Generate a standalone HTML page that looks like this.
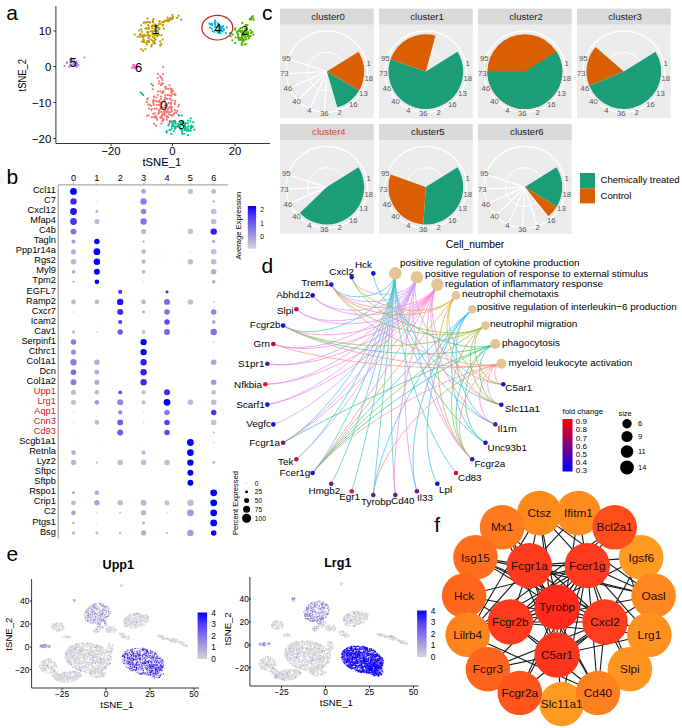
<!DOCTYPE html>
<html><head><meta charset="utf-8"><title>Figure</title>
<style>html,body{margin:0;padding:0;background:#fff}body{width:682px;height:728px;overflow:hidden;font-family:"Liberation Sans",sans-serif}svg{display:block}text{font-family:"Liberation Sans",sans-serif}</style>
</head><body>
<svg width="682" height="728" viewBox="0 0 682 728" font-family="Liberation Sans, sans-serif">
<rect width="682" height="728" fill="#fff"/>
<text x="6.2" y="19.8" font-size="21" text-anchor="start" fill="#000" >a</text>
<text x="6.5" y="183.9" font-size="21" text-anchor="start" fill="#000" >b</text>
<text x="262.1" y="20.0" font-size="21" text-anchor="start" fill="#000" >c</text>
<text x="261.6" y="273.0" font-size="21" text-anchor="start" fill="#000" >d</text>
<text x="6.4" y="561.3" font-size="21" text-anchor="start" fill="#000" >e</text>
<text x="434.3" y="532.0" font-size="21" text-anchor="start" fill="#000" >f</text>
<path d="M55.9 6V143.5H270" fill="none" stroke="#000" stroke-width="0.8"/>
<path d="M53.4 31H55.9" stroke="#000" stroke-width="0.8"/>
<text x="51.3" y="35.0" font-size="11.4" text-anchor="end" fill="#000" >10</text>
<path d="M53.4 66.5H55.9" stroke="#000" stroke-width="0.8"/>
<text x="51.3" y="70.5" font-size="11.4" text-anchor="end" fill="#000" >0</text>
<path d="M53.4 102.5H55.9" stroke="#000" stroke-width="0.8"/>
<text x="51.3" y="106.5" font-size="11.4" text-anchor="end" fill="#000" >−10</text>
<path d="M53.4 138.5H55.9" stroke="#000" stroke-width="0.8"/>
<text x="51.3" y="142.5" font-size="11.4" text-anchor="end" fill="#000" >−20</text>
<path d="M111 143.5v2.5" stroke="#000" stroke-width="0.8"/>
<text x="111.0" y="155.1" font-size="11.3" text-anchor="middle" fill="#000" >−20</text>
<path d="M172.5 143.5v2.5" stroke="#000" stroke-width="0.8"/>
<text x="172.5" y="155.1" font-size="11.3" text-anchor="middle" fill="#000" >0</text>
<path d="M235 143.5v2.5" stroke="#000" stroke-width="0.8"/>
<text x="235.0" y="155.1" font-size="11.3" text-anchor="middle" fill="#000" >20</text>
<text x="161.9" y="166.2" font-size="11.3" text-anchor="middle" fill="#000" >tSNE_1</text>
<text x="26.3" y="75.2" font-size="10.6" text-anchor="middle" fill="#000" transform="rotate(-90 26.3 75.2)" textLength="32.6" lengthAdjust="spacingAndGlyphs">tSNE_2</text>
<g fill="#F8766D"><circle cx="159.7" cy="111.9" r="1.1"/><circle cx="160.0" cy="102.4" r="1.1"/><circle cx="153.6" cy="103.5" r="1.1"/><circle cx="172.0" cy="110.9" r="1.1"/><circle cx="171.3" cy="108.9" r="1.1"/><circle cx="165.6" cy="108.1" r="1.1"/><circle cx="147.0" cy="115.8" r="1.1"/><circle cx="166.6" cy="111.7" r="1.1"/><circle cx="154.0" cy="100.6" r="1.1"/><circle cx="164.7" cy="105.5" r="1.1"/><circle cx="166.7" cy="98.6" r="1.1"/><circle cx="164.8" cy="110.5" r="1.1"/><circle cx="156.0" cy="125.8" r="1.1"/><circle cx="167.0" cy="119.8" r="1.1"/><circle cx="156.4" cy="97.5" r="1.1"/><circle cx="158.9" cy="104.8" r="1.1"/><circle cx="167.7" cy="108.9" r="1.1"/><circle cx="158.0" cy="95.0" r="1.1"/><circle cx="157.3" cy="120.0" r="1.1"/><circle cx="154.7" cy="108.8" r="1.1"/><circle cx="165.8" cy="88.9" r="1.1"/><circle cx="162.4" cy="121.0" r="1.1"/><circle cx="161.0" cy="96.6" r="1.1"/><circle cx="166.5" cy="105.3" r="1.1"/><circle cx="148.8" cy="115.5" r="1.1"/><circle cx="168.0" cy="116.9" r="1.1"/><circle cx="175.0" cy="110.2" r="1.1"/><circle cx="163.1" cy="91.1" r="1.1"/><circle cx="167.5" cy="99.0" r="1.1"/><circle cx="157.9" cy="91.5" r="1.1"/><circle cx="153.3" cy="99.9" r="1.1"/><circle cx="148.9" cy="108.8" r="1.1"/><circle cx="175.0" cy="112.7" r="1.1"/><circle cx="165.2" cy="97.5" r="1.1"/><circle cx="151.9" cy="117.2" r="1.1"/><circle cx="171.9" cy="107.8" r="1.1"/><circle cx="164.2" cy="111.0" r="1.1"/><circle cx="176.3" cy="113.1" r="1.1"/><circle cx="166.7" cy="112.3" r="1.1"/><circle cx="170.6" cy="112.1" r="1.1"/><circle cx="169.6" cy="85.2" r="1.1"/><circle cx="160.3" cy="117.7" r="1.1"/><circle cx="167.0" cy="104.3" r="1.1"/><circle cx="164.9" cy="113.5" r="1.1"/><circle cx="163.1" cy="119.2" r="1.1"/><circle cx="156.0" cy="101.2" r="1.1"/><circle cx="171.4" cy="106.3" r="1.1"/><circle cx="154.1" cy="116.9" r="1.1"/><circle cx="175.2" cy="100.9" r="1.1"/><circle cx="149.6" cy="104.5" r="1.1"/><circle cx="160.7" cy="102.6" r="1.1"/><circle cx="174.6" cy="94.2" r="1.1"/><circle cx="173.3" cy="91.4" r="1.1"/><circle cx="154.9" cy="113.3" r="1.1"/><circle cx="172.2" cy="115.9" r="1.1"/><circle cx="165.1" cy="107.6" r="1.1"/><circle cx="163.4" cy="112.6" r="1.1"/><circle cx="160.4" cy="109.2" r="1.1"/><circle cx="167.2" cy="106.0" r="1.1"/><circle cx="168.9" cy="112.5" r="1.1"/><circle cx="158.2" cy="101.7" r="1.1"/><circle cx="161.9" cy="116.6" r="1.1"/><circle cx="159.0" cy="110.4" r="1.1"/><circle cx="151.9" cy="108.8" r="1.1"/><circle cx="165.6" cy="108.7" r="1.1"/><circle cx="158.1" cy="113.5" r="1.1"/><circle cx="164.5" cy="100.0" r="1.1"/><circle cx="157.0" cy="104.9" r="1.1"/><circle cx="160.0" cy="105.3" r="1.1"/><circle cx="171.1" cy="92.6" r="1.1"/><circle cx="161.4" cy="117.0" r="1.1"/><circle cx="169.7" cy="123.1" r="1.1"/><circle cx="146.7" cy="101.9" r="1.1"/><circle cx="158.9" cy="113.2" r="1.1"/><circle cx="171.8" cy="89.4" r="1.1"/><circle cx="168.1" cy="88.8" r="1.1"/><circle cx="163.6" cy="119.7" r="1.1"/><circle cx="160.7" cy="108.2" r="1.1"/><circle cx="169.2" cy="107.6" r="1.1"/><circle cx="161.2" cy="123.6" r="1.1"/><circle cx="171.4" cy="102.6" r="1.1"/><circle cx="170.2" cy="102.9" r="1.1"/><circle cx="163.2" cy="114.1" r="1.1"/><circle cx="164.0" cy="113.3" r="1.1"/><circle cx="167.5" cy="94.9" r="1.1"/><circle cx="152.8" cy="89.1" r="1.1"/><circle cx="173.4" cy="114.6" r="1.1"/><circle cx="175.3" cy="95.2" r="1.1"/><circle cx="162.0" cy="92.9" r="1.1"/><circle cx="168.9" cy="124.3" r="1.1"/><circle cx="154.0" cy="123.9" r="1.1"/><circle cx="170.9" cy="104.0" r="1.1"/><circle cx="161.1" cy="99.1" r="1.1"/><circle cx="165.6" cy="110.7" r="1.1"/><circle cx="175.5" cy="94.3" r="1.1"/><circle cx="172.2" cy="123.1" r="1.1"/><circle cx="175.1" cy="103.9" r="1.1"/><circle cx="155.3" cy="117.7" r="1.1"/><circle cx="163.0" cy="107.4" r="1.1"/><circle cx="174.8" cy="103.0" r="1.1"/><circle cx="164.9" cy="99.0" r="1.1"/><circle cx="161.9" cy="115.6" r="1.1"/><circle cx="162.7" cy="121.3" r="1.1"/><circle cx="161.4" cy="118.0" r="1.1"/><circle cx="156.0" cy="116.1" r="1.1"/><circle cx="150.9" cy="105.9" r="1.1"/><circle cx="160.3" cy="105.7" r="1.1"/><circle cx="156.7" cy="108.7" r="1.1"/><circle cx="178.1" cy="106.5" r="1.1"/><circle cx="166.8" cy="117.5" r="1.1"/><circle cx="160.2" cy="91.5" r="1.1"/><circle cx="157.0" cy="118.3" r="1.1"/><circle cx="147.2" cy="99.1" r="1.1"/><circle cx="171.1" cy="115.1" r="1.1"/><circle cx="162.1" cy="115.3" r="1.1"/><circle cx="163.5" cy="92.4" r="1.1"/><circle cx="147.9" cy="98.7" r="1.1"/><circle cx="170.3" cy="99.5" r="1.1"/><circle cx="153.9" cy="97.1" r="1.1"/><circle cx="148.2" cy="104.7" r="1.1"/><circle cx="151.4" cy="110.2" r="1.1"/><circle cx="168.5" cy="102.8" r="1.1"/><circle cx="164.6" cy="100.7" r="1.1"/><circle cx="169.0" cy="114.6" r="1.1"/><circle cx="168.0" cy="109.8" r="1.1"/><circle cx="174.0" cy="113.6" r="1.1"/><circle cx="170.1" cy="121.1" r="1.1"/><circle cx="159.3" cy="100.6" r="1.1"/><circle cx="153.7" cy="113.9" r="1.1"/><circle cx="179.0" cy="104.6" r="1.1"/><circle cx="167.1" cy="116.4" r="1.1"/><circle cx="153.8" cy="105.0" r="1.1"/><circle cx="164.6" cy="115.5" r="1.1"/><circle cx="161.7" cy="103.8" r="1.1"/><circle cx="152.9" cy="101.9" r="1.1"/><circle cx="170.0" cy="107.2" r="1.1"/><circle cx="154.3" cy="96.3" r="1.1"/><circle cx="167.6" cy="111.5" r="1.1"/><circle cx="177.2" cy="110.9" r="1.1"/><circle cx="161.4" cy="112.0" r="1.1"/><circle cx="161.8" cy="77.8" r="1.1"/><circle cx="157.5" cy="78.0" r="1.1"/><circle cx="161.7" cy="83.1" r="1.1"/><circle cx="160.0" cy="76.2" r="1.1"/><circle cx="158.0" cy="73.9" r="1.1"/><circle cx="165.3" cy="87.9" r="1.1"/><circle cx="165.6" cy="86.9" r="1.1"/><circle cx="158.8" cy="83.6" r="1.1"/><circle cx="160.9" cy="85.1" r="1.1"/><circle cx="159.2" cy="81.3" r="1.1"/><circle cx="162.1" cy="84.3" r="1.1"/><circle cx="162.6" cy="83.3" r="1.1"/><circle cx="170.0" cy="98.9" r="1.1"/><circle cx="171.1" cy="90.9" r="1.1"/><circle cx="169.1" cy="95.0" r="1.1"/><circle cx="170.7" cy="95.8" r="1.1"/><circle cx="171.0" cy="95.9" r="1.1"/><circle cx="170.6" cy="88.7" r="1.1"/><circle cx="172.3" cy="100.3" r="1.1"/><circle cx="172.3" cy="94.1" r="1.1"/><circle cx="172.3" cy="90.2" r="1.1"/><circle cx="165.3" cy="95.3" r="1.1"/><circle cx="163.0" cy="67.0" r="1.1"/><circle cx="163.0" cy="74.0" r="1.1"/><circle cx="161.0" cy="77.6" r="1.1"/><circle cx="162.5" cy="80.0" r="1.1"/></g>
<g fill="#C49A00"><circle cx="142.0" cy="41.7" r="1.1"/><circle cx="141.2" cy="49.2" r="1.1"/><circle cx="146.1" cy="22.7" r="1.1"/><circle cx="143.3" cy="39.7" r="1.1"/><circle cx="152.7" cy="36.6" r="1.1"/><circle cx="160.1" cy="41.4" r="1.1"/><circle cx="148.8" cy="40.4" r="1.1"/><circle cx="161.4" cy="43.7" r="1.1"/><circle cx="156.7" cy="25.3" r="1.1"/><circle cx="147.9" cy="41.6" r="1.1"/><circle cx="146.8" cy="44.6" r="1.1"/><circle cx="153.5" cy="43.2" r="1.1"/><circle cx="158.3" cy="33.1" r="1.1"/><circle cx="146.4" cy="42.9" r="1.1"/><circle cx="156.4" cy="35.1" r="1.1"/><circle cx="140.2" cy="36.7" r="1.1"/><circle cx="151.7" cy="45.2" r="1.1"/><circle cx="154.9" cy="35.2" r="1.1"/><circle cx="155.4" cy="39.9" r="1.1"/><circle cx="150.5" cy="35.5" r="1.1"/><circle cx="147.2" cy="41.2" r="1.1"/><circle cx="141.1" cy="29.3" r="1.1"/><circle cx="149.0" cy="21.8" r="1.1"/><circle cx="143.9" cy="40.1" r="1.1"/><circle cx="153.2" cy="34.5" r="1.1"/><circle cx="147.3" cy="22.2" r="1.1"/><circle cx="162.7" cy="39.6" r="1.1"/><circle cx="157.2" cy="27.1" r="1.1"/><circle cx="147.6" cy="18.6" r="1.1"/><circle cx="154.9" cy="43.4" r="1.1"/><circle cx="134.8" cy="34.5" r="1.1"/><circle cx="153.7" cy="19.1" r="1.1"/><circle cx="144.3" cy="22.4" r="1.1"/><circle cx="149.2" cy="37.2" r="1.1"/><circle cx="153.8" cy="41.3" r="1.1"/><circle cx="160.3" cy="45.5" r="1.1"/><circle cx="139.2" cy="30.5" r="1.1"/><circle cx="141.0" cy="25.3" r="1.1"/><circle cx="148.4" cy="35.0" r="1.1"/><circle cx="152.7" cy="20.7" r="1.1"/><circle cx="139.7" cy="34.8" r="1.1"/><circle cx="147.5" cy="32.2" r="1.1"/><circle cx="148.5" cy="28.2" r="1.1"/><circle cx="154.3" cy="38.2" r="1.1"/><circle cx="148.3" cy="29.0" r="1.1"/><circle cx="141.6" cy="35.3" r="1.1"/><circle cx="137.7" cy="36.8" r="1.1"/><circle cx="150.1" cy="22.6" r="1.1"/><circle cx="147.1" cy="32.2" r="1.1"/><circle cx="152.4" cy="40.5" r="1.1"/><circle cx="148.7" cy="27.3" r="1.1"/><circle cx="147.9" cy="34.4" r="1.1"/><circle cx="154.5" cy="37.6" r="1.1"/><circle cx="143.6" cy="22.8" r="1.1"/><circle cx="146.2" cy="28.3" r="1.1"/><circle cx="140.7" cy="34.0" r="1.1"/><circle cx="145.3" cy="35.9" r="1.1"/><circle cx="152.9" cy="31.3" r="1.1"/><circle cx="157.3" cy="36.1" r="1.1"/><circle cx="143.4" cy="37.2" r="1.1"/><circle cx="151.4" cy="46.5" r="1.1"/><circle cx="154.7" cy="43.5" r="1.1"/><circle cx="152.8" cy="33.6" r="1.1"/><circle cx="152.8" cy="25.3" r="1.1"/><circle cx="157.9" cy="25.8" r="1.1"/><circle cx="147.3" cy="35.2" r="1.1"/><circle cx="157.7" cy="35.2" r="1.1"/><circle cx="142.9" cy="37.3" r="1.1"/><circle cx="153.4" cy="41.4" r="1.1"/><circle cx="143.2" cy="50.8" r="1.1"/><circle cx="161.5" cy="35.2" r="1.1"/><circle cx="151.0" cy="31.1" r="1.1"/><circle cx="159.6" cy="28.7" r="1.1"/><circle cx="154.1" cy="30.7" r="1.1"/><circle cx="143.8" cy="41.5" r="1.1"/><circle cx="159.0" cy="34.9" r="1.1"/><circle cx="143.9" cy="42.3" r="1.1"/><circle cx="148.6" cy="37.8" r="1.1"/><circle cx="160.4" cy="45.2" r="1.1"/><circle cx="149.0" cy="42.1" r="1.1"/><circle cx="144.1" cy="34.6" r="1.1"/><circle cx="159.2" cy="24.1" r="1.1"/><circle cx="157.8" cy="30.9" r="1.1"/><circle cx="148.5" cy="32.2" r="1.1"/><circle cx="148.1" cy="25.2" r="1.1"/><circle cx="149.2" cy="22.1" r="1.1"/><circle cx="148.5" cy="37.8" r="1.1"/><circle cx="152.5" cy="32.9" r="1.1"/><circle cx="142.2" cy="36.4" r="1.1"/><circle cx="145.4" cy="49.1" r="1.1"/><circle cx="154.8" cy="34.0" r="1.1"/><circle cx="145.5" cy="28.7" r="1.1"/><circle cx="142.0" cy="31.8" r="1.1"/><circle cx="151.2" cy="39.6" r="1.1"/><circle cx="143.7" cy="35.1" r="1.1"/><circle cx="165.0" cy="20.6" r="1.1"/><circle cx="169.1" cy="20.1" r="1.1"/><circle cx="166.8" cy="20.6" r="1.1"/><circle cx="168.7" cy="20.9" r="1.1"/><circle cx="167.5" cy="17.5" r="1.1"/><circle cx="162.2" cy="22.2" r="1.1"/><circle cx="164.5" cy="21.7" r="1.1"/><circle cx="172.5" cy="19.0" r="1.1"/><circle cx="170.9" cy="18.6" r="1.1"/><circle cx="159.8" cy="21.5" r="1.1"/><circle cx="170.4" cy="17.8" r="1.1"/><circle cx="167.8" cy="21.1" r="1.1"/><circle cx="163.2" cy="22.0" r="1.1"/><circle cx="178.6" cy="15.7" r="1.1"/><circle cx="168.8" cy="19.0" r="1.1"/><circle cx="177.1" cy="17.9" r="1.1"/><circle cx="172.9" cy="16.9" r="1.1"/><circle cx="167.9" cy="19.5" r="1.1"/><circle cx="172.4" cy="14.8" r="1.1"/><circle cx="172.3" cy="18.2" r="1.1"/><circle cx="170.8" cy="19.6" r="1.1"/><circle cx="159.2" cy="21.3" r="1.1"/><circle cx="163.0" cy="24.7" r="1.1"/><circle cx="152.9" cy="21.6" r="1.1"/><circle cx="152.1" cy="28.3" r="1.1"/><circle cx="163.8" cy="28.7" r="1.1"/><circle cx="154.9" cy="24.3" r="1.1"/><circle cx="159.1" cy="29.2" r="1.1"/><circle cx="152.9" cy="22.3" r="1.1"/><circle cx="158.2" cy="28.0" r="1.1"/><circle cx="151.8" cy="26.2" r="1.1"/><circle cx="154.8" cy="28.8" r="1.1"/><circle cx="156.5" cy="26.7" r="1.1"/><circle cx="155.6" cy="31.2" r="1.1"/><circle cx="162.6" cy="25.5" r="1.1"/><circle cx="160.4" cy="24.0" r="1.1"/></g>
<g fill="#53B400"><circle cx="243.0" cy="39.0" r="1.1"/><circle cx="252.3" cy="32.2" r="1.1"/><circle cx="242.0" cy="35.7" r="1.1"/><circle cx="232.8" cy="34.6" r="1.1"/><circle cx="238.1" cy="36.7" r="1.1"/><circle cx="242.7" cy="36.1" r="1.1"/><circle cx="238.9" cy="39.8" r="1.1"/><circle cx="240.7" cy="30.9" r="1.1"/><circle cx="245.6" cy="25.1" r="1.1"/><circle cx="238.1" cy="34.4" r="1.1"/><circle cx="248.0" cy="33.5" r="1.1"/><circle cx="244.5" cy="30.6" r="1.1"/><circle cx="244.5" cy="44.5" r="1.1"/><circle cx="238.3" cy="34.6" r="1.1"/><circle cx="243.6" cy="40.6" r="1.1"/><circle cx="246.4" cy="39.3" r="1.1"/><circle cx="243.8" cy="36.0" r="1.1"/><circle cx="248.5" cy="36.7" r="1.1"/><circle cx="247.8" cy="32.3" r="1.1"/><circle cx="242.5" cy="33.0" r="1.1"/><circle cx="239.3" cy="29.5" r="1.1"/><circle cx="238.4" cy="38.3" r="1.1"/><circle cx="242.7" cy="34.9" r="1.1"/><circle cx="241.4" cy="40.0" r="1.1"/><circle cx="245.7" cy="33.6" r="1.1"/><circle cx="246.8" cy="33.6" r="1.1"/><circle cx="235.0" cy="43.2" r="1.1"/><circle cx="245.5" cy="28.8" r="1.1"/><circle cx="249.5" cy="36.6" r="1.1"/><circle cx="244.7" cy="39.8" r="1.1"/><circle cx="243.8" cy="33.6" r="1.1"/><circle cx="232.4" cy="40.3" r="1.1"/><circle cx="242.7" cy="32.8" r="1.1"/><circle cx="244.8" cy="35.0" r="1.1"/><circle cx="246.9" cy="32.3" r="1.1"/><circle cx="239.7" cy="38.6" r="1.1"/><circle cx="251.2" cy="32.3" r="1.1"/><circle cx="241.7" cy="44.0" r="1.1"/><circle cx="240.4" cy="38.9" r="1.1"/><circle cx="253.4" cy="34.7" r="1.1"/><circle cx="250.5" cy="30.2" r="1.1"/><circle cx="243.8" cy="34.0" r="1.1"/><circle cx="243.2" cy="41.3" r="1.1"/><circle cx="238.8" cy="37.5" r="1.1"/><circle cx="235.6" cy="37.5" r="1.1"/><circle cx="246.2" cy="32.8" r="1.1"/><circle cx="246.0" cy="25.2" r="1.1"/><circle cx="247.4" cy="25.2" r="1.1"/><circle cx="238.0" cy="31.2" r="1.1"/><circle cx="239.9" cy="39.7" r="1.1"/><circle cx="243.0" cy="32.1" r="1.1"/><circle cx="246.0" cy="44.0" r="1.1"/><circle cx="242.5" cy="36.7" r="1.1"/><circle cx="250.6" cy="36.1" r="1.1"/><circle cx="242.2" cy="37.0" r="1.1"/><circle cx="248.8" cy="38.5" r="1.1"/><circle cx="240.7" cy="28.2" r="1.1"/><circle cx="243.2" cy="40.7" r="1.1"/><circle cx="235.4" cy="28.3" r="1.1"/><circle cx="242.3" cy="22.9" r="1.1"/><circle cx="240.8" cy="31.9" r="1.1"/><circle cx="245.4" cy="30.3" r="1.1"/><circle cx="236.8" cy="32.1" r="1.1"/><circle cx="242.2" cy="30.5" r="1.1"/><circle cx="242.6" cy="39.0" r="1.1"/><circle cx="237.4" cy="32.0" r="1.1"/><circle cx="237.8" cy="34.3" r="1.1"/><circle cx="245.9" cy="26.3" r="1.1"/><circle cx="245.5" cy="34.3" r="1.1"/><circle cx="230.6" cy="36.3" r="1.1"/><circle cx="247.7" cy="35.8" r="1.1"/><circle cx="245.6" cy="37.1" r="1.1"/><circle cx="251.0" cy="33.2" r="1.1"/><circle cx="248.2" cy="32.0" r="1.1"/><circle cx="247.2" cy="29.6" r="1.1"/><circle cx="241.8" cy="44.9" r="1.1"/><circle cx="245.4" cy="33.6" r="1.1"/><circle cx="235.1" cy="29.8" r="1.1"/><circle cx="243.8" cy="40.1" r="1.1"/><circle cx="245.3" cy="37.6" r="1.1"/><circle cx="242.2" cy="42.6" r="1.1"/><circle cx="240.0" cy="31.2" r="1.1"/><circle cx="248.3" cy="34.9" r="1.1"/><circle cx="240.7" cy="31.0" r="1.1"/><circle cx="240.8" cy="38.2" r="1.1"/><circle cx="252.8" cy="16.2" r="1.1"/><circle cx="253.0" cy="18.3" r="1.1"/><circle cx="249.7" cy="19.2" r="1.1"/><circle cx="251.4" cy="17.5" r="1.1"/><circle cx="253.8" cy="20.0" r="1.1"/><circle cx="250.5" cy="18.7" r="1.1"/><circle cx="250.9" cy="19.8" r="1.1"/><circle cx="250.5" cy="19.2" r="1.1"/><circle cx="251.0" cy="18.8" r="1.1"/><circle cx="251.8" cy="17.0" r="1.1"/></g>
<g fill="#00C094"><circle cx="166.5" cy="131.1" r="1.1"/><circle cx="175.6" cy="126.9" r="1.1"/><circle cx="191.2" cy="126.7" r="1.1"/><circle cx="190.6" cy="130.4" r="1.1"/><circle cx="173.6" cy="131.2" r="1.1"/><circle cx="184.7" cy="129.9" r="1.1"/><circle cx="188.2" cy="130.4" r="1.1"/><circle cx="181.9" cy="129.0" r="1.1"/><circle cx="177.7" cy="126.2" r="1.1"/><circle cx="188.0" cy="123.3" r="1.1"/><circle cx="190.3" cy="121.3" r="1.1"/><circle cx="182.8" cy="122.8" r="1.1"/><circle cx="181.8" cy="121.9" r="1.1"/><circle cx="166.9" cy="132.6" r="1.1"/><circle cx="183.1" cy="122.6" r="1.1"/><circle cx="182.2" cy="131.9" r="1.1"/><circle cx="172.2" cy="125.3" r="1.1"/><circle cx="185.1" cy="129.2" r="1.1"/><circle cx="191.1" cy="128.0" r="1.1"/><circle cx="180.6" cy="124.3" r="1.1"/><circle cx="182.7" cy="123.4" r="1.1"/><circle cx="171.8" cy="121.6" r="1.1"/><circle cx="175.4" cy="122.3" r="1.1"/><circle cx="170.7" cy="129.8" r="1.1"/><circle cx="169.4" cy="130.0" r="1.1"/><circle cx="171.9" cy="128.1" r="1.1"/><circle cx="192.2" cy="127.2" r="1.1"/><circle cx="174.3" cy="126.3" r="1.1"/><circle cx="181.8" cy="115.6" r="1.1"/><circle cx="175.3" cy="127.0" r="1.1"/><circle cx="176.5" cy="126.5" r="1.1"/><circle cx="186.7" cy="130.6" r="1.1"/><circle cx="188.2" cy="129.5" r="1.1"/><circle cx="178.1" cy="125.9" r="1.1"/><circle cx="178.2" cy="124.1" r="1.1"/><circle cx="179.0" cy="115.7" r="1.1"/><circle cx="177.7" cy="125.9" r="1.1"/><circle cx="172.2" cy="125.9" r="1.1"/><circle cx="184.9" cy="125.0" r="1.1"/><circle cx="178.7" cy="115.0" r="1.1"/><circle cx="184.9" cy="124.2" r="1.1"/><circle cx="187.7" cy="128.2" r="1.1"/><circle cx="180.7" cy="122.5" r="1.1"/><circle cx="185.9" cy="123.1" r="1.1"/><circle cx="182.4" cy="122.9" r="1.1"/><circle cx="182.2" cy="130.5" r="1.1"/><circle cx="173.1" cy="125.8" r="1.1"/><circle cx="185.7" cy="126.9" r="1.1"/><circle cx="187.8" cy="135.2" r="1.1"/><circle cx="188.3" cy="130.9" r="1.1"/><circle cx="175.2" cy="121.7" r="1.1"/><circle cx="188.1" cy="120.5" r="1.1"/><circle cx="174.7" cy="121.6" r="1.1"/><circle cx="182.5" cy="121.5" r="1.1"/><circle cx="191.6" cy="125.5" r="1.1"/><circle cx="171.3" cy="133.9" r="1.1"/><circle cx="175.5" cy="127.3" r="1.1"/><circle cx="180.4" cy="124.1" r="1.1"/><circle cx="183.3" cy="121.8" r="1.1"/><circle cx="169.7" cy="121.4" r="1.1"/><circle cx="180.3" cy="126.3" r="1.1"/><circle cx="185.2" cy="126.7" r="1.1"/><circle cx="173.8" cy="121.7" r="1.1"/><circle cx="184.6" cy="129.2" r="1.1"/><circle cx="179.5" cy="125.0" r="1.1"/><circle cx="188.5" cy="126.1" r="1.1"/><circle cx="186.8" cy="129.5" r="1.1"/><circle cx="182.3" cy="133.8" r="1.1"/><circle cx="175.6" cy="123.8" r="1.1"/><circle cx="173.6" cy="121.2" r="1.1"/><circle cx="180.7" cy="129.4" r="1.1"/><circle cx="190.5" cy="130.8" r="1.1"/><circle cx="190.7" cy="118.4" r="1.1"/><circle cx="175.1" cy="128.7" r="1.1"/><circle cx="192.7" cy="126.6" r="1.1"/><circle cx="173.2" cy="123.9" r="1.1"/><circle cx="174.9" cy="120.9" r="1.1"/><circle cx="193.3" cy="122.2" r="1.1"/><circle cx="190.6" cy="128.0" r="1.1"/><circle cx="175.3" cy="128.5" r="1.1"/><circle cx="194.3" cy="129.7" r="1.1"/><circle cx="191.2" cy="126.6" r="1.1"/><circle cx="184.9" cy="124.8" r="1.1"/><circle cx="184.1" cy="133.8" r="1.1"/><circle cx="168.3" cy="125.6" r="1.1"/></g>
<g fill="#00B6EB"><circle cx="221.7" cy="28.4" r="1.1"/><circle cx="217.7" cy="31.0" r="1.1"/><circle cx="223.0" cy="26.0" r="1.1"/><circle cx="230.0" cy="33.0" r="1.1"/><circle cx="220.8" cy="26.5" r="1.1"/><circle cx="220.6" cy="26.5" r="1.1"/><circle cx="220.0" cy="30.8" r="1.1"/><circle cx="219.9" cy="30.3" r="1.1"/><circle cx="214.3" cy="31.8" r="1.1"/><circle cx="218.1" cy="23.6" r="1.1"/><circle cx="219.7" cy="27.2" r="1.1"/><circle cx="215.0" cy="26.9" r="1.1"/><circle cx="222.5" cy="26.9" r="1.1"/><circle cx="218.1" cy="33.0" r="1.1"/><circle cx="223.7" cy="30.3" r="1.1"/><circle cx="220.8" cy="29.4" r="1.1"/><circle cx="219.1" cy="31.3" r="1.1"/><circle cx="220.6" cy="27.1" r="1.1"/><circle cx="223.9" cy="29.0" r="1.1"/><circle cx="215.5" cy="24.8" r="1.1"/><circle cx="209.9" cy="27.3" r="1.1"/><circle cx="218.2" cy="23.5" r="1.1"/><circle cx="211.7" cy="28.6" r="1.1"/><circle cx="216.3" cy="27.2" r="1.1"/><circle cx="220.6" cy="33.6" r="1.1"/><circle cx="220.6" cy="30.2" r="1.1"/><circle cx="218.0" cy="30.2" r="1.1"/><circle cx="221.5" cy="30.1" r="1.1"/><circle cx="218.5" cy="25.2" r="1.1"/><circle cx="218.5" cy="24.6" r="1.1"/><circle cx="225.9" cy="33.0" r="1.1"/><circle cx="212.5" cy="31.1" r="1.1"/><circle cx="222.4" cy="31.5" r="1.1"/><circle cx="220.9" cy="30.3" r="1.1"/><circle cx="226.8" cy="27.4" r="1.1"/><circle cx="214.7" cy="23.7" r="1.1"/><circle cx="217.6" cy="27.0" r="1.1"/><circle cx="221.7" cy="30.8" r="1.1"/><circle cx="220.7" cy="27.8" r="1.1"/><circle cx="216.9" cy="31.2" r="1.1"/><circle cx="214.7" cy="22.7" r="1.1"/><circle cx="212.3" cy="25.2" r="1.1"/><circle cx="211.7" cy="23.6" r="1.1"/><circle cx="215.6" cy="22.0" r="1.1"/><circle cx="214.9" cy="20.5" r="1.1"/><circle cx="215.3" cy="22.8" r="1.1"/><circle cx="209.4" cy="23.7" r="1.1"/><circle cx="211.0" cy="24.7" r="1.1"/></g>
<g fill="#A58AFF"><circle cx="70.6" cy="62.6" r="1.1"/><circle cx="74.0" cy="62.2" r="1.1"/><circle cx="73.9" cy="61.6" r="1.1"/><circle cx="75.4" cy="63.0" r="1.1"/><circle cx="77.1" cy="63.1" r="1.1"/><circle cx="66.8" cy="63.2" r="1.1"/><circle cx="74.6" cy="65.7" r="1.1"/><circle cx="69.2" cy="66.9" r="1.1"/><circle cx="72.5" cy="64.7" r="1.1"/><circle cx="71.7" cy="60.2" r="1.1"/><circle cx="76.8" cy="65.3" r="1.1"/><circle cx="78.4" cy="65.1" r="1.1"/><circle cx="71.0" cy="58.8" r="1.1"/><circle cx="70.7" cy="61.3" r="1.1"/><circle cx="70.1" cy="64.5" r="1.1"/><circle cx="74.1" cy="62.3" r="1.1"/><circle cx="73.6" cy="62.6" r="1.1"/><circle cx="73.7" cy="64.9" r="1.1"/><circle cx="76.4" cy="61.3" r="1.1"/><circle cx="73.4" cy="65.8" r="1.1"/><circle cx="67.2" cy="62.2" r="1.1"/><circle cx="73.1" cy="59.4" r="1.1"/><circle cx="71.2" cy="64.8" r="1.1"/><circle cx="76.8" cy="67.0" r="1.1"/><circle cx="70.0" cy="59.5" r="1.1"/><circle cx="74.8" cy="65.4" r="1.1"/><circle cx="73.7" cy="59.7" r="1.1"/><circle cx="75.7" cy="65.0" r="1.1"/><circle cx="74.9" cy="61.8" r="1.1"/><circle cx="74.1" cy="65.0" r="1.1"/><circle cx="71.0" cy="58.4" r="1.1"/><circle cx="74.2" cy="64.2" r="1.1"/><circle cx="84.5" cy="57.5" r="1.1"/><circle cx="64.5" cy="66.0" r="1.1"/></g>
<g fill="#FB61D7"><circle cx="134.5" cy="67.7" r="1.1"/><circle cx="133.5" cy="66.4" r="1.1"/><circle cx="134.0" cy="67.3" r="1.1"/><circle cx="137.3" cy="66.1" r="1.1"/><circle cx="135.9" cy="67.3" r="1.1"/><circle cx="137.6" cy="66.2" r="1.1"/><circle cx="134.3" cy="65.0" r="1.1"/><circle cx="135.3" cy="68.4" r="1.1"/><circle cx="135.4" cy="67.1" r="1.1"/><circle cx="134.1" cy="66.7" r="1.1"/><circle cx="132.0" cy="68.0" r="1.1"/><circle cx="133.8" cy="65.0" r="1.1"/><circle cx="133.2" cy="65.3" r="1.1"/><circle cx="136.0" cy="68.0" r="1.1"/></g>
<circle cx="181.3" cy="19.8" r="1.1" fill="#00B6EB"/>
<circle cx="140.7" cy="92.6" r="1.1" fill="#53B400"/><circle cx="142" cy="93.8" r="1.1" fill="#00C094"/><circle cx="143.3" cy="95" r="1.1" fill="#00C094"/><circle cx="151.5" cy="84.2" r="1.1" fill="#C49A00"/><circle cx="153" cy="85.7" r="1.1" fill="#C49A00"/>
<text x="163.5" y="109.6" font-size="13" text-anchor="middle" fill="#000" >0</text>
<text x="155.6" y="34.3" font-size="13" text-anchor="middle" fill="#000" >1</text>
<text x="244.7" y="35.4" font-size="13" text-anchor="middle" fill="#000" >2</text>
<text x="181.3" y="129.3" font-size="13" text-anchor="middle" fill="#000" >3</text>
<text x="217.9" y="32.7" font-size="13" text-anchor="middle" fill="#000" >4</text>
<text x="73.2" y="67.1" font-size="13" text-anchor="middle" fill="#000" >5</text>
<text x="138.6" y="71.6" font-size="13" text-anchor="middle" fill="#000" >6</text>
<ellipse cx="217.3" cy="27.7" rx="15.5" ry="12.3" fill="none" stroke="#b8281e" stroke-width="1.2"/>
<text x="73.5" y="181.3" font-size="9.2" text-anchor="middle" fill="#000" >0</text>
<path d="M73.5 183.2v1.6" stroke="#8a8a8a" stroke-width="0.7"/>
<text x="96.9" y="181.3" font-size="9.2" text-anchor="middle" fill="#000" >1</text>
<path d="M96.9 183.2v1.6" stroke="#8a8a8a" stroke-width="0.7"/>
<text x="120.2" y="181.3" font-size="9.2" text-anchor="middle" fill="#000" >2</text>
<path d="M120.2 183.2v1.6" stroke="#8a8a8a" stroke-width="0.7"/>
<text x="143.6" y="181.3" font-size="9.2" text-anchor="middle" fill="#000" >3</text>
<path d="M143.6 183.2v1.6" stroke="#8a8a8a" stroke-width="0.7"/>
<text x="167.0" y="181.3" font-size="9.2" text-anchor="middle" fill="#000" >4</text>
<path d="M167.0 183.2v1.6" stroke="#8a8a8a" stroke-width="0.7"/>
<text x="190.4" y="181.3" font-size="9.2" text-anchor="middle" fill="#000" >5</text>
<path d="M190.4 183.2v1.6" stroke="#8a8a8a" stroke-width="0.7"/>
<text x="213.7" y="181.3" font-size="9.2" text-anchor="middle" fill="#000" >6</text>
<path d="M213.7 183.2v1.6" stroke="#8a8a8a" stroke-width="0.7"/>
<path d="M58.2 538.8V184.9H228.3" fill="none" stroke="#8a8a8a" stroke-width="0.9"/>
<text x="55.9" y="193.0" font-size="9.25" text-anchor="end" fill="#000" >Ccl11</text>
<path d="M57 191.4h1.2" stroke="#b0b0b0" stroke-width="0.6"/>
<circle cx="73.5" cy="191.4" r="3.39" fill="#0000ff" opacity="1"/>
<circle cx="96.9" cy="191.4" r="0.53" fill="#d3d3d3" opacity="0.7"/>
<circle cx="120.2" cy="191.4" r="0.32" fill="#d3d3d3" opacity="0.7"/>
<circle cx="143.6" cy="191.4" r="2.33" fill="#ada2df" opacity="1"/>
<circle cx="190.4" cy="191.4" r="2.54" fill="#c1bbd9" opacity="1"/>
<circle cx="213.7" cy="191.4" r="2.33" fill="#bdb5da" opacity="1"/>
<text x="55.9" y="203.0" font-size="9.25" text-anchor="end" fill="#000" >C7</text>
<path d="M57 201.4h1.2" stroke="#b0b0b0" stroke-width="0.6"/>
<circle cx="73.5" cy="201.4" r="3.18" fill="#3c29f9" opacity="1"/>
<circle cx="96.9" cy="201.4" r="0.74" fill="#d3d3d3" opacity="0.7"/>
<circle cx="143.6" cy="201.4" r="3.18" fill="#8c7ae8" opacity="1"/>
<circle cx="213.7" cy="201.4" r="1.27" fill="#bdb5da" opacity="1"/>
<text x="55.9" y="213.1" font-size="9.25" text-anchor="end" fill="#000" >Cxcl12</text>
<path d="M57 211.5h1.2" stroke="#b0b0b0" stroke-width="0.6"/>
<circle cx="73.5" cy="211.5" r="3.39" fill="#1f11fd" opacity="1"/>
<circle cx="96.9" cy="211.5" r="1.48" fill="#b5abdd" opacity="1"/>
<circle cx="143.6" cy="211.5" r="2.76" fill="#9484e6" opacity="1"/>
<circle cx="213.7" cy="211.5" r="2.76" fill="#c1bbd9" opacity="1"/>
<text x="55.9" y="223.1" font-size="9.25" text-anchor="end" fill="#000" >Mfap4</text>
<path d="M57 221.5h1.2" stroke="#b0b0b0" stroke-width="0.6"/>
<circle cx="73.5" cy="221.5" r="3.39" fill="#4934f7" opacity="1"/>
<circle cx="96.9" cy="221.5" r="2.54" fill="#c1bbd9" opacity="1"/>
<circle cx="143.6" cy="221.5" r="3.18" fill="#8370ea" opacity="1"/>
<circle cx="213.7" cy="221.5" r="2.76" fill="#c1bbd9" opacity="1"/>
<text x="55.9" y="233.2" font-size="9.25" text-anchor="end" fill="#000" >C4b</text>
<path d="M57 231.6h1.2" stroke="#b0b0b0" stroke-width="0.6"/>
<circle cx="73.5" cy="231.6" r="2.97" fill="#8370ea" opacity="1"/>
<circle cx="96.9" cy="231.6" r="0.42" fill="#d3d3d3" opacity="0.7"/>
<circle cx="120.2" cy="231.6" r="0.42" fill="#d3d3d3" opacity="0.7"/>
<circle cx="143.6" cy="231.6" r="2.54" fill="#bdb5da" opacity="1"/>
<circle cx="167.0" cy="231.6" r="0.42" fill="#d3d3d3" opacity="0.7"/>
<circle cx="190.4" cy="231.6" r="2.76" fill="#c4bfd8" opacity="1"/>
<circle cx="213.7" cy="231.6" r="3.18" fill="#2f1efb" opacity="1"/>
<text x="55.9" y="243.2" font-size="9.25" text-anchor="end" fill="#000" >Tagln</text>
<path d="M57 241.6h1.2" stroke="#b0b0b0" stroke-width="0.6"/>
<circle cx="73.5" cy="241.6" r="2.12" fill="#ada2df" opacity="1"/>
<circle cx="96.9" cy="241.6" r="2.76" fill="#0000ff" opacity="1"/>
<circle cx="120.2" cy="241.6" r="0.42" fill="#d3d3d3" opacity="0.7"/>
<circle cx="143.6" cy="241.6" r="1.06" fill="#a598e2" opacity="1"/>
<circle cx="213.7" cy="241.6" r="1.48" fill="#a598e2" opacity="1"/>
<text x="55.9" y="253.3" font-size="9.25" text-anchor="end" fill="#000" >Ppp1r14a</text>
<path d="M57 251.7h1.2" stroke="#b0b0b0" stroke-width="0.6"/>
<circle cx="73.5" cy="251.7" r="2.54" fill="#b5abdd" opacity="1"/>
<circle cx="96.9" cy="251.7" r="3.39" fill="#0000ff" opacity="1"/>
<circle cx="120.2" cy="251.7" r="0.42" fill="#d3d3d3" opacity="0.7"/>
<circle cx="143.6" cy="251.7" r="2.33" fill="#bdb5da" opacity="1"/>
<circle cx="167.0" cy="251.7" r="0.42" fill="#d3d3d3" opacity="0.7"/>
<circle cx="190.4" cy="251.7" r="0.64" fill="#c4bfd8" opacity="0.7"/>
<circle cx="213.7" cy="251.7" r="2.76" fill="#c1bbd9" opacity="1"/>
<text x="55.9" y="263.3" font-size="9.25" text-anchor="end" fill="#000" >Rgs2</text>
<path d="M57 261.7h1.2" stroke="#b0b0b0" stroke-width="0.6"/>
<circle cx="73.5" cy="261.7" r="2.76" fill="#bdb5da" opacity="1"/>
<circle cx="96.9" cy="261.7" r="3.18" fill="#0000ff" opacity="1"/>
<circle cx="120.2" cy="261.7" r="0.42" fill="#d3d3d3" opacity="0.7"/>
<circle cx="143.6" cy="261.7" r="2.12" fill="#bdb5da" opacity="1"/>
<circle cx="167.0" cy="261.7" r="0.42" fill="#d3d3d3" opacity="0.7"/>
<circle cx="190.4" cy="261.7" r="2.76" fill="#c1bbd9" opacity="1"/>
<circle cx="213.7" cy="261.7" r="2.76" fill="#bdb5da" opacity="1"/>
<text x="55.9" y="273.4" font-size="9.25" text-anchor="end" fill="#000" >Myl9</text>
<path d="M57 271.8h1.2" stroke="#b0b0b0" stroke-width="0.6"/>
<circle cx="73.5" cy="271.8" r="1.91" fill="#b5abdd" opacity="1"/>
<circle cx="96.9" cy="271.8" r="2.97" fill="#0000ff" opacity="1"/>
<circle cx="143.6" cy="271.8" r="1.91" fill="#bdb5da" opacity="1"/>
<circle cx="213.7" cy="271.8" r="2.76" fill="#b5abdd" opacity="1"/>
<text x="55.9" y="283.4" font-size="9.25" text-anchor="end" fill="#000" >Tpm2</text>
<path d="M57 281.8h1.2" stroke="#b0b0b0" stroke-width="0.6"/>
<circle cx="73.5" cy="281.8" r="1.06" fill="#a598e2" opacity="1"/>
<circle cx="96.9" cy="281.8" r="2.33" fill="#0000ff" opacity="1"/>
<circle cx="143.6" cy="281.8" r="0.64" fill="#a598e2" opacity="0.7"/>
<circle cx="213.7" cy="281.8" r="1.70" fill="#ada2df" opacity="1"/>
<text x="55.9" y="293.5" font-size="9.25" text-anchor="end" fill="#000" >EGFL7</text>
<path d="M57 291.9h1.2" stroke="#b0b0b0" stroke-width="0.6"/>
<circle cx="120.2" cy="291.9" r="2.12" fill="#4934f7" opacity="1"/>
<circle cx="167.0" cy="291.9" r="1.48" fill="#3c29f9" opacity="1"/>
<circle cx="213.7" cy="291.9" r="0.42" fill="#d3d3d3" opacity="0.7"/>
<text x="55.9" y="303.5" font-size="9.25" text-anchor="end" fill="#000" >Ramp2</text>
<path d="M57 301.9h1.2" stroke="#b0b0b0" stroke-width="0.6"/>
<circle cx="73.5" cy="301.9" r="2.33" fill="#bdb5da" opacity="1"/>
<circle cx="96.9" cy="301.9" r="2.33" fill="#bdb5da" opacity="1"/>
<circle cx="120.2" cy="301.9" r="3.18" fill="#1f11fd" opacity="1"/>
<circle cx="143.6" cy="301.9" r="2.33" fill="#bdb5da" opacity="1"/>
<circle cx="167.0" cy="301.9" r="2.97" fill="#7a66ed" opacity="1"/>
<circle cx="190.4" cy="301.9" r="2.76" fill="#c4bfd8" opacity="1"/>
<circle cx="213.7" cy="301.9" r="0.85" fill="#b5abdd" opacity="0.7"/>
<text x="55.9" y="313.5" font-size="9.25" text-anchor="end" fill="#000" >Cxcr7</text>
<path d="M57 311.9h1.2" stroke="#b0b0b0" stroke-width="0.6"/>
<circle cx="73.5" cy="311.9" r="0.85" fill="#ccc9d6" opacity="0.7"/>
<circle cx="120.2" cy="311.9" r="2.97" fill="#3c29f9" opacity="1"/>
<circle cx="143.6" cy="311.9" r="1.48" fill="#b5abdd" opacity="1"/>
<circle cx="167.0" cy="311.9" r="2.76" fill="#8370ea" opacity="1"/>
<circle cx="213.7" cy="311.9" r="2.76" fill="#9484e6" opacity="1"/>
<text x="55.9" y="323.6" font-size="9.25" text-anchor="end" fill="#000" >Icam2</text>
<path d="M57 322.0h1.2" stroke="#b0b0b0" stroke-width="0.6"/>
<circle cx="96.9" cy="322.0" r="0.42" fill="#d3d3d3" opacity="0.7"/>
<circle cx="120.2" cy="322.0" r="2.12" fill="#533ef5" opacity="1"/>
<circle cx="167.0" cy="322.0" r="2.76" fill="#5e48f3" opacity="1"/>
<circle cx="213.7" cy="322.0" r="1.91" fill="#b5abdd" opacity="1"/>
<text x="55.9" y="333.6" font-size="9.25" text-anchor="end" fill="#000" >Cav1</text>
<path d="M57 332.0h1.2" stroke="#b0b0b0" stroke-width="0.6"/>
<circle cx="73.5" cy="332.0" r="1.70" fill="#c1bbd9" opacity="1"/>
<circle cx="96.9" cy="332.0" r="0.85" fill="#c4bfd8" opacity="0.7"/>
<circle cx="120.2" cy="332.0" r="2.76" fill="#715def" opacity="1"/>
<circle cx="143.6" cy="332.0" r="1.91" fill="#c4bfd8" opacity="1"/>
<circle cx="167.0" cy="332.0" r="2.97" fill="#7a66ed" opacity="1"/>
<circle cx="190.4" cy="332.0" r="0.42" fill="#d3d3d3" opacity="0.7"/>
<circle cx="213.7" cy="332.0" r="3.18" fill="#8370ea" opacity="1"/>
<text x="55.9" y="343.7" font-size="9.25" text-anchor="end" fill="#000" >Serpinf1</text>
<path d="M57 342.1h1.2" stroke="#b0b0b0" stroke-width="0.6"/>
<circle cx="73.5" cy="342.1" r="2.76" fill="#8c7ae8" opacity="1"/>
<circle cx="96.9" cy="342.1" r="0.42" fill="#d3d3d3" opacity="0.7"/>
<circle cx="143.6" cy="342.1" r="3.18" fill="#0000ff" opacity="1"/>
<circle cx="213.7" cy="342.1" r="0.85" fill="#b5abdd" opacity="0.7"/>
<text x="55.9" y="353.7" font-size="9.25" text-anchor="end" fill="#000" >Cthrc1</text>
<path d="M57 352.1h1.2" stroke="#b0b0b0" stroke-width="0.6"/>
<circle cx="73.5" cy="352.1" r="2.54" fill="#9d8ee4" opacity="1"/>
<circle cx="96.9" cy="352.1" r="0.42" fill="#d3d3d3" opacity="0.7"/>
<circle cx="143.6" cy="352.1" r="3.18" fill="#0000ff" opacity="1"/>
<circle cx="213.7" cy="352.1" r="0.42" fill="#d3d3d3" opacity="0.7"/>
<text x="55.9" y="363.8" font-size="9.25" text-anchor="end" fill="#000" >Col1a1</text>
<path d="M57 362.2h1.2" stroke="#b0b0b0" stroke-width="0.6"/>
<circle cx="73.5" cy="362.2" r="3.18" fill="#8c7ae8" opacity="1"/>
<circle cx="96.9" cy="362.2" r="2.76" fill="#b5abdd" opacity="1"/>
<circle cx="143.6" cy="362.2" r="3.18" fill="#2f1efb" opacity="1"/>
<circle cx="213.7" cy="362.2" r="2.76" fill="#ada2df" opacity="1"/>
<text x="55.9" y="373.8" font-size="9.25" text-anchor="end" fill="#000" >Dcn</text>
<path d="M57 372.2h1.2" stroke="#b0b0b0" stroke-width="0.6"/>
<circle cx="73.5" cy="372.2" r="2.76" fill="#7a66ed" opacity="1"/>
<circle cx="96.9" cy="372.2" r="2.33" fill="#b5abdd" opacity="1"/>
<circle cx="143.6" cy="372.2" r="3.18" fill="#2f1efb" opacity="1"/>
<circle cx="213.7" cy="372.2" r="0.42" fill="#d3d3d3" opacity="0.7"/>
<text x="55.9" y="383.9" font-size="9.25" text-anchor="end" fill="#000" >Col1a2</text>
<path d="M57 382.3h1.2" stroke="#b0b0b0" stroke-width="0.6"/>
<circle cx="73.5" cy="382.3" r="2.97" fill="#8c7ae8" opacity="1"/>
<circle cx="96.9" cy="382.3" r="2.54" fill="#b5abdd" opacity="1"/>
<circle cx="120.2" cy="382.3" r="0.42" fill="#d3d3d3" opacity="0.7"/>
<circle cx="143.6" cy="382.3" r="3.18" fill="#3c29f9" opacity="1"/>
<circle cx="213.7" cy="382.3" r="2.76" fill="#a598e2" opacity="1"/>
<text x="55.9" y="393.9" font-size="9.25" text-anchor="end" fill="#d8141c" >Upp1</text>
<path d="M57 392.3h1.2" stroke="#b0b0b0" stroke-width="0.6"/>
<circle cx="73.5" cy="392.3" r="2.54" fill="#c1bbd9" opacity="1"/>
<circle cx="96.9" cy="392.3" r="2.33" fill="#c1bbd9" opacity="1"/>
<circle cx="120.2" cy="392.3" r="1.91" fill="#5e48f3" opacity="1"/>
<circle cx="143.6" cy="392.3" r="2.12" fill="#c1bbd9" opacity="1"/>
<circle cx="167.0" cy="392.3" r="2.97" fill="#3c29f9" opacity="1"/>
<circle cx="213.7" cy="392.3" r="2.33" fill="#c4bfd8" opacity="1"/>
<text x="55.9" y="403.9" font-size="9.25" text-anchor="end" fill="#d8141c" >Lrg1</text>
<path d="M57 402.3h1.2" stroke="#b0b0b0" stroke-width="0.6"/>
<circle cx="73.5" cy="402.3" r="2.54" fill="#c4bfd8" opacity="1"/>
<circle cx="96.9" cy="402.3" r="2.33" fill="#a598e2" opacity="1"/>
<circle cx="120.2" cy="402.3" r="2.97" fill="#9484e6" opacity="1"/>
<circle cx="143.6" cy="402.3" r="2.12" fill="#c4bfd8" opacity="1"/>
<circle cx="167.0" cy="402.3" r="3.39" fill="#0000ff" opacity="1"/>
<circle cx="190.4" cy="402.3" r="2.76" fill="#bdb5da" opacity="1"/>
<circle cx="213.7" cy="402.3" r="2.76" fill="#c1bbd9" opacity="1"/>
<text x="55.9" y="414.0" font-size="9.25" text-anchor="end" fill="#d8141c" >Aqp1</text>
<path d="M57 412.4h1.2" stroke="#b0b0b0" stroke-width="0.6"/>
<circle cx="73.5" cy="412.4" r="0.64" fill="#c4bfd8" opacity="0.7"/>
<circle cx="96.9" cy="412.4" r="0.42" fill="#d3d3d3" opacity="0.7"/>
<circle cx="120.2" cy="412.4" r="2.12" fill="#9484e6" opacity="1"/>
<circle cx="143.6" cy="412.4" r="0.64" fill="#c4bfd8" opacity="0.7"/>
<circle cx="167.0" cy="412.4" r="2.76" fill="#8c7ae8" opacity="1"/>
<circle cx="213.7" cy="412.4" r="2.76" fill="#4934f7" opacity="1"/>
<text x="55.9" y="424.0" font-size="9.25" text-anchor="end" fill="#d8141c" >Cnn3</text>
<path d="M57 422.4h1.2" stroke="#b0b0b0" stroke-width="0.6"/>
<circle cx="73.5" cy="422.4" r="0.64" fill="#c4bfd8" opacity="0.7"/>
<circle cx="96.9" cy="422.4" r="2.33" fill="#bdb5da" opacity="1"/>
<circle cx="120.2" cy="422.4" r="2.97" fill="#715def" opacity="1"/>
<circle cx="143.6" cy="422.4" r="0.85" fill="#c4bfd8" opacity="0.7"/>
<circle cx="167.0" cy="422.4" r="2.76" fill="#533ef5" opacity="1"/>
<circle cx="213.7" cy="422.4" r="2.76" fill="#c4bfd8" opacity="1"/>
<text x="55.9" y="434.1" font-size="9.25" text-anchor="end" fill="#d8141c" >Cd93</text>
<path d="M57 432.5h1.2" stroke="#b0b0b0" stroke-width="0.6"/>
<circle cx="73.5" cy="432.5" r="0.42" fill="#d3d3d3" opacity="0.7"/>
<circle cx="120.2" cy="432.5" r="2.97" fill="#715def" opacity="1"/>
<circle cx="167.0" cy="432.5" r="2.76" fill="#5e48f3" opacity="1"/>
<circle cx="213.7" cy="432.5" r="1.06" fill="#bdb5da" opacity="1"/>
<text x="55.9" y="444.1" font-size="9.25" text-anchor="end" fill="#000" >Scgb1a1</text>
<path d="M57 442.5h1.2" stroke="#b0b0b0" stroke-width="0.6"/>
<circle cx="73.5" cy="442.5" r="0.42" fill="#d3d3d3" opacity="0.7"/>
<circle cx="96.9" cy="442.5" r="0.42" fill="#d3d3d3" opacity="0.7"/>
<circle cx="143.6" cy="442.5" r="0.42" fill="#d3d3d3" opacity="0.7"/>
<circle cx="190.4" cy="442.5" r="3.39" fill="#0000ff" opacity="1"/>
<circle cx="213.7" cy="442.5" r="0.85" fill="#c4bfd8" opacity="0.7"/>
<text x="55.9" y="454.2" font-size="9.25" text-anchor="end" fill="#000" >Retnla</text>
<path d="M57 452.6h1.2" stroke="#b0b0b0" stroke-width="0.6"/>
<circle cx="73.5" cy="452.6" r="2.33" fill="#b5abdd" opacity="1"/>
<circle cx="143.6" cy="452.6" r="2.12" fill="#bdb5da" opacity="1"/>
<circle cx="190.4" cy="452.6" r="3.39" fill="#0000ff" opacity="1"/>
<circle cx="213.7" cy="452.6" r="0.42" fill="#d3d3d3" opacity="0.7"/>
<text x="55.9" y="464.2" font-size="9.25" text-anchor="end" fill="#000" >Lyz2</text>
<path d="M57 462.6h1.2" stroke="#b0b0b0" stroke-width="0.6"/>
<circle cx="73.5" cy="462.6" r="2.76" fill="#bdb5da" opacity="1"/>
<circle cx="96.9" cy="462.6" r="1.06" fill="#c4bfd8" opacity="1"/>
<circle cx="120.2" cy="462.6" r="2.76" fill="#c1bbd9" opacity="1"/>
<circle cx="143.6" cy="462.6" r="2.76" fill="#c1bbd9" opacity="1"/>
<circle cx="167.0" cy="462.6" r="2.76" fill="#c1bbd9" opacity="1"/>
<circle cx="190.4" cy="462.6" r="3.18" fill="#0000ff" opacity="1"/>
<circle cx="213.7" cy="462.6" r="1.48" fill="#bdb5da" opacity="1"/>
<text x="55.9" y="474.3" font-size="9.25" text-anchor="end" fill="#000" >Sftpc</text>
<path d="M57 472.7h1.2" stroke="#b0b0b0" stroke-width="0.6"/>
<circle cx="120.2" cy="472.7" r="0.42" fill="#d3d3d3" opacity="0.7"/>
<circle cx="190.4" cy="472.7" r="2.97" fill="#0000ff" opacity="1"/>
<text x="55.9" y="484.3" font-size="9.25" text-anchor="end" fill="#000" >Sftpb</text>
<path d="M57 482.7h1.2" stroke="#b0b0b0" stroke-width="0.6"/>
<circle cx="190.4" cy="482.7" r="2.97" fill="#0000ff" opacity="1"/>
<text x="55.9" y="494.4" font-size="9.25" text-anchor="end" fill="#000" >Rspo1</text>
<path d="M57 492.8h1.2" stroke="#b0b0b0" stroke-width="0.6"/>
<circle cx="73.5" cy="492.8" r="1.48" fill="#ada2df" opacity="1"/>
<circle cx="96.9" cy="492.8" r="2.33" fill="#b5abdd" opacity="1"/>
<circle cx="143.6" cy="492.8" r="0.42" fill="#d3d3d3" opacity="0.7"/>
<circle cx="213.7" cy="492.8" r="3.39" fill="#0000ff" opacity="1"/>
<text x="55.9" y="504.4" font-size="9.25" text-anchor="end" fill="#000" >Crip1</text>
<path d="M57 502.8h1.2" stroke="#b0b0b0" stroke-width="0.6"/>
<circle cx="73.5" cy="502.8" r="2.33" fill="#bdb5da" opacity="1"/>
<circle cx="96.9" cy="502.8" r="2.76" fill="#ada2df" opacity="1"/>
<circle cx="120.2" cy="502.8" r="2.76" fill="#c1bbd9" opacity="1"/>
<circle cx="143.6" cy="502.8" r="2.97" fill="#bdb5da" opacity="1"/>
<circle cx="167.0" cy="502.8" r="2.54" fill="#c4bfd8" opacity="1"/>
<circle cx="190.4" cy="502.8" r="3.18" fill="#c1bbd9" opacity="1"/>
<circle cx="213.7" cy="502.8" r="3.39" fill="#0000ff" opacity="1"/>
<text x="55.9" y="514.4" font-size="9.25" text-anchor="end" fill="#000" >C2</text>
<path d="M57 512.8h1.2" stroke="#b0b0b0" stroke-width="0.6"/>
<circle cx="73.5" cy="512.8" r="2.33" fill="#ada2df" opacity="1"/>
<circle cx="96.9" cy="512.8" r="0.85" fill="#c4bfd8" opacity="0.7"/>
<circle cx="120.2" cy="512.8" r="1.06" fill="#c4bfd8" opacity="1"/>
<circle cx="143.6" cy="512.8" r="2.76" fill="#bdb5da" opacity="1"/>
<circle cx="167.0" cy="512.8" r="0.85" fill="#c4bfd8" opacity="0.7"/>
<circle cx="190.4" cy="512.8" r="3.39" fill="#a598e2" opacity="1"/>
<circle cx="213.7" cy="512.8" r="3.39" fill="#0000ff" opacity="1"/>
<text x="55.9" y="524.5" font-size="9.25" text-anchor="end" fill="#000" >Ptgs1</text>
<path d="M57 522.9h1.2" stroke="#b0b0b0" stroke-width="0.6"/>
<circle cx="73.5" cy="522.9" r="1.27" fill="#b5abdd" opacity="1"/>
<circle cx="96.9" cy="522.9" r="0.64" fill="#c4bfd8" opacity="0.7"/>
<circle cx="120.2" cy="522.9" r="0.42" fill="#d3d3d3" opacity="0.7"/>
<circle cx="143.6" cy="522.9" r="1.48" fill="#b5abdd" opacity="1"/>
<circle cx="190.4" cy="522.9" r="0.64" fill="#c4bfd8" opacity="0.7"/>
<circle cx="213.7" cy="522.9" r="3.39" fill="#0000ff" opacity="1"/>
<text x="55.9" y="534.5" font-size="9.25" text-anchor="end" fill="#000" >Bsg</text>
<path d="M57 532.9h1.2" stroke="#b0b0b0" stroke-width="0.6"/>
<circle cx="73.5" cy="532.9" r="1.70" fill="#bdb5da" opacity="1"/>
<circle cx="96.9" cy="532.9" r="1.48" fill="#bdb5da" opacity="1"/>
<circle cx="120.2" cy="532.9" r="1.27" fill="#c1bbd9" opacity="1"/>
<circle cx="143.6" cy="532.9" r="2.54" fill="#b5abdd" opacity="1"/>
<circle cx="167.0" cy="532.9" r="1.06" fill="#c4bfd8" opacity="1"/>
<circle cx="190.4" cy="532.9" r="3.18" fill="#a598e2" opacity="1"/>
<circle cx="213.7" cy="532.9" r="2.76" fill="#0000ff" opacity="1"/>
<defs><linearGradient id="gb" x1="0" y1="0" x2="0" y2="1"><stop offset="0" stop-color="#0000ff"/><stop offset="0.25" stop-color="#533ef5"/><stop offset="0.5" stop-color="#8370ea"/><stop offset="0.75" stop-color="#ada2df"/><stop offset="1" stop-color="#d3d3d3"/></linearGradient></defs>
<rect x="247.8" y="206" width="8.3" height="42.7" fill="url(#gb)"/>
<text x="260.2" y="212.2" font-size="6.7" text-anchor="start" fill="#000" >2</text>
<text x="260.2" y="225.7" font-size="6.7" text-anchor="start" fill="#000" >1</text>
<text x="260.2" y="239.3" font-size="6.7" text-anchor="start" fill="#000" >0</text>
<text x="241.2" y="225.7" font-size="7.6" text-anchor="middle" fill="#000" transform="rotate(-90 241.2 225.7)" >Average Expression</text>
<text x="238.0" y="503.0" font-size="7.6" text-anchor="middle" fill="#000" transform="rotate(-90 238.0 503.0)" >Percent Expressed</text>
<circle cx="246.6" cy="483.1" r="0.4" fill="#000"/>
<text x="254.8" y="485.5" font-size="6.6" text-anchor="start" fill="#000" >0</text>
<circle cx="246.6" cy="491.9" r="1.45" fill="#000"/>
<text x="254.8" y="494.3" font-size="6.6" text-anchor="start" fill="#000" >25</text>
<circle cx="246.6" cy="500.6" r="2.5" fill="#000"/>
<text x="254.8" y="503.0" font-size="6.6" text-anchor="start" fill="#000" >50</text>
<circle cx="246.6" cy="509.2" r="3.5" fill="#000"/>
<text x="254.8" y="511.6" font-size="6.6" text-anchor="start" fill="#000" >75</text>
<circle cx="246.6" cy="518.2" r="4.5" fill="#000"/>
<text x="254.8" y="520.6" font-size="6.6" text-anchor="start" fill="#000" >100</text>
<rect x="280" y="8.6" width="93.7" height="16.2" fill="#d9d9d9"/>
<rect x="280" y="24.799999999999997" width="93.7" height="93.6" fill="#ebebeb"/>
<text x="328.1" y="20.4" font-size="9.6" text-anchor="middle" fill="#1a1a1a" >cluster0</text>
<g stroke="#fff" fill="none" stroke-width="1.25"><circle cx="326.85" cy="71.6" r="40.8"/><circle cx="326.85" cy="71.6" r="19.4" stroke-width="1"/><path d="M326.85 71.6L366.90 63.81"/><path d="M326.85 71.6L367.04 78.61"/><path d="M326.85 71.6L361.90 92.49"/><path d="M326.85 71.6L352.14 103.62"/><path d="M326.85 71.6L339.05 110.53"/><path d="M326.85 71.6L324.36 112.32"/><path d="M326.85 71.6L310.00 108.76"/><path d="M326.85 71.6L297.85 100.30"/><path d="M326.85 71.6L289.52 88.06"/><path d="M326.85 71.6L286.10 73.66"/><path d="M326.85 71.6L288.05 58.99"/></g>
<path d="M326.85 71.6L358.50 51.67A37.4 37.4 0 0 1 359.17 90.41Z" fill="#d95f02"/>
<path d="M326.85 71.6L359.17 90.41A37.4 37.4 0 0 1 337.35 107.50Z" fill="#1b9e77"/>
<text x="368.7" y="65.8" font-size="7.7" text-anchor="middle" fill="#555" >1</text>
<text x="368.8" y="81.2" font-size="7.7" text-anchor="middle" fill="#555" >18</text>
<text x="363.4" y="95.7" font-size="7.7" text-anchor="middle" fill="#555" >13</text>
<text x="353.3" y="107.3" font-size="7.7" text-anchor="middle" fill="#555" >16</text>
<text x="339.6" y="114.6" font-size="7.7" text-anchor="middle" fill="#555" >2</text>
<text x="324.2" y="116.4" font-size="7.7" text-anchor="middle" fill="#555" >36</text>
<text x="309.3" y="112.7" font-size="7.7" text-anchor="middle" fill="#555" >4</text>
<text x="296.6" y="103.9" font-size="7.7" text-anchor="middle" fill="#555" >40</text>
<text x="287.9" y="91.1" font-size="7.7" text-anchor="middle" fill="#555" >46</text>
<text x="284.3" y="76.1" font-size="7.7" text-anchor="middle" fill="#555" >73</text>
<text x="286.3" y="60.7" font-size="7.7" text-anchor="middle" fill="#555" >95</text>
<rect x="379" y="8.6" width="93.7" height="16.2" fill="#d9d9d9"/>
<rect x="379" y="24.799999999999997" width="93.7" height="93.6" fill="#ebebeb"/>
<text x="427.1" y="20.4" font-size="9.6" text-anchor="middle" fill="#1a1a1a" >cluster1</text>
<g stroke="#fff" fill="none" stroke-width="1.25"><circle cx="425.85" cy="71.6" r="40.8"/><circle cx="425.85" cy="71.6" r="19.4" stroke-width="1"/><path d="M425.85 71.6L465.90 63.81"/><path d="M425.85 71.6L466.04 78.61"/><path d="M425.85 71.6L460.90 92.49"/><path d="M425.85 71.6L451.14 103.62"/><path d="M425.85 71.6L438.05 110.53"/><path d="M425.85 71.6L423.36 112.32"/><path d="M425.85 71.6L409.00 108.76"/><path d="M425.85 71.6L396.85 100.30"/><path d="M425.85 71.6L388.52 88.06"/><path d="M425.85 71.6L385.10 73.66"/><path d="M425.85 71.6L387.05 58.99"/></g>
<path d="M425.85 71.6L457.50 51.67A37.4 37.4 0 1 1 390.55 59.24Z" fill="#1b9e77"/>
<path d="M425.85 71.6L390.55 59.24A37.4 37.4 0 0 1 435.40 35.44Z" fill="#d95f02"/>
<text x="467.7" y="65.8" font-size="7.7" text-anchor="middle" fill="#555" >1</text>
<text x="467.8" y="81.2" font-size="7.7" text-anchor="middle" fill="#555" >18</text>
<text x="462.4" y="95.7" font-size="7.7" text-anchor="middle" fill="#555" >13</text>
<text x="452.3" y="107.3" font-size="7.7" text-anchor="middle" fill="#555" >16</text>
<text x="438.6" y="114.6" font-size="7.7" text-anchor="middle" fill="#555" >2</text>
<text x="423.2" y="116.4" font-size="7.7" text-anchor="middle" fill="#555" >36</text>
<text x="408.3" y="112.7" font-size="7.7" text-anchor="middle" fill="#555" >4</text>
<text x="395.6" y="103.9" font-size="7.7" text-anchor="middle" fill="#555" >40</text>
<text x="386.9" y="91.1" font-size="7.7" text-anchor="middle" fill="#555" >46</text>
<text x="383.3" y="76.1" font-size="7.7" text-anchor="middle" fill="#555" >73</text>
<text x="385.3" y="60.7" font-size="7.7" text-anchor="middle" fill="#555" >95</text>
<rect x="478" y="8.6" width="93.7" height="16.2" fill="#d9d9d9"/>
<rect x="478" y="24.799999999999997" width="93.7" height="93.6" fill="#ebebeb"/>
<text x="526.1" y="20.4" font-size="9.6" text-anchor="middle" fill="#1a1a1a" >cluster2</text>
<g stroke="#fff" fill="none" stroke-width="1.25"><circle cx="524.85" cy="71.6" r="40.8"/><circle cx="524.85" cy="71.6" r="19.4" stroke-width="1"/><path d="M524.85 71.6L564.90 63.81"/><path d="M524.85 71.6L565.04 78.61"/><path d="M524.85 71.6L559.90 92.49"/><path d="M524.85 71.6L550.14 103.62"/><path d="M524.85 71.6L537.05 110.53"/><path d="M524.85 71.6L522.36 112.32"/><path d="M524.85 71.6L508.00 108.76"/><path d="M524.85 71.6L495.85 100.30"/><path d="M524.85 71.6L487.52 88.06"/><path d="M524.85 71.6L484.10 73.66"/><path d="M524.85 71.6L486.05 58.99"/></g>
<path d="M524.85 71.6L556.50 51.67A37.4 37.4 0 1 1 487.45 71.60Z" fill="#1b9e77"/>
<circle cx="524.85" cy="71.6" r="37.4" fill="#d95f02"/>
<path d="M524.85 71.6L556.50 51.67A37.4 37.4 0 1 1 487.45 71.60Z" fill="#1b9e77"/>
<text x="566.7" y="65.8" font-size="7.7" text-anchor="middle" fill="#555" >1</text>
<text x="566.8" y="81.2" font-size="7.7" text-anchor="middle" fill="#555" >18</text>
<text x="561.4" y="95.7" font-size="7.7" text-anchor="middle" fill="#555" >13</text>
<text x="551.3" y="107.3" font-size="7.7" text-anchor="middle" fill="#555" >16</text>
<text x="537.6" y="114.6" font-size="7.7" text-anchor="middle" fill="#555" >2</text>
<text x="522.2" y="116.4" font-size="7.7" text-anchor="middle" fill="#555" >36</text>
<text x="507.3" y="112.7" font-size="7.7" text-anchor="middle" fill="#555" >4</text>
<text x="494.6" y="103.9" font-size="7.7" text-anchor="middle" fill="#555" >40</text>
<text x="485.9" y="91.1" font-size="7.7" text-anchor="middle" fill="#555" >46</text>
<text x="482.3" y="76.1" font-size="7.7" text-anchor="middle" fill="#555" >73</text>
<text x="484.3" y="60.7" font-size="7.7" text-anchor="middle" fill="#555" >95</text>
<rect x="577" y="8.6" width="93.7" height="16.2" fill="#d9d9d9"/>
<rect x="577" y="24.799999999999997" width="93.7" height="93.6" fill="#ebebeb"/>
<text x="625.1" y="20.4" font-size="9.6" text-anchor="middle" fill="#1a1a1a" >cluster3</text>
<g stroke="#fff" fill="none" stroke-width="1.25"><circle cx="623.85" cy="71.6" r="40.8"/><circle cx="623.85" cy="71.6" r="19.4" stroke-width="1"/><path d="M623.85 71.6L663.90 63.81"/><path d="M623.85 71.6L664.04 78.61"/><path d="M623.85 71.6L658.90 92.49"/><path d="M623.85 71.6L649.14 103.62"/><path d="M623.85 71.6L636.05 110.53"/><path d="M623.85 71.6L621.36 112.32"/><path d="M623.85 71.6L607.00 108.76"/><path d="M623.85 71.6L594.85 100.30"/><path d="M623.85 71.6L586.52 88.06"/><path d="M623.85 71.6L583.10 73.66"/><path d="M623.85 71.6L585.05 58.99"/></g>
<path d="M623.85 71.6L655.50 51.67A37.4 37.4 0 1 1 589.27 85.85Z" fill="#1b9e77"/>
<path d="M623.85 71.6L589.27 85.85A37.4 37.4 0 0 1 595.58 47.11Z" fill="#d95f02"/>
<text x="665.7" y="65.8" font-size="7.7" text-anchor="middle" fill="#555" >1</text>
<text x="665.8" y="81.2" font-size="7.7" text-anchor="middle" fill="#555" >18</text>
<text x="660.4" y="95.7" font-size="7.7" text-anchor="middle" fill="#555" >13</text>
<text x="650.3" y="107.3" font-size="7.7" text-anchor="middle" fill="#555" >16</text>
<text x="636.6" y="114.6" font-size="7.7" text-anchor="middle" fill="#555" >2</text>
<text x="621.2" y="116.4" font-size="7.7" text-anchor="middle" fill="#555" >36</text>
<text x="606.3" y="112.7" font-size="7.7" text-anchor="middle" fill="#555" >4</text>
<text x="593.6" y="103.9" font-size="7.7" text-anchor="middle" fill="#555" >40</text>
<text x="584.9" y="91.1" font-size="7.7" text-anchor="middle" fill="#555" >46</text>
<text x="581.3" y="76.1" font-size="7.7" text-anchor="middle" fill="#555" >73</text>
<text x="583.3" y="60.7" font-size="7.7" text-anchor="middle" fill="#555" >95</text>
<rect x="280" y="124.1" width="93.7" height="16.2" fill="#d9d9d9"/>
<rect x="280" y="140.29999999999998" width="93.7" height="93.6" fill="#ebebeb"/>
<text x="328.9" y="135.2" font-size="9.6" text-anchor="middle" fill="#e4452f" >cluster4</text>
<g stroke="#fff" fill="none" stroke-width="1.25"><circle cx="326.85" cy="187.09999999999997" r="40.8"/><circle cx="326.85" cy="187.09999999999997" r="19.4" stroke-width="1"/><path d="M326.85 187.09999999999997L366.90 179.31"/><path d="M326.85 187.09999999999997L367.04 194.11"/><path d="M326.85 187.09999999999997L361.90 207.99"/><path d="M326.85 187.09999999999997L352.14 219.12"/><path d="M326.85 187.09999999999997L339.05 226.03"/><path d="M326.85 187.09999999999997L324.36 227.82"/><path d="M326.85 187.09999999999997L310.00 224.26"/><path d="M326.85 187.09999999999997L297.85 215.80"/><path d="M326.85 187.09999999999997L289.52 203.56"/><path d="M326.85 187.09999999999997L286.10 189.16"/><path d="M326.85 187.09999999999997L288.05 174.49"/></g>
<path d="M326.85 187.09999999999997L358.50 167.17A37.4 37.4 0 0 1 299.77 212.89Z" fill="#1b9e77"/>
<text x="368.7" y="181.3" font-size="7.7" text-anchor="middle" fill="#555" >1</text>
<text x="368.8" y="196.7" font-size="7.7" text-anchor="middle" fill="#555" >18</text>
<text x="363.4" y="211.2" font-size="7.7" text-anchor="middle" fill="#555" >13</text>
<text x="353.3" y="222.8" font-size="7.7" text-anchor="middle" fill="#555" >16</text>
<text x="339.6" y="230.1" font-size="7.7" text-anchor="middle" fill="#555" >2</text>
<text x="324.2" y="231.9" font-size="7.7" text-anchor="middle" fill="#555" >36</text>
<text x="309.3" y="228.2" font-size="7.7" text-anchor="middle" fill="#555" >4</text>
<text x="296.6" y="219.4" font-size="7.7" text-anchor="middle" fill="#555" >40</text>
<text x="287.9" y="206.6" font-size="7.7" text-anchor="middle" fill="#555" >46</text>
<text x="284.3" y="191.6" font-size="7.7" text-anchor="middle" fill="#555" >73</text>
<text x="286.3" y="176.2" font-size="7.7" text-anchor="middle" fill="#555" >95</text>
<rect x="379" y="124.1" width="93.7" height="16.2" fill="#d9d9d9"/>
<rect x="379" y="140.29999999999998" width="93.7" height="93.6" fill="#ebebeb"/>
<text x="427.9" y="135.2" font-size="9.6" text-anchor="middle" fill="#1a1a1a" >cluster5</text>
<g stroke="#fff" fill="none" stroke-width="1.25"><circle cx="425.85" cy="187.09999999999997" r="40.8"/><circle cx="425.85" cy="187.09999999999997" r="19.4" stroke-width="1"/><path d="M425.85 187.09999999999997L465.90 179.31"/><path d="M425.85 187.09999999999997L466.04 194.11"/><path d="M425.85 187.09999999999997L460.90 207.99"/><path d="M425.85 187.09999999999997L451.14 219.12"/><path d="M425.85 187.09999999999997L438.05 226.03"/><path d="M425.85 187.09999999999997L423.36 227.82"/><path d="M425.85 187.09999999999997L409.00 224.26"/><path d="M425.85 187.09999999999997L396.85 215.80"/><path d="M425.85 187.09999999999997L388.52 203.56"/><path d="M425.85 187.09999999999997L385.10 189.16"/><path d="M425.85 187.09999999999997L387.05 174.49"/></g>
<path d="M425.85 187.09999999999997L457.50 167.17A37.4 37.4 0 0 1 423.24 224.41Z" fill="#1b9e77"/>
<path d="M425.85 187.09999999999997L423.24 224.41A37.4 37.4 0 0 1 390.66 174.43Z" fill="#d95f02"/>
<text x="467.7" y="181.3" font-size="7.7" text-anchor="middle" fill="#555" >1</text>
<text x="467.8" y="196.7" font-size="7.7" text-anchor="middle" fill="#555" >18</text>
<text x="462.4" y="211.2" font-size="7.7" text-anchor="middle" fill="#555" >13</text>
<text x="452.3" y="222.8" font-size="7.7" text-anchor="middle" fill="#555" >16</text>
<text x="438.6" y="230.1" font-size="7.7" text-anchor="middle" fill="#555" >2</text>
<text x="423.2" y="231.9" font-size="7.7" text-anchor="middle" fill="#555" >36</text>
<text x="408.3" y="228.2" font-size="7.7" text-anchor="middle" fill="#555" >4</text>
<text x="395.6" y="219.4" font-size="7.7" text-anchor="middle" fill="#555" >40</text>
<text x="386.9" y="206.6" font-size="7.7" text-anchor="middle" fill="#555" >46</text>
<text x="383.3" y="191.6" font-size="7.7" text-anchor="middle" fill="#555" >73</text>
<text x="385.3" y="176.2" font-size="7.7" text-anchor="middle" fill="#555" >95</text>
<rect x="478" y="124.1" width="93.7" height="16.2" fill="#d9d9d9"/>
<rect x="478" y="140.29999999999998" width="93.7" height="93.6" fill="#ebebeb"/>
<text x="526.9" y="135.2" font-size="9.6" text-anchor="middle" fill="#1a1a1a" >cluster6</text>
<g stroke="#fff" fill="none" stroke-width="1.25"><circle cx="524.85" cy="187.09999999999997" r="40.8"/><circle cx="524.85" cy="187.09999999999997" r="19.4" stroke-width="1"/><path d="M524.85 187.09999999999997L564.90 179.31"/><path d="M524.85 187.09999999999997L565.04 194.11"/><path d="M524.85 187.09999999999997L559.90 207.99"/><path d="M524.85 187.09999999999997L550.14 219.12"/><path d="M524.85 187.09999999999997L537.05 226.03"/><path d="M524.85 187.09999999999997L522.36 227.82"/><path d="M524.85 187.09999999999997L508.00 224.26"/><path d="M524.85 187.09999999999997L495.85 215.80"/><path d="M524.85 187.09999999999997L487.52 203.56"/><path d="M524.85 187.09999999999997L484.10 189.16"/><path d="M524.85 187.09999999999997L486.05 174.49"/></g>
<path d="M524.85 187.09999999999997L556.50 167.17A37.4 37.4 0 0 1 556.70 206.70Z" fill="#1b9e77"/>
<path d="M524.85 187.09999999999997L556.70 206.70A37.4 37.4 0 0 1 548.39 216.17Z" fill="#d95f02"/>
<text x="566.7" y="181.3" font-size="7.7" text-anchor="middle" fill="#555" >1</text>
<text x="566.8" y="196.7" font-size="7.7" text-anchor="middle" fill="#555" >18</text>
<text x="561.4" y="211.2" font-size="7.7" text-anchor="middle" fill="#555" >13</text>
<text x="551.3" y="222.8" font-size="7.7" text-anchor="middle" fill="#555" >16</text>
<text x="537.6" y="230.1" font-size="7.7" text-anchor="middle" fill="#555" >2</text>
<text x="522.2" y="231.9" font-size="7.7" text-anchor="middle" fill="#555" >36</text>
<text x="507.3" y="228.2" font-size="7.7" text-anchor="middle" fill="#555" >4</text>
<text x="494.6" y="219.4" font-size="7.7" text-anchor="middle" fill="#555" >40</text>
<text x="485.9" y="206.6" font-size="7.7" text-anchor="middle" fill="#555" >46</text>
<text x="482.3" y="191.6" font-size="7.7" text-anchor="middle" fill="#555" >73</text>
<text x="484.3" y="176.2" font-size="7.7" text-anchor="middle" fill="#555" >95</text>
<rect x="580" y="173" width="15" height="15.2" fill="#1b9e77"/><rect x="580" y="188.2" width="15" height="15.2" fill="#d95f02"/>
<text x="600.5" y="183.0" font-size="9.55" text-anchor="start" fill="#000" >Chemically treated</text>
<text x="600.5" y="199.3" font-size="9.55" text-anchor="start" fill="#000" >Control</text>
<text x="475.0" y="248.0" font-size="10.3" text-anchor="middle" fill="#000" >Cell_number</text>
<g fill="none" stroke-width="0.7" opacity="0.8"><path d="M283.1 325.6C318.0 345.8 391.5 311.6 395.3 273.4" stroke="#00BFC4"/><path d="M331.2 483.8C357.5 434.4 389.8 328.3 395.3 273.4" stroke="#00BFC4"/><path d="M351.7 491.2C368.0 437.8 389.8 328.7 395.3 273.4" stroke="#00BFC4"/><path d="M373.3 495.0C378.8 439.6 389.8 328.8 395.3 273.4" stroke="#00BFC4"/><path d="M395.3 495.0C389.8 439.7 389.8 328.7 395.3 273.4" stroke="#00BFC4"/><path d="M456.0 473.0C421.4 430.2 390.0 326.9 395.3 273.4" stroke="#00BFC4"/><path d="M485.5 442.8C439.0 415.9 390.2 324.3 395.3 273.4" stroke="#00BFC4"/><path d="M312.6 473.0C347.7 429.5 389.9 327.7 395.3 273.4" stroke="#00BFC4"/><path d="M495.3 424.4C446.0 406.6 390.4 322.6 395.3 273.4" stroke="#00BFC4"/><path d="M501.3 404.7C451.6 396.0 390.6 320.5 395.3 273.4" stroke="#00BFC4"/><path d="M296.3 459.2C338.8 423.0 390.0 326.9 395.3 273.4" stroke="#00BFC4"/><path d="M283.1 442.8C330.9 415.1 390.1 325.7 395.3 273.4" stroke="#00BFC4"/><path d="M331.3 284.6C342.7 306.0 392.9 297.2 395.3 273.4" stroke="#00BFC4"/><path d="M351.7 277.1C358.7 300.1 409.9 300.2 416.9 277.2" stroke="#C77CFF"/><path d="M331.3 284.6C345.3 311.0 408.2 305.6 416.9 277.2" stroke="#C77CFF"/><path d="M296.4 309.2C326.7 335.1 405.6 314.1 416.9 277.2" stroke="#C77CFF"/><path d="M267.3 363.7C317.0 372.4 403.0 322.6 416.9 277.2" stroke="#C77CFF"/><path d="M267.3 404.6C321.1 395.2 401.9 326.3 416.9 277.2" stroke="#C77CFF"/><path d="M273.3 424.4C325.7 405.4 401.5 327.7 416.9 277.2" stroke="#C77CFF"/><path d="M265.3 384.2C318.1 384.2 402.4 324.7 416.9 277.2" stroke="#C77CFF"/><path d="M273.3 344.0C318.0 360.2 403.8 320.2 416.9 277.2" stroke="#C77CFF"/><path d="M283.1 442.8C331.9 414.5 401.2 328.8 416.9 277.2" stroke="#C77CFF"/><path d="M296.3 459.2C339.5 422.4 400.9 329.6 416.9 277.2" stroke="#C77CFF"/><path d="M416.9 491.3C400.9 438.8 400.9 329.6 416.9 277.2" stroke="#C77CFF"/><path d="M503.3 384.2C458.6 384.2 404.6 317.4 416.9 277.2" stroke="#C77CFF"/><path d="M472.2 459.2C431.8 424.7 401.9 326.3 416.9 277.2" stroke="#C77CFF"/><path d="M312.6 295.4C334.7 322.8 406.8 310.2 416.9 277.2" stroke="#C77CFF"/><path d="M296.4 309.2C329.4 337.4 417.4 322.0 437.4 284.6" stroke="#FF61CC"/><path d="M273.3 344.0C320.5 361.1 414.8 326.9 437.4 284.6" stroke="#FF61CC"/><path d="M265.3 384.2C320.0 384.2 413.0 330.4 437.4 284.6" stroke="#FF61CC"/><path d="M312.6 295.4C337.3 326.0 419.1 318.9 437.4 284.6" stroke="#FF61CC"/><path d="M283.1 325.6C323.9 349.2 416.0 324.7 437.4 284.6" stroke="#FF61CC"/><path d="M283.1 442.8C332.7 414.1 411.3 333.4 437.4 284.6" stroke="#FF61CC"/><path d="M312.6 473.0C348.4 428.7 410.9 334.3 437.4 284.6" stroke="#FF61CC"/><path d="M495.3 424.4C450.6 408.2 416.0 324.7 437.4 284.6" stroke="#FF61CC"/><path d="M395.3 495.0C389.9 440.7 411.3 333.4 437.4 284.6" stroke="#FF61CC"/><path d="M501.3 404.7C457.3 397.0 417.4 322.0 437.4 284.6" stroke="#FF61CC"/><path d="M472.2 459.2C433.2 425.9 413.8 328.8 437.4 284.6" stroke="#FF61CC"/><path d="M331.3 284.6C347.6 315.3 421.0 315.3 437.4 284.6" stroke="#FF61CC"/><path d="M267.3 363.7C319.2 372.8 413.8 328.8 437.4 284.6" stroke="#FF61CC"/><path d="M267.3 404.6C322.6 395.0 412.3 331.6 437.4 284.6" stroke="#FF61CC"/><path d="M351.7 277.1C361.8 310.2 433.9 322.8 456.0 295.4" stroke="#CD9600"/><path d="M331.3 284.6C349.6 318.9 431.3 326.0 456.0 295.4" stroke="#CD9600"/><path d="M472.2 459.2C434.9 427.3 425.5 333.1 456.0 295.4" stroke="#CD9600"/><path d="M312.6 473.0C348.4 428.6 420.2 339.8 456.0 295.4" stroke="#CD9600"/><path d="M503.3 384.2C466.6 384.2 433.9 322.8 456.0 295.4" stroke="#CD9600"/><path d="M501.3 404.7C460.9 397.6 431.3 326.0 456.0 295.4" stroke="#CD9600"/><path d="M373.3 495.0C378.6 441.5 429.8 345.4 472.3 309.2" stroke="#00A9FF"/><path d="M416.9 491.3C401.9 442.1 431.8 343.7 472.3 309.2" stroke="#00A9FF"/><path d="M485.5 442.8C447.4 420.8 439.2 337.4 472.3 309.2" stroke="#00A9FF"/><path d="M312.6 473.0C348.4 428.7 428.4 346.6 472.3 309.2" stroke="#00A9FF"/><path d="M495.3 424.4C457.0 410.5 441.9 335.1 472.3 309.2" stroke="#00A9FF"/><path d="M437.3 483.8C413.8 439.6 433.2 342.5 472.3 309.2" stroke="#00A9FF"/><path d="M351.7 277.1C364.0 317.4 447.4 347.6 485.5 325.6" stroke="#7CAE00"/><path d="M331.3 284.6C352.6 324.7 444.8 349.2 485.5 325.6" stroke="#7CAE00"/><path d="M472.2 459.2C439.2 431.0 447.4 347.6 485.5 325.6" stroke="#7CAE00"/><path d="M312.6 473.0C348.1 429.0 435.3 354.7 485.5 325.6" stroke="#7CAE00"/><path d="M503.3 384.2C477.7 384.2 463.7 338.2 485.5 325.6" stroke="#7CAE00"/><path d="M283.1 325.6C329.6 352.5 439.0 352.5 485.5 325.6" stroke="#7CAE00"/><path d="M501.3 404.7C470.2 399.2 458.6 341.2 485.5 325.6" stroke="#7CAE00"/><path d="M283.1 325.6C330.9 353.3 442.9 363.0 495.3 344.0" stroke="#00BE67"/><path d="M283.1 442.8C333.6 413.6 439.9 364.1 495.3 344.0" stroke="#00BE67"/><path d="M312.6 473.0C347.7 429.5 440.9 363.7 495.3 344.0" stroke="#00BE67"/><path d="M501.3 404.7C476.1 400.3 471.4 352.6 495.3 344.0" stroke="#00BE67"/><path d="M472.2 459.2C441.9 433.3 457.0 357.9 495.3 344.0" stroke="#00BE67"/><path d="M373.3 273.4C377.5 315.0 453.5 359.1 495.3 344.0" stroke="#00BE67"/><path d="M485.5 442.8C454.3 424.7 461.1 356.4 495.3 344.0" stroke="#00BE67"/><path d="M373.3 495.0C378.2 445.8 449.4 372.8 501.3 363.8" stroke="#F8766D"/><path d="M312.6 473.0C347.2 430.2 444.8 373.6 501.3 363.8" stroke="#F8766D"/><path d="M273.3 344.0C327.7 363.7 443.9 373.8 501.3 363.8" stroke="#F8766D"/><path d="M501.3 404.7C483.1 401.5 483.1 366.9 501.3 363.8" stroke="#F8766D"/><path d="M503.3 384.2C493.2 384.2 491.4 365.5 501.3 363.8" stroke="#F8766D"/><path d="M331.3 284.6C354.8 328.8 449.4 372.8 501.3 363.8" stroke="#F8766D"/><path d="M283.1 325.6C331.9 353.9 444.8 373.6 501.3 363.8" stroke="#F8766D"/><path d="M472.2 459.2C445.1 436.1 465.2 370.1 501.3 363.8" stroke="#F8766D"/><path d="M495.3 424.4C471.4 415.8 476.1 368.2 501.3 363.8" stroke="#F8766D"/></g>
<circle cx="395.3" cy="273.4" r="6.3" fill="#e5c494"/>
<circle cx="416.9" cy="277.2" r="6.3" fill="#e5c494"/>
<circle cx="437.4" cy="284.6" r="6.3" fill="#e5c494"/>
<circle cx="456.0" cy="295.4" r="4.3" fill="#e5c494"/>
<circle cx="472.3" cy="309.2" r="4.3" fill="#e5c494"/>
<circle cx="485.5" cy="325.6" r="4.3" fill="#e5c494"/>
<circle cx="495.3" cy="344.0" r="5" fill="#e5c494"/>
<circle cx="501.3" cy="363.8" r="5" fill="#e5c494"/>
<text x="400.0" y="265.8" font-size="9.95" text-anchor="start" fill="#000" >positive regulation of cytokine production</text>
<text x="425.0" y="277.3" font-size="9.95" text-anchor="start" fill="#000" >positive regulation of response to external stimulus</text>
<text x="445.0" y="286.8" font-size="9.95" text-anchor="start" fill="#000" >regulation of inflammatory response</text>
<text x="462.0" y="296.8" font-size="9.95" text-anchor="start" fill="#000" >neutrophil chemotaxis</text>
<text x="477.0" y="310.3" font-size="9.95" text-anchor="start" fill="#000" >positive regulation of interleukin−6 production</text>
<text x="490.0" y="326.8" font-size="9.95" text-anchor="start" fill="#000" >neutrophil migration</text>
<text x="502.0" y="346.3" font-size="9.95" text-anchor="start" fill="#000" >phagocytosis</text>
<text x="508.5" y="365.6" font-size="9.95" text-anchor="start" fill="#000" >myeloid leukocyte activation</text>
<circle cx="503.3" cy="384.2" r="2.3" fill="#1414d2"/>
<circle cx="501.3" cy="404.7" r="2.3" fill="#1414d2"/>
<circle cx="495.3" cy="424.4" r="2.3" fill="#5a1aa0"/>
<circle cx="485.5" cy="442.8" r="2.3" fill="#1414d2"/>
<circle cx="472.2" cy="459.2" r="2.3" fill="#3a18c0"/>
<circle cx="456.0" cy="473.0" r="2.3" fill="#c0143c"/>
<circle cx="437.3" cy="483.8" r="2.3" fill="#1414d2"/>
<circle cx="416.9" cy="491.3" r="2.3" fill="#6a1a8a"/>
<circle cx="395.3" cy="495.0" r="2.3" fill="#6a1a8a"/>
<circle cx="373.3" cy="495.0" r="2.3" fill="#5a1a9a"/>
<circle cx="351.7" cy="491.2" r="2.3" fill="#f01030"/>
<circle cx="331.2" cy="483.8" r="2.3" fill="#7a1a6c"/>
<circle cx="312.6" cy="473.0" r="2.3" fill="#1414d2"/>
<circle cx="296.3" cy="459.2" r="2.3" fill="#c8143c"/>
<circle cx="283.1" cy="442.8" r="2.3" fill="#8b1a50"/>
<circle cx="273.3" cy="424.4" r="2.3" fill="#1414d2"/>
<circle cx="267.3" cy="404.6" r="2.3" fill="#1414d2"/>
<circle cx="265.3" cy="384.2" r="2.3" fill="#f0102a"/>
<circle cx="267.3" cy="363.7" r="2.3" fill="#5a1a8c"/>
<circle cx="273.3" cy="344.0" r="2.3" fill="#a0143c"/>
<circle cx="283.1" cy="325.6" r="2.3" fill="#1414d2"/>
<circle cx="296.4" cy="309.2" r="2.3" fill="#c2123c"/>
<circle cx="312.6" cy="295.4" r="2.3" fill="#1414d2"/>
<circle cx="331.3" cy="284.6" r="2.3" fill="#1414d2"/>
<circle cx="351.7" cy="277.1" r="2.3" fill="#1414d2"/>
<circle cx="373.3" cy="273.4" r="2.3" fill="#1414d2"/>
<text x="505.3" y="391.0" font-size="9.9" text-anchor="start" fill="#000" >C5ar1</text>
<text x="505.0" y="411.5" font-size="9.9" text-anchor="start" fill="#000" >Slc11a1</text>
<text x="497.5" y="431.5" font-size="9.9" text-anchor="start" fill="#000" >Il1rn</text>
<text x="487.5" y="450.5" font-size="9.9" text-anchor="start" fill="#000" >Unc93b1</text>
<text x="474.5" y="466.5" font-size="9.9" text-anchor="start" fill="#000" >Fcgr2a</text>
<text x="458.0" y="481.0" font-size="9.9" text-anchor="start" fill="#000" >Cd83</text>
<text x="439.0" y="492.5" font-size="9.9" text-anchor="start" fill="#000" >Lpl</text>
<text x="417.0" y="500.5" font-size="9.9" text-anchor="start" fill="#000" >Il33</text>
<text x="391.0" y="503.5" font-size="9.9" text-anchor="start" fill="#000" >Cd40</text>
<text x="361.0" y="504.5" font-size="9.9" text-anchor="start" fill="#000" >Tyrobp</text>
<text x="360.0" y="500.0" font-size="9.9" text-anchor="end" fill="#000" >Egr1</text>
<text x="308.5" y="494.0" font-size="9.9" text-anchor="start" fill="#000" >Hmgb2</text>
<text x="310.3" y="476.2" font-size="9.9" text-anchor="end" fill="#000" >Fcer1g</text>
<text x="293.4" y="464.5" font-size="9.9" text-anchor="end" fill="#000" >Tek</text>
<text x="280.0" y="446.0" font-size="9.9" text-anchor="end" fill="#000" >Fcgr1a</text>
<text x="271.0" y="427.3" font-size="9.9" text-anchor="end" fill="#000" >Vegfc</text>
<text x="264.7" y="407.8" font-size="9.9" text-anchor="end" fill="#000" >Scarf1</text>
<text x="262.0" y="387.7" font-size="9.9" text-anchor="end" fill="#000" >Nfkbia</text>
<text x="264.4" y="367.2" font-size="9.9" text-anchor="end" fill="#000" >S1pr1</text>
<text x="270.0" y="347.3" font-size="9.9" text-anchor="end" fill="#000" >Grn</text>
<text x="280.6" y="328.4" font-size="9.9" text-anchor="end" fill="#000" >Fcgr2b</text>
<text x="293.4" y="313.5" font-size="9.9" text-anchor="end" fill="#000" >Slpi</text>
<text x="310.3" y="298.0" font-size="9.9" text-anchor="end" fill="#000" >Abhd12</text>
<text x="329.5" y="286.0" font-size="9.9" text-anchor="end" fill="#000" >Trem1</text>
<text x="354.0" y="275.3" font-size="9.9" text-anchor="end" fill="#000" >Cxcl2</text>
<text x="372.0" y="268.3" font-size="9.9" text-anchor="end" fill="#000" >Hck</text>
<defs><linearGradient id="fc" x1="0" y1="0" x2="0" y2="1"><stop offset="0" stop-color="#ff0000"/><stop offset="1" stop-color="#0000ff"/></linearGradient></defs>
<rect x="562.5" y="419" width="10" height="52.5" fill="url(#fc)"/>
<text x="562.5" y="414.0" font-size="7.85" text-anchor="start" fill="#000" >fold change</text>
<text x="575.8" y="424.3" font-size="8" text-anchor="start" fill="#000" >0.9</text>
<text x="575.8" y="432.4" font-size="8" text-anchor="start" fill="#000" >0.8</text>
<text x="575.8" y="440.5" font-size="8" text-anchor="start" fill="#000" >0.7</text>
<text x="575.8" y="448.6" font-size="8" text-anchor="start" fill="#000" >0.6</text>
<text x="575.8" y="456.7" font-size="8" text-anchor="start" fill="#000" >0.5</text>
<text x="575.8" y="464.8" font-size="8" text-anchor="start" fill="#000" >0.4</text>
<text x="575.8" y="472.9" font-size="8" text-anchor="start" fill="#000" >0.3</text>
<text x="618.5" y="415.5" font-size="7.4" text-anchor="start" fill="#000" >size</text>
<circle cx="627" cy="423.7" r="4.7" fill="#000"/>
<text x="638.0" y="426.4" font-size="7.5" text-anchor="start" fill="#000" >6</text>
<circle cx="627" cy="436.5" r="5.6" fill="#000"/>
<text x="638.0" y="439.2" font-size="7.5" text-anchor="start" fill="#000" >9</text>
<circle cx="627" cy="451.5" r="6.3" fill="#000"/>
<text x="638.0" y="454.2" font-size="7.5" text-anchor="start" fill="#000" >11</text>
<circle cx="627" cy="467.5" r="6.9" fill="#000"/>
<text x="638.0" y="470.2" font-size="7.5" text-anchor="start" fill="#000" >14</text>
<path d="M31.6 579V688H199" fill="none" stroke="#000" stroke-width="0.8"/>
<path d="M29.7 601h1.8" stroke="#000" stroke-width="0.8"/>
<text x="29.4" y="604.0" font-size="8.4" text-anchor="end" fill="#000" >40</text>
<path d="M29.7 624h1.8" stroke="#000" stroke-width="0.8"/>
<text x="29.4" y="627.0" font-size="8.4" text-anchor="end" fill="#000" >20</text>
<path d="M29.7 647h1.8" stroke="#000" stroke-width="0.8"/>
<text x="29.4" y="650.0" font-size="8.4" text-anchor="end" fill="#000" >0</text>
<path d="M29.7 669.5h1.8" stroke="#000" stroke-width="0.8"/>
<text x="29.4" y="672.5" font-size="8.4" text-anchor="end" fill="#000" >−20</text>
<path d="M62 688v2.5" stroke="#000" stroke-width="0.8"/>
<text x="62.0" y="697.3" font-size="8.4" text-anchor="middle" fill="#000" >−25</text>
<path d="M106 688v2.5" stroke="#000" stroke-width="0.8"/>
<text x="106.0" y="697.3" font-size="8.4" text-anchor="middle" fill="#000" >0</text>
<path d="M150 688v2.5" stroke="#000" stroke-width="0.8"/>
<text x="150.0" y="697.3" font-size="8.4" text-anchor="middle" fill="#000" >25</text>
<path d="M194 688v2.5" stroke="#000" stroke-width="0.8"/>
<text x="194.0" y="697.3" font-size="8.4" text-anchor="middle" fill="#000" >50</text>
<text x="116.8" y="708.2" font-size="9.6" text-anchor="middle" fill="#000" >tSNE_1</text>
<text x="11.6" y="634.1" font-size="9.6" text-anchor="middle" fill="#000" transform="rotate(-90 11.6 634.1)" >tSNE_2</text>
<text x="118.3" y="568.7" font-size="12.6" text-anchor="middle" fill="#000" font-weight="bold" >Upp1</text>
<defs><linearGradient id="gUpp1" x1="0" y1="0" x2="0" y2="1"><stop offset="0" stop-color="#0000ff"/><stop offset="0.25" stop-color="#533ef5"/><stop offset="0.5" stop-color="#8370ea"/><stop offset="0.75" stop-color="#ada2df"/><stop offset="1" stop-color="#d3d3d3"/></linearGradient></defs>
<rect x="197.6" y="612.5" width="9.5" height="46.5" fill="url(#gUpp1)"/>
<text x="211.2" y="615.5" font-size="8.3" text-anchor="start" fill="#000" >4</text>
<text x="211.2" y="627.1" font-size="8.3" text-anchor="start" fill="#000" >3</text>
<text x="211.2" y="638.7" font-size="8.3" text-anchor="start" fill="#000" >2</text>
<text x="211.2" y="650.3" font-size="8.3" text-anchor="start" fill="#000" >1</text>
<text x="211.2" y="661.9" font-size="8.3" text-anchor="start" fill="#000" >0</text>
<path d="M109.0 655.5h0M70.3 663.5h0M95.2 657.6h0M92.9 657.3h0M77.0 668.6h0M73.8 659.8h0M108.4 663.9h0M105.5 668.9h0M66.6 654.6h0M71.0 656.5h0M76.1 657.4h0M80.9 646.5h0M98.3 666.8h0M80.7 654.1h0M96.2 665.5h0M87.9 645.9h0M103.2 659.5h0M95.3 654.4h0M83.3 647.0h0M109.6 663.7h0M69.9 661.1h0M92.1 661.5h0M100.1 662.5h0M83.0 661.3h0M82.5 654.0h0M81.2 661.0h0M81.8 652.1h0M102.9 668.7h0M94.8 668.9h0M82.1 661.0h0M77.2 650.4h0M68.2 663.8h0M108.4 654.4h0M83.9 645.3h0M70.8 659.3h0M75.5 663.6h0M73.7 666.9h0M81.3 655.7h0M75.0 649.3h0M85.4 650.4h0M93.2 667.4h0M81.2 647.2h0M101.2 662.5h0M65.6 652.9h0M93.3 652.8h0M66.7 652.1h0M79.2 670.6h0M104.8 662.1h0M69.3 664.2h0M68.7 656.5h0M85.3 646.7h0M110.6 663.0h0M99.4 663.5h0M85.6 665.6h0M97.3 648.4h0M89.8 655.1h0M87.8 663.9h0M96.5 660.8h0M100.1 669.1h0M110.2 654.8h0M85.3 656.1h0M91.9 651.4h0M101.7 654.3h0M102.8 668.8h0M68.9 647.8h0M100.1 662.0h0M96.1 656.0h0M90.2 648.8h0M87.3 650.0h0M97.8 647.0h0M72.4 646.1h0M89.2 660.1h0M104.1 656.1h0M70.8 664.9h0M98.6 668.6h0M73.8 667.6h0M107.2 659.4h0M71.3 650.7h0M75.3 660.2h0M97.1 667.1h0M85.2 655.8h0M87.0 653.4h0M85.1 662.7h0M98.6 653.7h0M92.6 647.4h0M67.3 651.2h0M83.4 642.7h0M68.7 652.5h0M82.7 651.0h0M70.7 657.8h0M104.3 656.2h0M74.5 662.4h0M74.3 650.0h0M99.5 666.3h0M79.0 654.8h0M81.4 655.7h0M102.7 652.3h0M90.8 671.8h0M103.8 648.2h0M79.1 654.5h0M103.0 665.1h0M72.6 667.4h0M105.0 660.2h0M68.0 648.2h0M78.7 653.7h0M108.2 663.2h0M75.2 662.7h0M81.7 648.4h0M83.7 658.3h0M83.1 658.8h0M96.8 653.8h0M88.1 653.8h0M79.4 650.2h0M89.1 643.1h0M106.2 655.8h0M85.3 657.9h0M101.0 661.0h0M88.3 652.8h0M99.7 659.2h0M100.2 669.4h0M96.3 657.5h0M89.2 660.1h0M87.8 667.1h0M99.2 662.6h0M90.9 670.3h0M67.1 653.8h0M80.3 670.0h0M70.4 662.7h0M86.5 664.4h0M77.4 667.6h0M97.3 670.3h0M101.8 652.6h0M67.6 661.0h0M100.6 646.0h0M108.1 661.2h0M82.1 644.7h0M70.7 653.4h0M76.7 661.1h0M70.5 650.0h0M83.9 656.1h0M84.6 659.9h0M76.4 648.1h0M85.5 661.5h0M93.6 653.7h0M73.5 662.5h0M76.8 648.1h0M99.7 671.2h0M78.6 644.1h0M98.2 658.1h0M98.4 667.1h0M89.4 650.8h0M88.5 662.5h0M79.2 660.5h0M102.9 669.3h0M92.9 645.3h0M97.4 669.0h0M66.6 661.5h0M85.8 669.1h0M111.1 659.1h0M97.6 654.8h0M96.3 645.6h0M105.7 666.8h0M102.2 658.4h0M74.5 654.1h0M96.2 660.1h0M84.3 649.3h0M76.4 647.4h0M83.3 662.7h0M106.5 665.5h0M92.1 665.1h0M93.9 653.9h0M82.3 643.7h0M97.5 645.3h0M94.7 670.9h0M95.4 661.8h0M88.1 642.8h0M92.7 662.4h0M104.4 663.2h0M102.9 663.4h0M103.3 667.9h0M111.0 659.6h0M106.9 657.0h0M84.0 650.1h0M98.6 646.8h0M79.4 653.1h0M70.1 658.0h0M83.2 666.0h0M73.7 656.4h0M77.1 668.0h0M78.3 655.8h0M90.1 650.7h0M91.4 644.8h0M81.9 650.1h0M101.6 667.6h0M96.9 661.6h0M104.1 667.1h0M98.1 669.2h0M71.8 657.3h0M93.3 661.4h0M89.4 650.7h0M67.3 659.7h0M78.0 647.6h0M78.4 659.4h0M78.9 661.2h0M75.2 665.5h0M68.6 657.2h0M98.0 659.7h0M102.8 659.5h0M87.4 670.3h0M97.9 647.3h0M97.4 664.9h0M78.9 664.5h0M92.0 655.4h0M90.1 651.0h0M76.5 667.7h0M79.9 664.6h0M83.1 647.4h0M94.0 645.1h0M92.7 661.9h0M110.1 654.4h0M76.8 647.5h0M88.0 655.1h0M80.0 670.0h0M78.0 666.0h0M91.2 645.9h0M65.6 657.7h0M98.5 650.9h0M95.3 668.6h0M99.6 651.4h0M91.8 644.4h0M80.2 668.8h0M68.7 648.6h0M82.9 644.1h0M82.5 647.8h0M84.4 660.5h0M97.0 646.5h0M91.5 644.5h0M84.0 666.3h0M75.6 665.5h0M76.5 652.7h0M90.4 658.9h0M96.1 672.2h0M98.2 650.6h0M74.1 655.0h0M77.6 657.7h0M68.1 660.6h0M86.0 643.6h0M80.8 671.2h0M71.7 662.1h0M93.0 657.5h0M69.5 659.2h0M91.8 662.4h0M100.6 669.2h0M71.9 649.3h0M71.5 654.9h0M95.2 667.9h0M85.7 669.7h0M102.2 669.5h0M103.4 651.1h0M82.7 643.3h0M100.4 658.4h0M83.3 667.9h0M76.9 659.5h0M67.0 659.9h0M109.0 660.6h0M71.2 657.2h0M67.9 653.5h0M101.8 666.7h0M104.6 658.5h0M87.1 643.9h0M101.2 661.5h0M85.2 646.4h0M87.9 644.2h0M86.0 646.2h0M102.8 662.9h0M104.9 661.5h0M73.1 648.6h0M103.4 662.2h0M94.3 662.4h0M83.4 667.3h0M108.3 663.1h0M91.1 655.2h0M65.1 656.6h0M75.7 659.2h0M106.1 667.5h0M77.3 659.2h0M77.1 663.8h0M75.2 666.9h0M94.7 670.3h0M78.9 670.0h0M92.8 650.8h0M95.6 652.8h0M94.2 650.6h0M68.2 663.1h0M70.3 662.7h0M78.0 652.0h0M91.0 671.1h0M93.4 660.7h0M80.3 652.8h0M92.3 650.4h0M93.1 669.2h0M66.6 650.5h0M83.5 667.4h0M90.1 658.3h0M92.7 659.8h0M96.1 660.4h0M91.6 650.0h0M70.7 653.2h0M78.1 658.4h0M89.0 656.3h0M71.8 664.0h0M69.8 646.7h0M78.9 647.2h0M90.5 647.9h0M94.2 661.4h0M93.9 657.7h0M94.1 652.2h0M85.5 662.9h0M73.8 662.6h0M90.0 672.2h0M93.2 659.7h0M101.4 653.0h0M82.4 654.7h0M98.0 665.5h0M110.5 660.5h0M84.4 644.5h0M65.2 657.1h0M97.7 662.4h0M101.4 657.5h0M98.8 662.2h0M94.0 659.8h0M95.5 660.4h0M68.2 660.0h0M97.8 656.7h0M110.0 660.0h0M72.4 655.7h0M82.8 646.6h0M99.3 649.1h0M86.7 672.4h0M107.2 658.6h0M94.6 657.2h0M73.0 651.0h0M83.7 668.1h0M69.9 656.1h0M86.5 658.9h0M77.9 669.9h0M93.6 651.4h0M88.7 668.7h0M66.3 658.9h0M88.3 651.1h0M73.3 647.3h0M85.4 654.8h0M93.7 651.3h0M93.7 657.5h0M100.5 668.5h0M90.8 652.9h0M84.3 662.5h0M75.1 666.6h0M75.5 667.0h0M85.5 654.2h0M91.5 658.7h0M90.0 659.6h0M103.8 652.9h0M86.3 667.7h0M79.4 656.0h0M109.2 665.0h0M104.1 662.5h0M106.4 665.3h0M76.4 652.0h0M88.7 645.8h0M107.8 659.8h0M74.1 655.3h0M103.2 652.8h0M93.8 645.9h0M77.3 646.5h0M87.5 663.1h0M74.5 661.3h0M91.0 665.5h0M111.3 659.4h0M89.8 648.0h0M68.1 659.1h0M68.5 656.0h0M100.7 657.7h0M70.8 660.5h0M85.3 658.3h0M96.0 668.9h0M102.3 651.9h0M102.7 647.6h0M70.7 655.3h0M73.1 657.3h0M76.1 669.3h0M83.6 666.4h0M108.9 659.0h0M84.9 645.7h0M93.6 671.1h0M97.5 653.3h0M89.8 653.4h0M81.8 664.9h0M65.1 653.7h0M90.0 647.1h0M99.8 651.7h0M84.6 649.4h0M92.8 656.1h0M96.9 656.5h0M101.0 660.9h0M69.6 654.7h0M77.3 649.9h0M108.9 659.8h0M100.6 648.8h0M95.6 647.0h0M76.6 644.6h0M110.2 656.6h0M97.5 645.1h0M74.4 664.0h0M101.5 651.3h0M87.1 666.5h0M92.7 658.9h0M73.4 656.2h0M94.1 660.3h0M95.1 655.8h0M103.8 660.7h0M102.1 667.7h0M96.6 660.3h0M77.9 644.0h0M96.5 651.1h0M93.0 659.7h0M93.3 656.1h0M76.7 650.0h0M95.5 670.2h0M80.3 650.8h0M85.9 655.1h0M93.1 666.0h0M99.2 668.4h0M85.8 655.6h0M95.8 653.0h0M103.7 657.2h0M90.6 658.5h0M77.8 655.3h0M102.5 652.9h0M68.8 648.7h0M107.7 665.5h0M101.7 669.5h0M73.0 655.5h0M69.6 651.2h0M86.5 666.9h0M77.5 661.1h0M72.3 647.9h0M67.1 657.0h0M91.1 664.4h0M82.4 670.0h0M98.1 661.0h0M78.1 657.7h0M90.7 671.7h0M98.2 645.2h0M108.8 659.4h0M73.2 663.4h0M92.5 668.9h0M91.4 650.6h0M86.8 656.3h0M80.8 658.9h0M72.7 647.9h0M88.2 664.7h0M81.8 668.8h0M76.4 668.0h0M97.9 649.1h0M100.2 648.8h0M83.2 653.1h0M80.9 652.3h0M72.6 652.3h0M80.3 662.8h0M82.7 671.1h0M104.8 666.1h0M108.4 657.7h0M94.1 645.3h0M82.4 651.5h0M101.6 646.5h0M84.5 656.5h0M103.4 663.7h0M70.9 660.1h0M75.2 659.2h0M82.1 670.5h0M86.6 650.4h0M77.3 669.9h0M82.0 648.9h0M88.9 662.8h0M79.1 663.0h0M87.0 663.1h0M97.8 646.5h0M80.2 646.8h0M79.7 644.6h0M65.8 655.1h0M101.4 649.1h0M88.4 651.4h0M101.2 659.5h0M81.5 666.5h0M69.9 652.9h0M91.3 647.5h0M89.1 664.7h0M72.1 659.6h0M84.6 662.4h0M68.9 662.8h0M87.9 651.0h0M101.0 660.0h0M78.7 652.9h0M105.4 661.3h0M108.4 661.6h0M98.1 646.9h0M84.6 660.4h0M83.1 661.4h0M80.1 661.1h0M74.5 655.3h0M84.5 657.8h0M99.4 649.0h0M84.8 672.0h0M92.1 665.2h0M83.2 653.7h0M87.5 650.5h0M89.7 664.8h0M104.8 660.1h0M98.7 646.3h0M93.6 671.3h0M93.4 658.0h0M88.9 655.0h0M74.3 646.4h0M101.6 659.9h0M66.0 657.9h0M102.8 664.2h0M73.2 655.7h0M87.5 647.3h0M78.5 646.7h0M94.1 663.4h0M84.6 655.7h0M107.3 664.7h0M85.4 664.6h0M100.0 653.4h0M67.0 661.6h0M99.1 662.1h0M93.1 662.4h0M68.8 650.7h0M100.5 647.5h0M66.9 651.9h0M103.9 663.7h0M77.2 643.3h0M102.2 669.9h0M98.6 650.1h0M73.5 650.0h0M71.2 662.2h0M101.2 652.3h0M92.8 645.6h0M98.6 663.5h0M102.3 667.4h0M86.1 671.7h0M86.4 655.6h0M93.2 667.0h0M90.2 671.2h0M75.7 667.8h0M106.2 655.4h0M65.6 657.4h0M91.7 671.9h0M89.8 664.5h0M101.5 649.3h0M96.0 656.8h0M75.7 649.0h0M80.6 663.6h0M91.2 652.5h0M98.4 669.2h0M78.0 655.0h0M77.2 665.8h0M87.6 643.8h0M65.6 657.6h0M92.7 659.4h0M67.7 656.5h0M89.9 651.8h0M76.6 645.5h0M87.8 653.4h0M91.3 663.2h0M77.1 659.2h0M75.7 663.2h0M73.8 658.4h0M97.7 667.9h0M87.7 669.9h0M82.4 649.6h0M95.4 647.3h0M95.5 655.1h0M90.1 653.0h0M81.5 643.0h0M110.8 657.1h0M101.0 657.9h0M86.1 661.7h0M79.7 661.7h0M91.1 645.6h0M100.9 659.5h0M100.6 663.3h0M92.5 648.2h0M85.7 650.8h0M101.7 647.9h0M74.6 658.5h0M82.5 645.8h0M97.6 655.0h0M91.4 667.6h0M68.6 652.4h0M79.3 669.4h0M94.9 649.3h0M88.1 642.8h0M90.5 644.8h0M71.1 655.4h0M91.0 649.2h0M92.7 652.4h0M99.3 645.5h0M104.1 658.2h0M73.6 649.1h0M95.6 646.3h0M108.4 651.9h0M85.6 644.2h0M84.0 670.9h0M74.8 645.9h0M89.6 662.0h0M72.6 646.8h0M93.9 650.4h0M103.9 669.0h0M105.7 651.3h0M78.7 659.2h0M92.9 662.0h0M91.6 649.9h0M77.6 643.4h0M67.1 657.0h0M109.2 664.2h0M82.3 650.9h0M65.7 652.8h0M88.3 649.4h0M86.7 666.5h0M80.1 664.1h0M101.5 654.9h0M99.8 654.7h0M73.1 653.0h0M69.1 661.5h0M76.5 655.8h0M102.0 662.4h0M106.1 666.9h0M96.0 665.9h0M95.1 671.2h0M91.7 662.9h0M90.2 658.8h0M109.4 654.4h0M73.6 655.5h0M78.3 662.6h0M74.0 659.1h0M82.4 662.2h0M88.2 645.8h0M68.5 658.3h0M92.8 661.6h0M88.2 657.7h0M83.7 666.4h0M94.5 667.7h0M75.7 647.7h0M75.3 655.3h0M105.2 666.7h0M90.4 669.8h0M92.3 665.8h0M79.2 650.4h0M105.7 668.8h0M92.9 665.4h0M79.4 644.2h0M73.8 648.2h0M92.0 652.7h0M95.3 668.1h0M70.4 655.4h0M110.9 656.5h0M88.3 667.0h0M99.8 666.3h0M80.7 656.2h0M68.0 658.9h0M73.7 654.3h0M101.2 661.3h0M97.3 645.2h0M73.6 658.1h0M100.2 646.8h0M69.7 649.3h0M84.7 652.0h0M92.9 671.9h0M92.5 670.8h0M70.2 658.5h0M80.3 666.9h0M92.1 661.5h0M71.4 653.3h0M68.4 656.6h0M74.3 661.6h0M77.1 656.6h0M99.7 647.5h0M91.1 645.6h0M78.1 654.6h0M89.4 662.4h0M108.6 655.4h0M82.2 647.9h0M99.6 655.1h0M75.9 646.5h0M82.9 667.0h0M86.3 659.7h0M77.0 653.2h0M100.2 646.6h0M86.9 649.9h0M78.9 651.3h0M73.6 657.8h0M78.3 646.5h0M102.8 665.2h0M74.2 649.9h0M87.0 667.5h0M80.7 654.3h0M75.3 650.2h0M71.4 665.7h0M70.2 653.2h0M76.1 648.1h0M99.6 654.7h0M95.5 650.3h0M66.8 655.9h0M85.9 668.2h0M95.2 644.5h0M100.8 666.6h0M109.2 654.4h0M100.5 660.4h0M87.3 658.2h0M81.6 667.3h0M73.5 650.9h0M81.6 642.9h0M88.9 644.3h0M75.8 664.0h0M80.1 644.1h0M84.3 659.3h0M71.1 651.4h0M89.6 665.1h0M75.6 663.3h0M91.5 648.1h0M101.1 670.9h0M110.0 656.2h0M100.6 665.9h0M91.6 654.6h0M78.0 665.7h0M67.6 656.8h0M98.8 650.5h0M100.2 665.7h0M80.5 654.6h0M97.5 665.1h0M84.4 670.7h0M92.5 669.8h0M74.2 652.8h0M78.3 656.1h0M100.7 646.9h0M83.7 656.6h0M83.1 649.0h0M68.4 655.9h0M78.5 669.7h0M94.5 656.3h0M96.3 662.1h0M87.7 657.7h0M82.1 669.0h0M102.5 653.9h0M80.5 654.4h0M77.4 663.9h0M69.0 656.5h0M98.6 654.3h0M99.3 654.7h0M95.4 646.5h0M79.3 658.1h0M93.3 657.2h0M66.3 655.6h0M106.0 653.1h0M73.9 659.2h0M77.2 643.9h0M67.7 658.4h0M104.6 668.1h0M90.6 669.2h0M105.2 652.9h0M108.0 664.6h0M94.7 653.7h0M69.7 649.8h0M74.9 659.7h0M94.7 662.4h0M76.0 643.7h0M80.2 668.9h0M85.2 666.2h0M73.9 651.1h0M102.8 653.3h0M98.3 662.0h0M97.2 644.5h0M83.1 650.1h0M97.2 658.3h0M94.2 655.0h0M78.4 649.8h0M74.5 661.5h0M86.3 672.1h0M100.4 664.4h0M100.5 650.4h0M90.5 643.2h0M90.9 643.7h0M80.9 655.8h0M72.3 646.3h0M71.0 659.6h0M104.8 654.3h0M97.0 672.0h0M99.0 667.7h0M97.7 656.5h0M89.6 670.7h0M93.3 643.9h0M84.0 668.2h0M97.8 658.3h0M74.3 661.7h0M108.6 658.3h0M80.4 650.5h0M74.2 660.3h0M101.1 663.9h0M78.5 653.2h0M100.6 666.5h0M88.4 664.8h0M102.7 660.2h0M94.9 669.2h0M104.9 649.5h0M104.0 650.3h0M103.3 667.4h0M73.8 645.1h0M94.8 662.2h0M73.4 665.5h0M97.1 660.3h0M107.6 658.5h0M85.0 649.0h0M104.9 654.4h0M79.3 659.0h0M85.8 644.0h0M103.8 659.5h0M73.4 647.3h0M66.3 650.7h0M81.3 667.1h0M105.8 652.1h0M99.9 654.8h0M99.7 664.0h0M68.1 653.8h0M84.6 655.8h0M89.8 663.5h0M83.4 657.4h0M102.5 665.0h0M75.2 644.7h0M81.2 668.0h0M80.9 663.9h0M86.2 671.0h0M87.5 661.6h0M96.1 662.6h0M72.7 657.4h0M83.9 662.4h0M102.0 650.6h0M83.0 649.4h0M109.5 660.2h0M83.7 671.0h0M99.7 670.0h0M89.7 646.4h0M83.8 644.3h0M83.6 655.4h0M85.1 671.6h0M90.9 647.8h0M72.3 660.7h0M89.1 654.9h0M88.1 654.8h0M95.9 661.4h0M67.0 654.4h0M76.0 658.3h0M85.2 665.0h0M93.5 658.5h0M69.0 661.8h0M74.4 651.9h0M92.9 651.1h0M104.7 661.3h0M87.1 652.0h0M90.9 662.4h0M90.4 671.2h0M85.8 653.3h0M99.4 660.7h0M75.5 668.5h0M88.1 669.9h0M103.2 669.2h0M93.1 658.6h0M79.7 646.2h0M84.0 667.0h0M88.5 672.2h0M101.8 660.8h0M92.6 655.7h0M96.8 654.5h0M99.7 656.8h0M97.0 658.9h0M92.3 670.9h0M106.3 659.5h0M81.9 663.1h0M89.4 651.0h0M96.3 648.6h0M79.6 648.8h0M77.5 658.0h0M104.3 664.1h0M93.7 666.2h0M83.2 654.6h0M96.3 649.8h0M98.0 671.7h0M108.5 652.0h0M70.3 658.6h0M82.2 647.0h0M92.9 659.3h0M89.7 658.1h0M92.3 666.5h0M97.4 665.1h0M103.4 658.8h0M96.1 646.9h0M68.7 653.4h0M97.5 650.8h0M87.7 656.5h0M75.9 659.9h0M82.2 651.9h0M85.0 659.5h0M68.8 660.8h0M67.7 655.6h0M78.0 669.8h0M83.7 667.2h0M83.3 650.9h0M86.9 656.4h0M73.2 656.0h0M91.3 660.2h0M99.4 657.7h0M71.0 649.2h0M84.5 654.4h0M73.0 666.3h0M78.6 657.6h0M94.6 647.2h0M86.3 646.1h0M89.0 664.6h0M70.2 653.7h0M96.3 654.8h0M108.7 660.2h0M82.0 662.6h0M103.7 659.6h0M103.6 667.6h0M83.1 663.1h0M90.4 646.1h0M88.8 651.6h0M88.7 654.1h0M90.6 655.9h0M99.4 663.9h0M78.9 647.1h0M76.5 650.6h0M84.5 657.1h0M77.7 649.8h0M90.9 643.0h0M96.2 644.6h0M92.0 660.7h0M70.8 647.2h0M98.1 666.2h0M79.6 667.9h0M73.4 647.2h0M91.2 658.9h0M102.3 653.7h0M106.1 664.0h0M96.5 660.9h0M74.3 657.5h0M80.9 650.7h0M75.5 664.0h0M96.4 647.6h0M95.9 670.1h0M91.1 669.5h0M90.3 658.0h0M83.4 658.9h0M99.6 658.1h0M104.7 668.0h0M89.2 651.7h0M96.3 645.7h0M89.3 655.5h0M93.5 651.7h0M106.9 659.6h0M104.3 652.5h0M105.8 661.4h0M90.4 655.9h0M108.3 662.3h0M90.2 653.7h0M87.0 650.4h0M86.4 650.1h0M68.9 650.7h0M80.4 649.5h0M91.2 651.6h0M99.2 653.1h0M97.8 651.7h0M95.2 654.3h0M89.3 650.9h0M89.2 662.2h0M105.1 652.5h0M91.0 660.0h0M105.5 659.4h0M84.1 654.1h0M109.5 662.9h0M88.3 665.9h0M92.8 658.7h0M96.3 651.5h0M96.9 668.6h0M101.5 647.5h0M77.9 668.9h0M103.3 649.0h0M73.5 662.5h0M97.1 644.5h0M90.7 648.4h0M104.5 660.9h0M65.8 651.2h0M105.1 666.5h0M76.4 660.4h0M100.0 661.0h0M71.2 647.4h0M100.3 647.8h0M80.4 669.5h0M85.2 646.6h0M95.6 654.0h0M102.0 655.4h0M101.9 669.3h0M72.8 656.8h0M87.0 645.9h0M105.0 672.7h0M99.9 670.5h0M101.1 671.0h0M100.8 673.8h0M97.5 671.7h0M92.1 676.8h0M102.1 673.2h0M98.8 672.4h0M100.6 673.4h0M102.8 672.3h0M96.0 670.7h0M89.8 673.4h0M96.0 677.1h0M95.6 672.0h0M99.9 672.8h0M101.0 675.8h0M102.6 672.7h0M98.3 672.2h0M96.5 677.3h0M93.8 673.4h0M104.9 673.6h0M103.3 674.3h0M95.4 675.8h0M100.6 673.0h0M103.9 675.8h0M101.6 673.8h0M100.9 676.9h0M96.4 675.9h0M101.3 674.0h0M91.5 674.2h0M102.3 671.3h0M97.3 676.7h0M95.5 672.9h0M101.4 674.6h0M94.4 671.2h0M96.7 677.1h0M101.3 675.5h0M92.0 676.7h0M89.8 674.2h0M96.3 677.3h0M100.1 671.8h0M90.6 673.8h0M98.9 673.7h0M99.4 670.5h0M95.6 676.6h0M94.4 671.5h0M104.3 673.2h0M95.1 672.9h0M101.1 670.9h0M102.1 672.9h0M90.1 675.3h0M93.8 677.1h0M92.6 675.3h0M96.9 670.4h0M94.3 672.5h0M102.7 676.2h0M93.1 673.0h0M94.9 671.6h0M98.6 671.1h0M94.8 672.3h0M97.4 677.5h0M102.0 673.4h0M92.7 675.1h0M102.6 675.8h0M98.1 675.8h0M95.2 677.6h0M102.1 676.4h0M98.7 677.3h0M97.5 677.6h0M97.0 677.6h0M94.9 674.1h0M99.0 674.4h0M103.8 676.8h0M92.6 675.6h0M98.4 673.2h0M99.2 670.7h0M95.0 672.6h0M91.0 673.0h0M95.7 673.3h0M105.7 674.4h0M93.5 673.6h0M95.7 673.9h0M92.5 676.0h0M105.4 675.0h0M98.6 674.2h0M101.2 672.9h0M103.4 675.4h0M68.8 650.2h0M70.8 647.6h0M71.7 651.4h0M79.4 654.6h0M76.1 644.7h0M70.0 646.1h0M72.7 645.8h0M81.6 648.3h0M75.7 653.4h0M70.9 650.0h0M68.7 649.8h0M82.9 650.8h0M72.8 651.6h0M76.0 650.0h0M78.2 652.5h0M78.9 653.6h0M71.1 646.4h0M81.5 649.2h0M70.1 647.3h0M81.2 647.2h0M80.7 648.6h0M77.0 652.2h0M79.5 646.5h0M78.7 646.0h0M71.9 653.3h0M70.4 649.0h0M69.8 651.0h0M70.8 648.3h0M83.7 649.3h0M76.0 644.4h0M72.2 645.3h0M77.9 645.8h0M70.8 645.7h0M79.8 651.8h0M72.7 647.8h0M72.4 650.6h0M77.1 645.6h0M70.5 651.5h0M72.5 652.0h0M76.6 644.2h0M73.7 651.6h0M71.5 654.0h0M68.1 650.3h0M77.2 646.3h0M83.8 650.6h0M70.1 653.1h0M81.4 651.7h0M81.3 654.2h0M72.3 655.1h0M73.2 646.5h0M71.4 650.0h0M71.4 652.2h0M73.6 655.0h0M77.0 650.0h0M80.2 650.7h0M75.2 646.1h0M75.4 655.9h0M75.4 652.9h0M70.6 648.3h0M50.2 662.4h0M50.5 669.3h0M44.1 670.1h0M54.1 665.4h0M49.1 668.3h0M42.6 666.4h0M50.3 671.3h0M44.1 661.0h0M46.6 661.0h0M43.9 665.8h0M51.1 660.1h0M42.5 665.6h0M48.4 661.1h0M50.7 667.0h0M50.2 659.8h0M48.4 662.6h0M44.2 659.6h0M51.2 668.3h0M44.2 662.0h0M56.4 666.8h0M51.4 662.2h0M55.5 669.3h0M48.2 660.2h0M46.9 658.9h0M43.1 670.2h0M41.4 661.6h0M45.3 673.0h0M42.3 664.7h0M48.6 659.2h0M49.1 659.6h0M44.9 663.3h0M44.6 663.4h0M44.6 660.9h0M44.9 668.9h0M45.5 661.9h0M44.6 662.6h0M48.9 659.5h0M53.7 669.9h0M53.7 665.6h0M43.1 661.2h0M50.8 672.9h0M41.5 668.5h0M54.8 663.2h0M45.9 670.4h0M48.7 667.9h0M40.5 667.8h0M42.0 670.9h0M52.7 668.2h0M50.5 673.1h0M53.6 669.2h0M40.2 667.4h0M56.4 665.2h0M42.2 663.9h0M51.4 661.0h0M47.4 666.0h0M44.9 670.3h0M43.2 670.5h0M43.6 668.5h0M52.4 671.5h0M41.8 661.6h0M40.6 668.9h0M45.6 669.0h0M42.3 668.1h0M44.1 665.1h0M49.5 672.8h0M42.8 670.2h0M51.3 659.7h0M43.2 669.1h0M47.9 664.0h0M54.4 662.5h0M55.0 663.9h0M46.4 671.0h0M52.4 661.3h0M46.3 666.9h0M50.7 669.3h0M46.1 664.2h0M42.5 667.9h0M45.1 670.3h0M53.5 663.8h0M41.2 661.7h0M39.6 666.9h0M47.2 666.8h0M53.8 671.1h0M42.1 662.1h0M42.7 662.7h0M48.8 662.4h0M44.1 660.2h0M47.0 665.3h0M47.8 665.3h0M51.5 667.1h0M51.4 659.5h0M44.5 662.6h0M47.7 664.8h0M50.5 673.0h0M49.6 661.5h0M49.9 665.9h0M44.3 670.6h0M44.0 663.1h0M55.2 665.7h0M51.9 665.8h0M44.0 663.8h0M48.2 663.1h0M46.1 660.2h0M47.6 666.5h0M54.7 665.2h0M44.5 671.2h0M41.5 664.2h0M52.2 672.4h0M42.7 671.0h0M51.4 666.7h0M47.0 670.6h0M47.5 672.7h0M55.2 664.0h0M48.7 664.9h0M46.3 664.0h0M50.8 667.8h0M48.4 668.6h0M39.6 665.7h0M51.3 669.4h0M53.4 661.9h0M50.0 670.8h0M42.8 661.3h0M43.2 666.5h0M54.7 663.8h0M56.5 666.0h0M52.7 671.4h0M46.3 668.4h0M49.9 673.2h0M51.2 663.9h0M42.6 666.2h0M54.2 666.5h0M48.7 661.8h0M42.0 662.1h0M44.7 665.6h0M55.5 662.6h0M43.4 669.6h0M44.6 664.7h0M48.9 662.2h0M43.5 670.6h0M47.7 667.0h0M50.7 669.6h0M41.4 669.6h0M43.9 660.4h0M42.1 662.0h0M53.3 670.3h0M48.0 666.7h0M52.2 667.4h0M40.8 665.4h0M42.9 665.6h0M45.0 667.2h0M50.7 663.1h0M46.2 666.0h0M54.6 666.9h0M55.1 664.4h0M50.6 658.8h0M43.3 668.2h0M45.1 666.3h0M56.2 666.9h0M50.9 667.0h0M46.0 658.9h0M46.7 664.7h0M43.0 664.9h0M48.4 662.8h0M48.8 667.4h0M46.1 670.6h0M67.5 681.8h0M75.4 678.1h0M59.3 680.5h0M78.6 677.6h0M72.4 676.8h0M74.2 676.6h0M75.5 672.1h0M67.4 678.5h0M56.6 679.3h0M74.6 678.5h0M71.8 677.5h0M67.2 676.4h0M70.5 674.9h0M76.1 676.4h0M66.3 677.4h0M74.1 679.9h0M76.7 678.1h0M67.5 672.4h0M67.7 679.9h0M67.0 681.3h0M64.2 677.4h0M61.1 673.9h0M69.5 672.6h0M60.0 675.2h0M80.7 676.1h0M71.9 673.6h0M71.6 673.5h0M67.0 674.9h0M75.2 674.9h0M63.0 674.1h0M72.8 672.2h0M70.7 676.0h0M72.5 671.4h0M78.9 677.1h0M77.0 678.7h0M58.9 676.2h0M59.7 681.6h0M80.1 676.1h0M68.5 676.3h0M57.4 675.0h0M60.0 678.4h0M60.8 676.7h0M56.3 676.3h0M57.7 680.6h0M60.5 678.7h0M55.6 679.5h0M64.4 682.0h0M59.5 675.9h0M67.7 676.9h0M61.9 674.2h0M67.2 671.9h0M64.4 674.8h0M73.5 675.3h0M71.0 677.6h0M74.3 680.9h0M69.9 678.9h0M68.9 672.2h0M77.0 676.1h0M68.7 681.9h0M65.7 677.0h0M75.1 675.4h0M66.5 679.8h0M78.6 675.0h0M73.5 676.9h0M68.9 673.7h0M61.8 675.2h0M60.0 674.8h0M76.7 677.7h0M62.3 673.4h0M73.0 679.0h0M72.1 678.8h0M69.9 671.5h0M76.5 679.9h0M58.9 677.0h0M77.0 679.5h0M76.2 672.5h0M75.7 672.3h0M64.4 680.7h0M76.7 674.7h0M66.0 679.5h0M63.5 674.7h0M59.8 679.4h0M73.5 673.1h0M74.7 677.2h0M70.0 677.0h0M64.9 672.1h0M69.3 678.6h0M71.4 672.7h0M77.5 674.7h0M56.2 680.6h0M68.0 678.4h0M63.5 678.7h0M73.8 673.2h0M57.9 680.1h0M78.5 677.9h0M70.2 677.0h0M70.7 671.9h0M68.1 680.0h0M75.2 673.7h0M71.8 676.9h0M68.0 678.1h0M75.3 677.6h0M75.4 671.6h0M68.1 677.0h0M63.8 678.7h0M64.8 676.2h0M72.0 678.6h0M78.5 674.0h0M67.8 676.5h0M81.0 675.4h0M57.6 678.4h0M70.8 671.9h0M70.4 678.8h0M64.0 678.0h0M64.7 673.6h0M71.7 676.9h0M76.7 679.5h0M74.7 675.0h0M68.8 674.9h0M56.6 677.2h0M77.1 673.6h0M58.6 677.7h0M72.1 679.7h0M55.8 678.3h0M63.2 672.4h0M80.3 673.5h0M55.7 679.9h0M59.8 675.7h0M73.4 673.0h0M62.9 675.5h0M79.3 672.7h0M63.8 672.7h0M75.9 672.4h0M56.5 677.2h0M67.2 678.0h0M74.4 673.3h0M76.6 672.0h0M67.2 674.7h0M69.4 674.0h0M68.8 674.2h0M75.6 675.3h0M68.6 678.7h0M61.0 674.5h0M65.9 680.1h0M74.1 675.7h0M70.5 673.9h0M80.2 676.8h0M75.9 674.4h0M70.4 679.0h0M69.3 679.7h0M62.3 681.0h0M63.2 677.9h0M58.3 677.3h0M59.7 678.6h0M72.5 678.4h0M73.3 678.7h0M70.2 672.8h0M68.8 674.4h0M54.8 678.9h0M80.6 674.9h0M75.1 677.4h0M55.7 679.3h0M63.2 682.2h0M73.2 681.1h0M77.4 676.6h0M67.2 677.5h0M63.7 681.5h0M63.6 676.9h0M70.6 674.5h0M70.2 671.7h0M76.1 678.7h0M59.7 678.9h0M75.3 672.8h0M65.8 672.8h0M72.8 678.5h0M56.4 679.9h0M77.6 672.1h0M78.6 673.0h0M74.4 672.7h0M77.5 674.9h0M62.8 673.6h0M67.0 677.1h0M69.6 672.1h0M66.3 679.7h0M74.0 673.1h0M60.3 678.2h0M61.0 679.5h0M62.2 676.3h0M64.8 677.0h0M60.6 675.1h0M55.5 677.1h0M80.0 673.8h0M63.9 680.3h0M61.2 680.8h0M76.2 679.1h0M69.5 672.4h0M72.8 677.2h0M68.0 680.0h0M59.3 676.8h0M72.1 680.8h0M61.5 677.0h0M68.6 676.5h0M56.5 677.1h0M79.3 674.0h0M69.0 681.5h0M71.1 681.6h0M62.7 676.2h0M69.8 677.8h0M71.2 681.0h0M68.5 677.5h0M66.3 675.4h0M80.8 676.8h0M67.2 672.6h0M71.0 671.5h0M66.8 674.0h0M60.5 677.4h0M57.5 675.7h0M73.3 671.8h0M77.1 674.7h0M60.7 681.1h0M64.5 676.0h0M79.7 675.3h0M66.4 678.2h0M77.9 677.1h0M63.7 681.6h0M62.3 677.2h0M76.2 679.8h0M59.9 675.5h0M68.5 677.6h0M69.0 676.5h0M75.1 673.2h0M66.5 679.2h0M78.1 672.9h0M64.1 677.2h0M61.8 678.0h0M67.5 675.4h0M57.9 679.0h0M77.0 674.4h0M61.9 681.5h0M58.9 679.0h0M75.1 676.1h0M62.6 678.9h0M63.9 679.5h0M76.4 679.2h0M74.7 671.9h0M62.1 679.7h0M72.2 680.8h0M65.7 672.4h0M68.8 674.9h0M56.1 677.0h0M75.6 678.0h0M67.1 680.7h0M66.1 678.9h0M69.9 677.7h0M80.7 676.3h0M61.1 674.0h0M68.9 673.2h0M64.7 682.6h0M59.1 675.0h0M72.5 676.4h0M78.7 673.6h0M74.8 675.1h0M59.6 676.8h0M67.3 676.8h0M70.7 678.7h0M58.9 679.9h0M76.5 674.8h0M61.5 675.2h0M70.3 672.5h0M60.0 675.9h0M73.4 678.9h0M68.6 673.0h0M63.4 672.8h0M81.2 674.7h0M59.3 674.7h0M54.8 671.2h0M53.9 675.1h0M56.6 673.7h0M53.1 671.3h0M59.0 673.9h0M57.0 675.4h0M54.5 674.6h0M52.4 675.5h0M54.1 670.8h0M52.8 671.6h0M53.1 672.3h0M57.1 672.7h0M55.5 674.0h0M54.8 676.8h0M53.3 676.6h0M54.6 677.7h0M54.9 675.5h0M52.4 671.8h0M57.9 673.5h0M59.9 676.2h0M55.1 676.5h0M53.2 674.8h0M56.6 677.3h0M54.5 672.6h0M56.4 674.6h0M55.0 674.8h0M59.0 673.6h0M56.7 672.8h0M54.1 675.9h0M55.1 670.9h0M52.5 674.4h0M52.6 676.4h0M53.2 671.6h0M56.0 673.5h0M55.1 671.1h0M54.7 676.0h0M57.0 674.3h0M55.1 672.5h0M52.1 672.3h0M54.8 676.5h0M59.5 675.7h0M56.1 677.9h0M54.7 671.4h0M58.6 674.7h0M57.3 671.5h0M56.4 674.6h0M54.1 671.2h0M54.5 672.4h0M91.9 612.1h0M97.2 623.2h0M94.3 619.2h0M105.1 619.7h0M90.4 621.4h0M103.0 608.0h0M100.8 622.3h0M100.2 620.3h0M98.1 617.6h0M104.4 615.4h0M102.9 617.6h0M101.0 605.2h0M91.2 617.8h0M92.6 616.3h0M98.1 613.4h0M103.2 604.6h0M98.1 606.6h0M105.5 614.9h0M99.6 605.0h0M94.9 619.5h0M88.6 609.2h0M87.0 608.7h0M85.7 610.8h0M91.6 606.3h0M88.7 606.8h0M105.5 616.2h0M105.0 609.0h0M93.9 611.5h0M101.8 610.4h0M93.1 623.8h0M84.8 615.8h0M95.9 616.1h0M86.2 612.7h0M89.3 607.2h0M97.8 612.0h0M89.4 618.1h0M108.1 611.7h0M89.9 617.3h0M90.9 623.4h0M102.6 608.8h0M87.5 610.4h0M108.5 611.2h0M97.5 620.4h0M105.4 614.9h0M103.8 614.4h0M95.7 607.3h0M91.1 618.3h0M89.6 608.1h0M88.0 616.2h0M96.8 614.4h0M88.4 616.8h0M108.7 613.0h0M90.5 618.7h0M93.9 613.8h0M91.4 608.6h0M100.8 614.8h0M102.5 620.8h0M98.7 613.2h0M91.9 610.4h0M89.1 609.6h0M87.3 618.2h0M105.6 619.5h0M93.0 616.4h0M92.9 613.3h0M103.4 620.5h0M104.4 616.9h0M98.7 608.2h0M101.2 620.4h0M99.9 614.5h0M95.7 619.3h0M100.8 612.8h0M93.5 623.4h0M85.7 615.9h0M95.5 619.3h0M107.5 606.9h0M92.4 617.8h0M109.3 613.4h0M85.8 620.5h0M91.8 619.2h0M88.3 614.0h0M90.6 622.8h0M102.6 612.7h0M99.9 617.5h0M93.6 607.9h0M97.3 614.7h0M87.7 611.2h0M88.9 611.3h0M97.0 621.1h0M99.8 604.3h0M102.3 614.8h0M106.0 619.2h0M99.3 615.3h0M102.5 620.6h0M94.1 606.5h0M96.2 612.2h0M101.5 611.6h0M88.4 610.2h0M101.7 605.2h0M93.0 606.8h0M87.1 617.4h0M91.4 612.5h0M87.3 620.6h0M102.2 616.0h0M108.6 615.6h0M87.1 615.6h0M108.8 613.0h0M88.8 621.8h0M104.5 609.9h0M97.0 619.6h0M100.7 618.2h0M103.4 603.7h0M89.7 618.0h0M96.3 603.7h0M94.9 618.4h0M86.8 609.7h0M96.9 617.5h0M96.1 613.9h0M89.6 613.8h0M93.3 613.8h0M105.5 610.1h0M107.7 616.6h0M102.6 620.4h0M97.5 607.1h0M95.6 609.1h0M87.9 620.0h0M102.5 617.3h0M86.6 615.7h0M87.3 617.6h0M87.6 621.2h0M100.6 603.2h0M90.7 608.1h0M98.8 611.5h0M87.7 617.6h0M90.5 617.3h0M93.9 619.3h0M94.6 619.9h0M102.9 609.8h0M93.7 605.9h0M90.2 610.9h0M106.5 616.1h0M102.1 617.2h0M96.2 616.8h0M100.2 620.4h0M99.7 621.1h0M92.4 609.9h0M89.5 607.9h0M95.3 623.7h0M93.6 617.3h0M92.3 617.8h0M102.3 606.9h0M90.4 617.3h0M101.5 620.0h0M104.7 609.9h0M98.8 619.0h0M91.4 607.4h0M103.2 617.2h0M97.4 603.9h0M91.3 605.3h0M103.4 616.6h0M90.9 620.3h0M103.7 620.3h0M103.5 610.2h0M94.5 612.3h0M99.3 618.3h0M94.7 608.7h0M88.3 608.6h0M102.6 611.5h0M97.3 623.5h0M90.7 616.0h0M104.5 607.6h0M109.0 611.2h0M87.2 610.8h0M94.1 622.0h0M92.4 609.3h0M87.2 609.2h0M95.5 605.0h0M107.1 606.1h0M88.9 620.7h0M99.5 619.4h0M99.8 610.5h0M103.2 620.0h0M95.2 608.6h0M107.7 610.0h0M100.7 620.1h0M103.4 618.4h0M86.0 613.3h0M89.8 616.4h0M93.7 623.2h0M88.9 614.1h0M102.3 611.4h0M103.5 608.0h0M97.5 622.6h0M100.8 620.0h0M92.6 622.9h0M96.9 623.0h0M105.7 607.8h0M107.0 608.1h0M102.1 609.9h0M104.2 609.3h0M87.0 616.7h0M90.2 622.2h0M92.0 612.3h0M84.9 613.1h0M91.9 610.4h0M101.8 606.3h0M100.3 614.1h0M100.7 611.1h0M95.5 613.3h0M97.5 623.3h0M85.5 613.2h0M97.9 621.9h0M103.0 606.0h0M107.7 615.6h0M101.2 616.5h0M93.2 619.3h0M99.5 614.6h0M91.0 623.2h0M87.1 609.1h0M93.9 608.0h0M109.0 613.1h0M98.4 610.0h0M107.5 615.3h0M101.8 613.3h0M99.6 607.4h0M100.9 610.6h0M91.3 620.1h0M102.6 605.4h0M85.1 619.6h0M91.2 605.9h0M103.0 613.3h0M108.5 606.9h0M89.3 616.4h0M104.3 615.7h0M96.8 617.6h0M94.6 616.0h0M95.9 621.7h0M98.4 608.1h0M97.3 609.1h0M105.9 607.9h0M89.6 622.3h0M106.3 617.9h0M91.1 622.0h0M97.7 606.4h0M85.3 615.2h0M88.6 610.7h0M89.7 621.1h0M95.4 606.1h0M102.2 605.5h0M100.1 615.4h0M89.7 609.9h0M105.1 605.6h0M100.3 604.2h0M99.5 613.1h0M98.3 610.1h0M87.7 615.7h0M84.3 614.1h0M102.6 621.8h0M90.2 620.2h0M106.1 613.3h0M93.4 622.3h0M107.7 616.6h0M97.1 623.2h0M90.5 621.8h0M95.4 603.6h0M102.0 621.1h0M108.2 616.2h0M106.4 619.1h0M87.9 613.4h0M109.0 608.9h0M102.2 620.9h0M105.2 623.6h0M101.3 625.7h0M99.4 626.7h0M98.1 624.1h0M100.3 626.6h0M100.4 627.4h0M103.2 626.9h0M103.7 627.4h0M105.8 621.4h0M99.5 627.0h0M106.6 623.1h0M102.1 621.0h0M106.8 624.9h0M100.4 621.8h0M100.7 623.7h0M100.4 623.6h0M106.5 624.2h0M146.6 615.2h0M124.7 621.7h0M142.6 617.1h0M141.7 625.1h0M137.1 613.9h0M139.9 615.9h0M135.7 623.7h0M124.3 624.1h0M141.5 625.7h0M143.2 620.7h0M136.1 627.7h0M125.0 618.9h0M138.8 613.0h0M142.4 616.2h0M144.1 620.3h0M130.5 626.1h0M125.1 621.9h0M124.4 622.2h0M130.3 622.2h0M146.5 622.0h0M135.3 619.4h0M143.2 624.9h0M139.3 620.3h0M136.0 624.8h0M146.4 618.5h0M131.7 623.8h0M145.9 621.6h0M138.1 614.9h0M142.4 620.7h0M141.8 618.6h0M137.4 614.9h0M131.1 620.2h0M125.9 619.3h0M136.0 626.8h0M140.5 613.4h0M134.1 625.6h0M141.0 615.6h0M132.0 623.9h0M138.1 618.1h0M131.4 620.1h0M132.7 625.7h0M147.2 619.2h0M141.9 624.5h0M125.6 622.2h0M134.3 622.7h0M135.5 613.8h0M133.1 618.6h0M139.9 625.7h0M125.0 623.5h0M134.6 619.1h0M127.7 621.5h0M126.5 625.2h0M131.7 627.1h0M128.3 617.7h0M128.5 625.6h0M136.8 622.4h0M132.3 621.8h0M134.0 620.6h0M125.6 622.9h0M124.3 620.8h0M134.7 614.1h0M139.8 621.2h0M142.5 616.7h0M139.1 617.4h0M128.1 625.0h0M143.1 615.1h0M124.1 623.2h0M142.4 616.6h0M144.8 621.9h0M128.4 618.0h0M135.9 626.0h0M146.0 618.9h0M136.7 620.3h0M141.5 619.6h0M138.8 625.4h0M125.7 622.9h0M138.4 616.6h0M143.5 621.0h0M131.8 620.5h0M136.1 614.2h0M136.3 627.2h0M124.7 622.0h0M130.3 624.0h0M127.8 622.6h0M135.0 626.0h0M128.9 624.3h0M134.9 616.3h0M132.2 617.6h0M142.1 615.5h0M131.0 623.7h0M125.1 617.8h0M132.1 623.8h0M144.8 620.0h0M130.6 622.6h0M148.3 615.9h0M136.2 627.4h0M148.3 620.9h0M128.5 620.2h0M128.2 621.2h0M135.7 616.2h0M140.0 624.1h0M142.5 616.8h0M129.5 616.5h0M140.8 619.2h0M137.3 613.4h0M126.3 626.4h0M141.2 625.8h0M134.5 622.3h0M135.3 626.4h0M130.6 621.5h0M143.2 617.0h0M133.0 615.0h0M148.2 617.9h0M134.2 615.8h0M133.2 618.8h0M127.3 620.2h0M132.6 623.4h0M135.5 624.2h0M131.0 625.2h0M134.9 618.1h0M138.8 619.5h0M145.1 621.6h0M133.0 622.5h0M134.8 624.5h0M138.1 626.1h0M131.0 620.0h0M141.5 620.9h0M136.1 622.0h0M127.6 616.0h0M134.4 621.3h0M141.7 617.7h0M133.1 628.2h0M144.9 616.2h0M138.1 626.7h0M132.8 614.1h0M133.8 624.0h0M129.5 624.3h0M129.3 624.5h0M127.8 620.5h0M144.5 619.7h0M136.5 619.8h0M140.8 624.3h0M126.0 620.4h0M135.0 615.5h0M126.1 624.8h0M130.7 619.1h0M127.0 626.2h0M133.0 623.6h0M127.7 625.1h0M135.1 614.7h0M125.4 618.9h0M133.3 621.7h0M128.0 622.7h0M135.9 619.2h0M140.0 619.8h0M124.6 622.0h0M139.0 619.9h0M136.1 617.7h0M145.7 617.9h0M146.5 616.1h0M129.8 623.9h0M141.3 619.2h0M138.3 614.4h0M145.0 618.0h0M141.2 615.9h0M145.9 614.4h0M141.6 616.2h0M147.9 619.6h0M142.3 619.9h0M142.3 615.8h0M133.3 623.6h0M123.7 619.9h0M127.0 617.4h0M137.3 619.0h0M139.1 622.3h0M135.6 626.2h0M133.9 620.3h0M130.3 625.5h0M128.9 619.2h0M133.0 613.7h0M128.8 624.0h0M130.9 621.3h0M123.8 620.7h0M128.1 615.6h0M144.7 617.5h0M126.5 618.3h0M134.9 622.0h0M137.4 625.6h0M137.5 623.2h0M129.7 627.4h0M135.0 613.4h0M132.9 628.0h0M129.3 616.1h0M148.6 616.7h0M137.5 618.1h0M129.1 619.2h0M147.4 617.9h0M142.0 621.0h0M130.6 627.9h0M135.7 620.8h0M130.2 622.6h0M138.1 625.8h0M140.3 619.1h0M128.0 620.2h0M143.8 618.4h0M139.1 615.0h0M131.2 618.2h0M133.5 623.9h0M144.3 624.9h0M140.0 624.6h0M138.6 613.5h0M124.9 619.2h0M141.2 623.1h0M134.8 621.5h0M140.3 622.4h0M133.7 618.9h0M136.8 621.6h0M126.3 622.0h0M136.9 624.3h0M142.3 621.0h0M135.0 615.7h0M131.2 618.6h0M134.0 614.4h0M135.0 628.2h0M131.2 618.3h0M136.0 622.5h0M146.5 621.2h0M131.3 623.6h0M144.4 623.8h0M139.9 625.6h0M139.9 617.9h0M147.5 616.7h0M133.5 625.5h0M147.1 622.5h0M140.5 616.9h0M135.9 618.9h0M143.6 616.0h0M135.3 624.9h0M126.7 626.9h0M138.0 622.8h0M140.0 615.7h0M146.6 620.1h0M131.0 615.5h0M129.3 616.3h0M124.6 618.6h0M124.7 620.0h0M137.8 618.2h0M140.0 615.5h0M139.3 616.4h0M133.3 617.3h0M137.7 613.3h0M124.6 618.7h0M127.7 620.3h0M131.1 618.6h0M143.0 617.2h0M147.2 621.2h0M145.9 617.3h0M131.9 622.6h0M141.8 624.2h0M136.2 614.7h0M147.1 617.8h0M126.0 623.1h0M130.0 618.8h0M138.5 622.4h0M140.2 618.8h0M143.4 620.6h0M134.0 615.6h0M129.5 615.3h0M145.6 617.8h0M138.5 625.0h0M144.3 624.4h0M135.6 621.9h0M125.6 618.8h0M126.9 626.2h0M136.4 616.6h0M142.4 617.3h0M144.4 623.8h0M126.3 622.6h0M136.0 618.3h0M127.8 618.7h0M148.5 617.7h0M134.7 624.5h0M143.1 623.6h0M142.9 616.1h0M129.3 622.0h0M141.6 615.8h0M128.6 620.3h0M126.3 616.9h0M138.8 620.6h0M127.3 626.0h0M133.8 621.7h0M146.2 618.3h0M125.1 620.3h0M134.2 618.4h0M128.1 619.3h0M125.7 622.9h0M136.7 612.8h0M138.5 614.6h0M148.0 619.0h0M128.2 615.8h0M142.2 616.9h0M131.2 622.2h0M140.9 621.1h0M141.4 625.0h0M140.9 621.9h0M129.5 619.5h0M146.9 615.3h0M146.1 614.7h0M136.3 627.6h0M139.8 620.0h0M126.5 623.5h0M140.5 614.4h0M126.9 624.2h0M145.2 615.5h0M143.6 621.0h0M126.8 625.6h0M129.4 616.8h0M133.4 613.9h0M146.6 619.7h0M132.5 620.9h0M127.7 625.1h0M62.1 626.5h0M52.2 625.4h0M56.5 622.3h0M62.8 629.0h0M52.0 627.0h0M58.9 631.1h0M56.9 625.5h0M58.4 623.1h0M56.8 625.2h0M53.8 630.2h0M59.0 629.1h0M59.4 624.4h0M55.1 624.0h0M59.7 625.1h0M53.2 630.1h0M55.8 628.7h0M62.9 625.4h0M58.5 626.6h0M58.5 628.8h0M61.5 625.8h0M60.5 630.6h0M58.1 626.7h0M57.5 624.0h0M59.4 624.7h0M56.3 631.1h0M55.3 625.4h0M60.1 628.0h0M54.9 623.9h0M53.3 626.0h0M61.5 630.2h0M54.1 629.0h0M53.9 626.5h0M53.2 624.5h0M62.1 629.1h0M57.9 630.7h0M52.9 625.0h0M60.3 623.4h0M57.3 626.3h0M53.8 624.9h0M54.9 627.4h0M55.9 627.7h0M55.8 629.1h0M62.9 628.1h0M62.3 626.7h0M61.2 623.1h0M58.1 626.3h0M52.2 626.6h0M53.0 628.9h0M62.4 626.2h0M58.8 626.0h0M59.3 631.5h0M54.6 627.9h0M52.2 626.3h0M56.3 627.4h0M54.8 623.9h0M58.4 630.0h0M64.1 626.2h0M54.7 625.3h0M61.9 623.5h0M63.3 627.0h0M59.2 628.3h0M61.2 624.2h0M56.1 627.5h0M59.7 629.1h0M54.4 624.1h0M60.3 626.3h0M63.0 629.8h0M62.4 623.8h0M56.1 625.6h0M55.4 624.0h0M57.4 630.3h0M52.0 626.8h0M51.9 627.7h0M54.0 623.7h0M56.4 623.2h0M63.4 626.7h0M57.6 623.2h0M53.0 625.6h0M64.1 627.9h0M56.7 628.1h0M57.6 630.3h0M52.7 627.7h0M55.5 626.2h0M59.3 630.2h0M58.5 623.0h0M62.0 623.3h0M52.9 628.6h0M56.7 630.3h0M52.6 626.5h0M53.7 623.8h0M57.4 629.7h0M61.8 626.0h0M56.0 624.7h0M60.5 625.8h0M60.7 623.3h0M49.1 645.8h0M40.2 645.6h0M43.2 645.5h0M44.0 644.8h0M40.8 646.3h0M39.4 645.8h0M48.9 645.1h0M43.9 647.1h0M47.4 645.6h0M43.3 645.0h0M41.6 646.1h0M49.9 645.5h0M50.3 645.7h0M42.2 644.9h0M39.7 646.7h0M45.8 646.8h0M49.3 645.1h0M48.5 646.7h0M47.6 645.3h0M43.5 645.5h0M40.2 646.6h0M159.2 637.4h0M159.0 635.8h0M160.9 635.1h0M160.8 636.9h0M167.6 639.2h0M167.2 638.7h0M167.1 638.1h0M162.0 636.1h0M161.6 637.0h0M162.2 636.4h0M165.5 638.9h0M158.6 635.2h0M161.1 635.9h0M162.0 636.1h0M162.7 639.1h0M159.5 635.2h0M162.1 639.0h0M159.0 637.1h0M166.8 638.3h0M167.6 638.8h0M165.8 638.8h0M161.5 635.8h0M161.5 638.6h0M162.3 639.0h0M162.9 638.0h0M164.1 638.1h0M164.7 638.1h0M161.5 638.6h0M168.3 638.7h0M158.9 635.0h0M163.4 635.9h0M167.5 639.4h0M164.1 639.6h0M160.8 636.4h0M166.6 638.0h0M158.6 636.1h0M168.5 639.0h0M158.9 637.3h0M161.9 636.2h0M160.2 636.0h0M157.6 635.9h0M171.8 641.2h0M176.3 640.9h0M173.5 642.2h0M171.2 641.5h0M173.8 638.3h0M169.5 640.3h0M169.2 640.3h0M176.7 639.4h0M171.8 640.1h0M173.9 639.8h0M173.3 642.1h0M177.1 640.1h0M171.4 639.3h0M173.0 639.7h0M175.1 641.9h0M174.5 638.3h0M172.8 639.1h0M171.7 640.6h0M174.4 641.6h0M175.7 639.6h0M174.6 639.8h0M172.0 640.2h0M173.0 638.0h0M174.3 639.4h0M173.6 639.4h0M176.6 640.8h0M170.0 640.5h0M172.8 640.4h0M171.7 639.0h0M171.4 640.7h0M176.9 639.7h0M168.6 639.2h0M172.7 639.3h0M175.4 642.0h0M175.2 641.9h0M176.6 640.1h0M173.8 639.3h0M175.1 640.5h0M176.0 642.3h0M170.0 639.7h0M174.9 640.1h0M176.1 640.7h0M169.7 638.3h0M168.3 638.8h0M170.2 641.2h0M172.8 639.8h0M168.3 639.5h0M169.0 639.2h0M171.8 640.9h0M185.2 645.6h0M186.7 645.5h0M181.5 641.7h0M181.7 644.3h0M180.1 641.7h0M186.0 646.2h0M180.6 642.9h0M184.9 645.5h0M186.7 645.4h0M187.5 646.6h0M183.1 645.8h0M183.9 644.5h0M187.2 646.0h0M182.2 642.4h0M179.5 642.0h0M182.5 644.4h0M179.5 641.3h0M182.3 642.0h0M183.4 645.5h0M187.2 646.4h0M179.4 643.9h0M183.5 645.4h0M183.4 644.2h0M186.8 646.3h0M183.7 642.5h0M187.4 645.9h0M177.8 642.0h0M184.8 645.1h0M178.9 642.0h0M183.0 643.3h0M184.6 646.0h0M177.9 641.2h0M180.1 642.7h0M181.3 644.0h0M182.3 642.4h0M186.2 644.7h0M181.5 644.3h0M182.1 642.3h0M182.7 642.4h0M184.2 642.7h0M120.8 586.4h0M122.3 585.3h0M121.1 584.8h0M122.9 585.2h0M120.3 585.0h0M121.7 586.7h0M121.4 585.8h0M121.9 585.5h0M123.2 584.5h0M120.7 584.7h0M73.4 600.4h0M72.9 599.9h0M73.4 599.9h0M75.3 600.3h0M73.2 599.6h0M74.3 600.3h0M74.7 600.9h0M74.4 601.6h0M75.7 600.2h0M75.4 599.9h0M74.2 602.5h0M73.6 599.7h0M75.0 599.5h0M73.7 599.9h0M100.7 629.1h0M101.1 627.9h0M100.1 630.6h0M98.2 631.9h0M95.6 630.4h0M98.0 630.8h0M97.5 631.7h0M96.9 629.1h0M96.0 632.1h0M95.7 630.7h0M102.2 628.8h0M100.0 626.5h0M98.1 628.2h0M102.2 628.6h0M98.0 631.0h0M100.6 626.7h0M94.8 631.4h0M94.0 633.1h0M96.2 630.1h0M101.3 626.0h0M97.7 627.1h0M100.3 626.8h0M97.5 632.1h0M93.3 631.3h0M102.4 626.9h0M97.6 627.1h0M93.7 630.6h0M96.3 629.8h0M99.4 629.1h0M94.4 631.1h0M95.9 632.8h0M98.1 629.3h0M97.6 631.8h0M96.4 628.4h0M95.8 628.3h0M95.4 629.6h0M102.6 626.6h0M96.8 631.9h0M100.4 630.8h0M94.6 631.7h0M98.0 629.2h0M100.1 630.8h0M108.8 628.9h0M108.7 630.9h0M107.5 630.1h0M108.1 627.3h0M112.9 627.5h0M109.4 629.5h0M113.3 629.3h0M106.4 629.3h0M113.0 630.7h0M105.8 629.4h0M113.4 627.7h0M109.4 632.0h0M114.8 628.5h0M114.0 631.7h0M107.1 628.8h0M110.1 629.9h0M109.3 626.8h0M109.8 630.3h0M114.3 629.4h0M107.8 632.1h0M110.5 628.7h0M111.2 627.2h0M108.2 629.3h0M107.6 631.7h0M110.8 630.8h0M110.2 628.0h0M107.0 627.6h0M109.8 629.9h0M105.9 629.4h0M108.1 631.3h0M115.8 629.5h0M106.2 630.5h0M112.0 629.4h0M111.7 632.3h0M108.1 629.0h0M113.7 627.0h0M113.1 627.7h0M108.6 632.1h0M114.0 629.4h0M113.6 627.7h0M112.2 630.4h0M111.2 628.2h0M106.6 628.4h0M111.7 626.9h0M115.8 631.3h0M114.9 629.7h0M114.6 632.5h0M110.9 631.1h0M107.9 628.5h0M109.9 631.8h0M115.9 631.2h0M107.0 632.0h0M110.0 627.2h0M108.2 627.0h0M110.8 630.1h0M108.0 631.5h0M108.4 627.9h0M110.1 629.5h0M109.4 630.4h0M115.5 630.5h0M106.9 630.0h0M111.4 630.0h0M108.3 629.2h0M109.1 630.6h0M116.4 629.6h0M123.8 633.3h0M121.1 633.0h0M124.8 636.9h0M122.6 636.9h0M128.2 637.8h0M122.4 633.0h0M124.0 636.7h0M122.9 636.1h0M122.8 636.0h0M128.6 635.9h0M126.5 636.0h0M129.3 638.5h0M125.3 635.4h0M122.5 633.8h0M127.7 638.4h0M124.4 636.6h0M119.7 633.2h0M122.8 637.7h0M125.1 636.6h0M123.4 636.4h0M129.0 637.9h0M123.9 635.8h0M124.6 637.7h0M127.8 636.7h0M120.3 635.4h0M125.3 635.0h0M122.5 633.1h0M125.3 636.6h0M120.0 634.2h0M128.9 636.6h0M126.3 636.4h0M120.3 634.7h0M129.1 638.8h0M128.3 635.7h0M126.5 639.1h0M121.1 634.1h0M128.1 638.7h0M125.4 636.6h0M125.4 636.7h0M127.1 638.7h0M123.7 637.1h0M121.7 634.0h0M128.9 639.2h0M122.6 634.7h0M120.8 636.0h0M125.3 637.8h0M124.5 633.4h0M123.4 634.2h0M123.6 634.6h0M122.0 636.9h0M119.8 632.9h0M125.6 635.4h0M125.7 637.9h0M122.5 636.2h0M109.1 647.2h0M110.8 648.0h0M112.3 645.0h0M111.6 648.5h0M112.7 648.5h0M109.0 651.5h0M109.9 646.0h0M109.4 652.3h0M111.7 650.9h0M111.5 651.8h0M107.3 648.2h0M112.0 645.7h0M110.0 644.3h0M111.6 651.3h0M110.2 652.1h0M110.9 650.6h0M109.2 647.0h0M109.7 652.7h0M108.8 650.8h0M111.8 652.8h0M112.9 648.8h0M113.1 649.8h0M109.4 642.9h0M111.2 652.7h0M108.4 644.0h0M109.0 652.2h0M111.7 648.9h0M111.0 648.3h0M110.3 652.1h0M107.9 651.5h0M110.3 651.1h0M113.2 644.7h0M107.1 648.8h0M108.0 646.9h0M111.6 652.0h0M112.3 646.9h0M113.0 649.5h0M112.6 649.3h0M110.5 648.4h0M110.2 648.2h0M110.9 646.6h0M108.4 643.6h0M110.3 650.2h0M111.1 650.0h0M108.9 645.4h0M65.5 635.8h0M70.1 636.5h0M67.7 635.8h0M67.4 637.4h0M65.9 637.7h0M63.3 637.0h0M62.2 637.1h0M66.6 636.8h0M67.7 636.7h0M67.3 636.3h0M65.1 636.1h0M68.6 638.2h0M70.2 636.5h0M70.7 636.7h0M68.6 637.4h0M70.5 637.5h0M62.5 636.8h0M68.8 635.9h0M66.1 637.8h0M65.2 637.1h0M62.3 637.1h0M70.0 636.9h0" stroke="#d3d3d3" stroke-width="1.25" stroke-linecap="round" fill="none"/>
<path d="M99.4 650.8h0M75.7 662.2h0M106.7 650.4h0M81.5 657.4h0M45.4 662.5h0M48.3 658.9h0M58.3 676.0h0M66.3 675.9h0M64.7 674.4h0M92.8 607.6h0M106.7 617.6h0M99.4 603.8h0M95.2 622.5h0M92.5 606.2h0M96.0 608.5h0M102.6 614.0h0M85.4 616.0h0M86.8 620.7h0M88.6 618.3h0M93.2 614.5h0M90.2 615.9h0M90.2 622.0h0M88.4 611.9h0M94.1 609.2h0M94.3 613.3h0M88.2 612.1h0M98.1 616.3h0M108.5 615.7h0M105.4 612.7h0M91.3 623.1h0M98.8 615.3h0M102.4 609.5h0M92.6 622.3h0M95.9 618.4h0M100.1 625.3h0M97.5 624.3h0M126.8 623.2h0M41.7 646.2h0M42.7 647.3h0M46.2 645.9h0M42.7 646.1h0M47.8 645.0h0M41.5 646.3h0M48.4 646.2h0M45.1 646.9h0M163.0 636.7h0M161.5 637.4h0M172.2 641.6h0M97.7 626.9h0" stroke="#bab2db" stroke-width="1.25" stroke-linecap="round" fill="none"/>
<path d="M105.4 668.8h0M78.7 663.0h0M79.7 669.1h0M105.4 666.8h0M72.1 657.2h0M75.7 647.5h0M95.5 663.6h0M110.2 663.4h0M110.9 657.2h0M87.5 643.1h0M68.8 652.3h0M101.2 662.4h0M74.8 648.5h0M92.6 656.9h0M92.4 662.9h0M79.5 666.8h0M68.2 661.6h0M89.6 653.9h0M92.8 657.5h0M69.2 662.3h0M71.6 664.2h0M92.4 655.1h0M95.2 647.3h0M83.8 666.4h0M102.1 670.4h0M107.4 652.2h0M106.8 663.1h0M99.8 676.0h0M102.6 673.9h0M80.8 651.5h0M52.5 667.9h0M44.9 668.5h0M64.9 672.8h0M78.7 676.5h0M99.0 615.1h0M95.5 617.2h0M101.6 605.7h0M94.9 603.9h0M110.0 611.9h0M94.5 620.6h0M87.2 610.0h0M94.2 607.5h0M93.7 611.3h0M100.5 604.2h0M93.7 607.0h0M87.0 610.0h0M100.8 611.8h0M106.4 612.2h0M90.6 614.2h0M88.1 620.4h0M108.5 611.3h0M97.1 609.9h0M100.7 610.5h0M100.8 614.6h0M102.8 610.2h0M90.8 614.3h0M100.8 616.9h0M90.6 607.9h0M100.5 619.2h0M88.3 612.9h0M97.5 619.8h0M103.9 620.0h0M108.7 608.7h0M108.3 610.9h0M92.2 609.0h0M108.3 616.4h0M103.3 606.1h0M88.8 615.0h0M93.3 620.3h0M87.0 612.5h0M99.7 608.7h0M103.8 612.5h0M87.7 613.7h0M87.7 619.6h0M96.3 609.0h0M106.7 606.6h0M91.7 611.1h0M88.9 613.7h0M88.8 617.0h0M109.2 614.4h0M101.3 614.1h0M85.4 611.7h0M91.0 612.5h0M94.4 611.6h0M104.4 614.7h0M92.5 612.1h0M94.8 614.6h0M85.1 617.5h0M88.4 615.7h0M94.7 620.1h0M103.6 609.4h0M96.3 605.7h0M92.6 612.0h0M94.8 613.7h0M99.8 612.7h0M107.0 606.9h0M87.3 621.4h0M89.3 606.8h0M97.1 614.8h0M94.4 611.2h0M92.2 612.4h0M93.3 611.0h0M107.8 616.7h0M94.2 621.3h0M97.3 609.0h0M95.9 608.1h0M103.1 612.0h0M88.9 608.7h0M99.9 617.1h0M100.1 604.3h0M100.8 603.6h0M91.1 615.5h0M95.6 616.4h0M87.7 617.1h0M92.9 616.0h0M86.8 611.4h0M97.8 623.1h0M94.4 621.1h0M105.5 608.1h0M96.6 613.9h0M91.0 617.4h0M101.4 604.0h0M91.8 605.0h0M103.5 604.8h0M102.3 613.0h0M99.8 615.5h0M94.5 607.1h0M97.8 621.5h0M93.9 619.1h0M95.4 619.8h0M92.2 620.3h0M99.3 603.1h0M92.4 609.0h0M97.9 618.6h0M91.6 609.6h0M95.2 607.6h0M104.9 617.3h0M105.5 606.8h0M96.4 608.1h0M101.8 619.0h0M93.5 604.2h0M94.0 622.5h0M102.4 627.5h0M98.8 622.7h0M104.5 623.2h0M99.9 625.0h0M105.6 622.9h0M104.2 620.5h0M98.7 626.4h0M104.7 621.7h0M103.3 621.1h0M101.3 620.2h0M104.8 623.9h0M102.7 620.3h0M105.4 621.6h0M98.1 623.8h0M101.3 622.1h0M99.9 624.0h0M99.3 623.8h0M100.1 620.6h0M130.1 614.6h0M136.6 622.1h0M128.3 620.8h0M124.8 625.9h0M130.8 617.0h0M126.5 618.5h0M137.3 622.1h0M44.2 644.8h0M45.8 645.2h0M47.5 646.1h0M41.5 647.2h0M43.7 646.0h0M44.5 647.6h0M41.7 645.0h0M48.8 647.2h0M43.1 647.4h0M49.7 647.0h0M40.9 646.9h0M49.9 645.8h0M46.3 647.4h0M44.3 645.1h0M41.5 645.8h0M44.0 647.6h0M45.3 646.3h0M49.4 646.2h0M42.7 645.6h0M44.2 645.6h0M163.8 638.8h0M166.9 638.0h0M74.4 600.8h0M74.5 599.8h0M96.7 629.6h0M97.8 631.7h0M122.5 637.5h0" stroke="#9f91e3" stroke-width="1.25" stroke-linecap="round" fill="none"/>
<path d="M66.4 653.8h0M100.5 659.0h0M80.5 670.8h0M97.5 646.6h0M90.8 673.6h0M47.3 665.6h0M74.2 671.6h0M54.3 670.8h0M108.5 613.3h0M92.4 614.1h0M102.7 605.9h0M101.8 615.2h0M102.4 614.1h0M106.4 616.6h0M105.1 617.5h0M103.3 619.1h0M95.6 613.2h0M87.9 615.3h0M90.7 620.1h0M104.3 610.6h0M106.3 610.6h0M93.2 605.7h0M94.8 605.0h0M85.8 618.4h0M104.4 606.4h0M99.7 620.1h0M105.6 625.5h0M104.0 620.4h0M137.2 613.8h0M40.7 645.0h0M45.8 644.8h0M45.0 644.5h0M44.1 644.4h0M41.1 645.7h0M42.7 645.9h0" stroke="#8370ea" stroke-width="1.25" stroke-linecap="round" fill="none"/>
<path d="M140.6 662.5h0M142.7 663.8h0M146.4 670.3h0M127.5 652.0h0M148.6 666.1h0M138.2 669.4h0M142.9 665.2h0M158.2 662.5h0M127.0 652.7h0M128.8 650.9h0M157.5 656.7h0M132.3 669.0h0M156.8 669.0h0M137.4 648.5h0M125.4 659.0h0M138.0 658.9h0M143.6 671.5h0M134.7 650.9h0M142.4 650.7h0M130.8 663.7h0M130.7 666.9h0M148.4 657.4h0M143.1 671.0h0M150.4 665.7h0M122.2 659.6h0M125.0 657.9h0M150.2 674.2h0M151.5 669.3h0M137.6 667.9h0M157.6 667.4h0M149.0 659.9h0M153.2 661.2h0M152.2 666.1h0M138.3 669.3h0M122.8 658.8h0M144.9 673.3h0M132.9 649.9h0M138.0 670.7h0M134.7 663.7h0M130.9 656.4h0M136.0 650.7h0M131.7 656.2h0M133.1 666.7h0M147.4 666.8h0M146.0 669.2h0M127.9 656.2h0M161.7 665.5h0M151.3 655.8h0M150.1 672.0h0M128.4 668.4h0M142.6 669.2h0M158.8 661.7h0M126.1 655.4h0M157.7 656.6h0M155.8 670.0h0M148.6 663.6h0M156.9 666.8h0M128.5 667.1h0M148.0 654.8h0M128.0 655.7h0M143.3 656.6h0M129.4 661.0h0M134.7 651.1h0M144.7 660.2h0M138.4 657.9h0M146.5 653.3h0M148.6 663.8h0M156.8 668.2h0M130.6 664.3h0M157.3 663.2h0M157.6 655.3h0M141.5 668.0h0M148.2 653.4h0M131.9 650.6h0M139.6 667.7h0M144.1 659.9h0M149.0 672.4h0M153.6 661.8h0M147.1 662.7h0M154.7 662.1h0M145.1 659.1h0M140.5 650.0h0M145.3 669.1h0M129.1 657.0h0M150.6 651.7h0M162.0 664.5h0M143.5 664.3h0M149.0 664.7h0M127.0 664.1h0M140.2 660.2h0M141.0 672.7h0M152.5 663.2h0M149.9 653.0h0M148.5 661.8h0M147.0 660.4h0M154.3 665.4h0M154.5 657.5h0M138.7 654.2h0M150.2 665.2h0M145.9 665.9h0M155.6 656.5h0M134.0 657.1h0M124.6 661.3h0M137.9 659.6h0M132.0 654.4h0M141.5 654.6h0M126.9 651.9h0M151.0 668.9h0M136.4 650.1h0M135.6 665.6h0M140.0 650.4h0M160.6 664.5h0M139.4 657.5h0M155.1 665.8h0M127.8 664.4h0M143.0 669.3h0M126.6 663.7h0M150.9 656.8h0M129.6 665.1h0M161.3 671.0h0M160.8 663.9h0M156.1 662.9h0M142.1 651.7h0M126.0 660.9h0M134.9 660.6h0M156.3 662.0h0M151.3 656.7h0M135.7 667.5h0M131.1 649.1h0M133.1 659.8h0M126.7 664.4h0M155.2 673.4h0M127.2 651.1h0M142.4 660.5h0M161.3 668.7h0M159.2 660.5h0M155.6 662.6h0M158.5 657.8h0M126.5 666.0h0M136.4 654.6h0M138.3 672.8h0M153.5 657.2h0M145.9 661.2h0M149.2 657.5h0M135.7 655.2h0M137.4 664.5h0M134.9 651.3h0M153.8 659.8h0M153.4 659.8h0M130.4 655.5h0M142.0 649.7h0M151.9 672.5h0M137.5 665.4h0M148.9 666.0h0M135.4 663.5h0M155.8 667.9h0M127.0 664.4h0M127.4 650.4h0M137.5 659.0h0M125.1 665.5h0M131.5 669.1h0M158.9 657.3h0M148.5 669.4h0M130.7 657.4h0M128.9 654.7h0M147.0 658.0h0M146.9 667.6h0M143.0 672.4h0M143.9 662.4h0M137.5 670.9h0M138.5 648.3h0M154.8 659.4h0M149.8 651.7h0M123.1 661.4h0M124.4 664.4h0M138.7 648.6h0M149.6 651.0h0M135.0 659.3h0M143.8 653.8h0M131.7 669.8h0M129.7 661.5h0M127.6 667.6h0M153.6 659.3h0M148.2 674.7h0M143.6 650.3h0M132.8 653.6h0M131.5 651.3h0M130.6 666.3h0M127.3 651.5h0M155.3 658.0h0M139.7 667.4h0M135.3 671.0h0M144.4 665.8h0M136.1 663.9h0M154.6 665.1h0M150.5 664.1h0M149.3 656.1h0M132.1 658.3h0M145.6 668.0h0M143.5 671.7h0M156.9 658.2h0M127.6 662.5h0M154.8 672.4h0M139.3 652.9h0M140.8 667.9h0M152.4 670.3h0M138.4 655.9h0M162.2 669.6h0M152.2 652.1h0M159.3 664.9h0M129.5 659.2h0M151.9 660.2h0M136.4 656.6h0M133.9 666.4h0M150.1 650.8h0M147.3 652.8h0M139.8 657.6h0M160.0 658.7h0M122.4 659.5h0M143.7 670.0h0M147.3 673.9h0M160.1 658.9h0M151.3 652.7h0M140.7 658.0h0M135.9 659.5h0M136.2 650.5h0M139.1 659.8h0M125.5 654.2h0M158.8 667.5h0M130.2 657.2h0M136.8 661.9h0M131.5 667.3h0M159.6 662.8h0M152.3 656.8h0M163.6 662.5h0M153.1 665.1h0M133.8 652.3h0M137.9 651.5h0M125.1 662.2h0M154.4 664.0h0M156.0 662.1h0M155.0 673.6h0M151.8 656.6h0M144.9 661.5h0M153.2 673.3h0M146.1 669.5h0M157.8 656.0h0M149.7 657.2h0M139.0 654.0h0M128.2 667.4h0M142.9 659.2h0M156.5 662.3h0M148.7 666.3h0M130.8 670.0h0M135.4 666.3h0M142.0 669.6h0M153.6 670.7h0M136.8 668.0h0M154.8 671.9h0M162.4 664.1h0M148.0 655.5h0M147.4 671.1h0M127.3 652.8h0M155.0 656.9h0M152.8 665.4h0M152.7 655.4h0M140.2 655.9h0M128.2 667.8h0M133.9 665.9h0M132.0 656.1h0M153.7 655.7h0M132.4 663.4h0M149.4 659.9h0M146.7 664.4h0M138.4 673.5h0M154.1 659.5h0M156.1 669.0h0M130.6 666.4h0M155.9 672.3h0M142.3 672.2h0M129.3 649.2h0M129.9 661.5h0M157.1 671.4h0M132.2 648.6h0M135.7 657.1h0M137.7 668.7h0M140.3 672.7h0M135.2 664.9h0M131.7 668.0h0M141.8 651.3h0M161.1 659.7h0M140.8 656.6h0M146.5 663.7h0M136.3 665.7h0M151.1 659.5h0M142.7 657.7h0M128.9 654.9h0M155.8 653.7h0M150.7 671.0h0M127.4 656.5h0M124.2 652.5h0M144.3 662.7h0M124.9 664.4h0M127.0 659.0h0M144.9 656.5h0M156.2 658.2h0M131.6 657.1h0M159.9 656.7h0M138.4 663.3h0M126.5 665.6h0M151.3 669.4h0M127.1 650.8h0M136.0 659.3h0M146.8 672.9h0M140.3 671.7h0M154.6 658.1h0M143.0 657.7h0M134.2 648.3h0M138.9 655.4h0M123.2 653.7h0M143.8 674.1h0M142.0 668.1h0M134.2 653.0h0M155.8 662.9h0M133.3 667.5h0M154.0 668.3h0M123.4 659.6h0M142.3 672.8h0M153.4 662.1h0M141.3 659.3h0M128.3 652.7h0M142.7 672.8h0M142.2 670.4h0M147.4 674.2h0M141.5 666.2h0M136.5 667.2h0M125.0 663.2h0M131.7 654.3h0M130.0 654.0h0M146.7 663.0h0M137.9 662.1h0M146.6 661.9h0M147.7 656.2h0M139.4 663.7h0M142.3 674.1h0M144.3 654.6h0M156.7 657.6h0M154.0 658.1h0M127.8 657.0h0M147.2 663.8h0M146.8 673.8h0M135.4 667.2h0M152.4 652.5h0M123.0 658.0h0M145.1 658.1h0M145.0 653.9h0M162.2 668.3h0M129.2 652.4h0M134.8 664.7h0M140.7 673.3h0M151.6 672.1h0M157.5 662.9h0M137.2 655.8h0M132.5 661.0h0M131.9 649.1h0M132.9 658.2h0M132.9 659.4h0M138.6 656.5h0M145.2 668.6h0M122.8 656.1h0M133.5 670.6h0M126.7 662.9h0M126.7 661.9h0M162.0 665.3h0M140.3 650.5h0M139.7 648.5h0M160.6 666.3h0M130.0 653.5h0M143.7 653.1h0M148.8 659.5h0M158.4 667.8h0M136.4 650.9h0M148.8 653.8h0M125.0 661.7h0M136.3 661.3h0M132.9 660.8h0M126.0 656.9h0M141.3 664.8h0M143.7 659.7h0M154.8 672.8h0M148.7 671.0h0M149.7 671.6h0M123.8 660.9h0M159.7 660.9h0M156.5 672.3h0M152.3 674.1h0M151.0 664.1h0M136.9 653.7h0M147.8 674.7h0M161.5 660.8h0M137.6 654.1h0M154.8 657.9h0M133.4 654.3h0M136.8 660.6h0M160.7 670.0h0M161.4 659.7h0M132.1 664.5h0M153.1 668.2h0M151.8 662.7h0M142.8 650.9h0M138.9 672.6h0M126.7 650.9h0M144.4 668.4h0M138.0 664.2h0M144.3 651.2h0M141.9 663.6h0M128.9 667.6h0M144.0 659.3h0M131.0 666.1h0M137.9 658.4h0M142.3 656.3h0M148.7 660.6h0M141.3 660.3h0M159.1 664.6h0M154.4 659.1h0M139.3 664.6h0M135.0 665.1h0M155.7 658.4h0M124.2 658.7h0M154.1 673.5h0M145.2 663.3h0M155.8 660.2h0M128.3 660.9h0M142.1 651.7h0M156.8 674.9h0M160.9 672.6h0M152.4 667.4h0M150.8 665.7h0M153.2 665.1h0M158.0 676.3h0M151.4 668.8h0M157.6 677.9h0M149.2 670.7h0M162.7 671.2h0M155.4 672.9h0M149.9 669.9h0M152.9 668.9h0M151.8 674.1h0M160.1 669.7h0M151.6 667.0h0M155.1 672.3h0M156.3 674.7h0M152.4 669.0h0M152.4 666.4h0M151.4 670.3h0M160.6 673.8h0M156.4 669.0h0M155.9 673.9h0M154.4 669.0h0M158.6 678.1h0M159.1 672.7h0M150.0 664.3h0M162.1 675.7h0M153.1 676.5h0M152.3 673.4h0M160.1 676.6h0M150.9 667.9h0M158.5 667.0h0M158.7 669.6h0M158.4 676.4h0M151.3 664.4h0M151.6 675.9h0M156.4 673.5h0M161.7 671.1h0M151.9 676.2h0M159.1 676.4h0M148.2 666.9h0M153.0 670.3h0M154.6 665.5h0M153.3 674.0h0M148.7 670.7h0M152.3 674.6h0M155.3 674.8h0M157.6 675.9h0M151.7 664.0h0M161.6 673.1h0M159.7 675.3h0M152.7 663.9h0M149.4 669.9h0M156.4 669.9h0M149.1 668.6h0M155.9 669.8h0M157.1 676.5h0M155.3 677.6h0M150.8 667.0h0M154.4 677.6h0M150.1 666.7h0M158.4 669.7h0M151.5 670.6h0M150.5 667.6h0M160.0 669.3h0M162.4 670.7h0M159.0 672.8h0M149.6 669.6h0M155.7 666.7h0M158.1 673.9h0M148.0 666.4h0M158.9 676.0h0M155.5 665.5h0M153.9 675.8h0M150.7 670.0h0M155.1 671.2h0M155.5 674.0h0M155.6 669.2h0M160.0 668.7h0M150.0 667.0h0M159.5 677.3h0" stroke="#d3d3d3" stroke-width="1.25" stroke-linecap="round" fill="none"/>
<path d="M154.1 652.1h0M142.7 655.5h0M137.1 648.4h0M134.6 669.8h0M135.6 664.5h0M145.7 665.2h0M147.7 657.8h0M154.7 674.0h0M144.1 653.2h0M122.9 655.4h0M145.5 673.2h0M132.8 669.8h0M142.2 667.3h0M125.0 662.9h0M136.0 658.7h0M155.1 653.2h0M151.0 659.3h0M146.2 668.8h0M135.4 660.8h0M145.8 661.8h0M155.4 669.3h0M126.0 651.8h0M156.6 656.5h0M127.7 664.3h0M137.2 653.5h0M142.5 665.3h0M159.4 667.2h0M139.1 673.8h0M149.7 674.1h0M145.8 655.2h0M137.7 668.3h0M158.0 661.6h0M140.3 661.5h0M140.9 670.2h0M131.0 651.7h0M146.9 655.6h0M138.5 671.9h0M141.0 649.5h0M135.7 670.9h0M132.4 664.4h0M127.2 656.0h0M160.6 661.1h0M161.0 661.5h0M137.2 658.1h0M137.0 672.3h0M148.6 661.6h0M146.2 664.9h0M143.4 648.6h0M143.8 650.0h0M137.5 672.3h0M125.3 655.7h0M128.6 659.9h0M138.4 650.9h0M132.2 657.3h0M145.2 650.8h0M150.6 662.3h0M140.8 651.1h0M153.1 671.8h0M133.3 665.9h0M154.1 657.3h0M140.0 672.1h0M122.3 655.9h0M154.7 672.6h0M142.7 660.9h0M144.8 673.1h0M144.0 661.4h0M144.7 661.2h0M130.0 660.2h0M153.5 665.8h0M128.1 658.9h0M128.5 652.4h0M129.8 665.2h0M152.7 666.2h0M131.3 663.9h0M152.3 676.8h0M158.7 666.0h0M159.2 671.0h0M151.3 669.8h0M156.9 678.0h0M160.4 669.4h0M150.0 668.1h0M158.8 668.6h0M160.0 667.3h0M153.4 675.4h0M154.5 675.6h0M147.1 669.1h0" stroke="#bab2db" stroke-width="1.25" stroke-linecap="round" fill="none"/>
<path d="M160.2 665.3h0M155.5 660.2h0M131.6 661.2h0M158.2 668.4h0M149.2 657.3h0M148.5 653.1h0M151.2 665.6h0M154.1 655.8h0M134.6 655.1h0M156.8 673.2h0M145.7 649.5h0M144.5 662.0h0M153.9 652.7h0M152.0 659.1h0M146.8 649.5h0M149.3 670.4h0M149.6 670.3h0M132.6 664.5h0M144.2 665.4h0M140.9 657.4h0M152.1 658.5h0M136.1 656.9h0M129.9 659.7h0M124.8 660.2h0M142.5 662.4h0M150.8 669.2h0M125.1 655.6h0M137.6 661.1h0M149.0 668.7h0M142.6 648.4h0M161.4 669.1h0M143.8 658.9h0M139.7 656.8h0M144.1 653.0h0M153.8 656.2h0M159.6 670.4h0M132.1 649.2h0M131.1 666.4h0M131.4 657.5h0M131.4 652.0h0M139.6 651.3h0M135.7 657.5h0M151.2 668.2h0M151.0 665.1h0M139.4 656.9h0M146.8 661.7h0M127.8 657.6h0M140.3 653.8h0M146.3 660.3h0M149.2 660.4h0M139.0 655.3h0M139.2 657.0h0M136.5 663.5h0M141.5 673.3h0M162.8 662.0h0M145.2 672.5h0M151.2 662.4h0M140.0 653.4h0M124.9 658.1h0M124.8 652.5h0M151.3 662.8h0M153.8 660.6h0M127.4 660.9h0M150.6 662.3h0M141.1 655.1h0M122.3 659.5h0M149.4 666.1h0M137.8 664.3h0M128.2 661.5h0M146.5 668.9h0M146.6 671.8h0M153.4 664.0h0M135.3 659.4h0M157.9 660.9h0M149.6 664.6h0M131.6 656.1h0M145.0 649.4h0M141.0 657.7h0M136.5 665.6h0M151.8 660.2h0M131.9 668.2h0M152.1 661.7h0M123.1 655.9h0M155.4 669.9h0M129.4 668.1h0M154.8 665.7h0M134.3 651.6h0M136.1 672.8h0M141.0 649.2h0M130.6 670.0h0M147.2 657.1h0M140.6 663.6h0M129.3 665.9h0M139.3 661.6h0M132.0 667.7h0M132.3 651.0h0M157.4 660.1h0M142.9 673.4h0M139.2 656.5h0M133.1 670.3h0M140.1 658.2h0M145.9 674.1h0M153.6 659.5h0M152.0 662.5h0M133.0 666.2h0M123.5 654.0h0M152.0 671.6h0M160.3 676.7h0M154.2 676.0h0M153.7 665.6h0M153.1 670.7h0M155.4 673.2h0M149.4 674.7h0M162.2 670.4h0M160.4 676.7h0M157.8 670.8h0M153.7 676.5h0M150.3 665.1h0M151.8 672.3h0M158.8 677.2h0M156.4 677.3h0M152.2 667.3h0M155.0 668.2h0M160.2 668.8h0M157.9 667.1h0M156.2 675.1h0M147.5 666.3h0M150.4 674.2h0M161.1 674.3h0" stroke="#9f91e3" stroke-width="1.25" stroke-linecap="round" fill="none"/>
<path d="M155.7 670.5h0M137.1 652.7h0M154.7 662.0h0M163.6 664.3h0M162.2 666.2h0M140.7 667.1h0M151.3 663.6h0M133.5 663.8h0M133.0 668.0h0M151.1 664.2h0M159.5 671.9h0M132.7 664.9h0M145.2 659.8h0M132.5 670.1h0M135.7 648.7h0M141.9 666.2h0M150.5 650.4h0M130.2 669.1h0M136.6 659.0h0M147.9 666.2h0M129.9 668.9h0M161.9 668.4h0M130.0 662.4h0M156.5 666.8h0M139.7 656.3h0M161.1 670.1h0M131.2 656.3h0M131.8 650.9h0M148.8 655.6h0M130.4 668.6h0M161.3 662.1h0M126.7 651.9h0M161.0 664.3h0M139.4 656.0h0M141.4 668.9h0M126.7 662.9h0M144.9 667.3h0M133.0 670.4h0M155.5 667.6h0M152.5 654.5h0M154.7 674.2h0M127.8 656.0h0M147.4 672.5h0M143.1 672.4h0M127.1 658.3h0M154.3 654.7h0M148.6 657.2h0M133.5 660.2h0M156.9 656.2h0M138.7 667.7h0M152.9 672.0h0M130.9 660.4h0M132.6 661.1h0M125.4 654.4h0M139.5 667.2h0M124.5 653.9h0M153.5 658.1h0M162.1 662.8h0M146.8 650.5h0M140.4 653.7h0M128.0 661.9h0M137.0 657.8h0M144.7 674.2h0M132.1 651.3h0M141.7 665.2h0M149.9 668.4h0M153.1 659.6h0M150.8 666.9h0M154.7 672.7h0M128.3 654.2h0M143.6 673.5h0M134.7 656.4h0M163.7 664.1h0M150.8 664.8h0M148.1 653.3h0M139.0 673.8h0M138.4 669.2h0M130.8 654.4h0M156.9 668.7h0M146.8 649.9h0M144.4 654.7h0M155.3 665.1h0M160.2 657.9h0M132.9 662.7h0M157.7 656.1h0M140.1 650.0h0M133.1 664.1h0M130.7 666.6h0M124.7 654.3h0M161.1 668.2h0M138.9 655.0h0M155.1 663.1h0M154.3 661.2h0M131.5 664.6h0M132.6 668.1h0M145.5 663.6h0M150.1 653.2h0M136.1 653.0h0M135.0 653.6h0M156.0 658.5h0M146.8 658.4h0M152.8 652.5h0M155.8 672.6h0M142.1 662.8h0M145.5 667.2h0M151.2 668.4h0M123.7 663.4h0M134.3 667.0h0M141.9 665.3h0M142.5 656.9h0M144.4 658.6h0M143.4 650.4h0M157.2 658.2h0M130.1 668.9h0M157.7 656.7h0M129.5 669.2h0M128.6 662.9h0M155.4 652.9h0M148.8 662.8h0M129.0 661.7h0M145.2 649.1h0M135.2 670.1h0M144.2 661.7h0M158.2 670.0h0M155.8 668.7h0M149.4 671.0h0M151.4 665.5h0M155.2 671.6h0M156.6 674.8h0M160.5 674.4h0M152.4 666.2h0M157.7 668.6h0M151.7 672.2h0M152.2 670.9h0M154.6 668.0h0M160.6 675.1h0M153.1 674.5h0M155.4 669.7h0M154.9 674.9h0M155.5 668.2h0M159.6 666.9h0" stroke="#8370ea" stroke-width="1.25" stroke-linecap="round" fill="none"/>
<path d="M147.1 650.8h0M131.9 651.6h0M141.9 665.6h0M145.8 660.8h0M126.7 661.0h0M132.6 652.5h0M132.7 652.2h0M132.2 649.3h0M124.0 663.2h0M148.7 675.2h0M142.5 655.3h0M137.4 661.9h0M143.3 668.8h0M134.2 666.9h0M136.0 656.4h0M150.5 650.8h0M145.7 662.0h0M132.1 651.2h0M127.3 657.6h0M161.0 661.4h0M130.1 656.8h0M157.3 673.5h0M149.1 672.8h0M145.0 662.3h0M155.0 668.0h0M151.2 665.6h0M156.9 660.0h0M138.3 656.6h0M160.3 660.3h0M123.1 656.6h0M140.1 651.8h0M143.7 672.7h0M131.4 652.5h0M141.9 673.5h0M144.2 654.3h0M122.9 655.4h0M158.2 666.0h0M144.6 662.6h0M140.2 666.5h0M135.9 664.6h0M127.3 654.5h0M157.4 657.5h0M161.1 668.0h0M156.4 667.6h0M163.1 667.3h0M149.7 672.3h0M150.3 655.3h0M144.4 663.5h0M131.7 660.5h0M137.5 662.5h0M142.3 658.9h0M152.0 666.5h0M129.8 664.6h0M147.9 670.6h0M158.4 668.0h0M147.9 663.5h0M133.4 652.3h0M157.5 667.8h0M132.2 654.5h0M135.4 658.0h0M160.1 658.1h0M135.4 655.3h0M127.9 659.7h0M132.0 663.1h0M147.5 666.0h0M136.0 655.9h0M144.2 665.2h0M128.0 660.8h0M139.0 654.7h0M126.5 666.9h0M153.6 657.7h0M151.3 661.6h0M122.8 661.8h0M132.6 664.9h0M145.1 651.8h0M131.8 658.0h0M135.0 659.7h0M153.2 657.5h0M150.9 655.9h0M142.7 663.3h0M150.4 661.3h0M140.8 661.9h0M155.0 664.5h0M145.2 672.9h0M149.9 657.4h0M139.1 652.3h0M139.5 659.4h0M131.5 660.5h0M161.8 663.5h0M152.4 666.8h0M154.0 673.9h0M142.8 656.5h0M128.5 658.5h0M145.6 659.5h0M144.2 654.5h0M146.9 665.0h0M132.9 663.6h0M158.2 661.7h0M153.0 657.0h0M130.3 659.0h0M161.4 666.6h0M148.3 652.7h0M145.2 657.7h0M131.1 662.5h0M130.3 668.2h0M131.7 651.3h0M139.4 654.8h0M139.9 669.2h0M128.2 667.7h0M144.2 663.6h0M157.6 664.5h0M154.6 661.9h0M127.8 663.8h0M141.0 664.3h0M148.7 662.0h0M144.2 657.6h0M123.1 656.5h0M160.0 669.9h0M157.1 658.0h0M147.5 670.1h0M161.0 669.5h0M132.2 657.9h0M141.4 674.4h0M126.0 654.0h0M137.8 664.7h0M148.3 667.5h0M149.6 655.8h0M150.0 670.4h0M133.2 660.7h0M132.2 666.8h0M153.1 676.7h0M152.1 674.0h0M153.9 664.6h0M158.0 672.7h0M156.5 669.0h0M159.7 667.9h0M155.9 672.8h0M159.3 669.2h0M153.8 666.7h0M152.3 666.3h0M158.4 672.9h0M152.0 664.3h0M157.6 665.6h0M160.5 675.5h0M160.3 666.9h0M157.3 671.8h0M156.2 665.4h0M150.9 667.8h0" stroke="#644ff2" stroke-width="1.25" stroke-linecap="round" fill="none"/>
<path d="M123.7 655.4h0M156.1 658.8h0M128.6 663.9h0M127.6 655.2h0M128.0 663.4h0M130.4 654.6h0M158.8 670.0h0M127.9 657.4h0M163.3 665.7h0M144.3 649.1h0M158.5 658.6h0M152.7 656.0h0M147.4 668.5h0M162.3 667.3h0M162.4 667.1h0M136.8 668.0h0M133.6 658.3h0M136.2 662.9h0M159.6 658.8h0M137.7 665.1h0M147.8 673.9h0M145.0 662.4h0M132.6 649.7h0M149.0 660.5h0M133.6 656.3h0M129.3 657.7h0M146.7 652.4h0M139.5 665.1h0M154.0 667.8h0M147.6 651.2h0M150.9 672.7h0M156.1 657.3h0M156.8 661.7h0M150.4 674.8h0M144.4 663.7h0M161.4 670.5h0M150.2 674.2h0M142.1 668.4h0M155.6 673.1h0M142.6 667.0h0M144.0 662.2h0M151.1 666.5h0M154.7 653.8h0M127.8 650.1h0M127.5 654.0h0M136.9 659.9h0M147.8 651.4h0M150.9 658.4h0M148.1 654.1h0M145.4 655.8h0M152.0 651.5h0M135.7 656.7h0M136.6 664.1h0M133.1 653.5h0M147.3 650.4h0M145.1 653.5h0M146.1 649.8h0M140.7 659.3h0M125.2 651.7h0M142.7 650.0h0M135.2 664.6h0M136.2 668.9h0M136.2 667.2h0M131.0 650.3h0M152.5 670.1h0M130.3 650.2h0M129.9 663.1h0M146.9 674.8h0M125.5 653.7h0M134.9 648.4h0M124.5 656.4h0M133.8 664.8h0M146.1 652.3h0M134.4 666.2h0M162.7 660.1h0M124.3 657.8h0M154.5 655.9h0M138.4 654.3h0M136.5 669.6h0M156.9 670.9h0M130.3 666.2h0M136.0 669.0h0M129.3 662.4h0M137.6 655.1h0M146.0 667.5h0M160.6 669.2h0M131.6 668.5h0M155.6 668.9h0M131.8 655.0h0M134.7 659.5h0M145.7 661.1h0M142.7 648.2h0M140.0 655.3h0M138.0 658.3h0M140.4 659.5h0M136.8 662.5h0M158.6 663.1h0M152.0 651.0h0M132.1 670.8h0M160.3 664.9h0M156.2 654.3h0M152.5 665.0h0M136.1 665.8h0M146.2 653.9h0M146.9 665.6h0M143.3 663.7h0M135.9 655.0h0M137.1 651.4h0M153.7 665.1h0M136.4 655.9h0M162.0 659.4h0M142.3 673.3h0M150.6 653.5h0M139.0 665.4h0M146.2 654.0h0M151.5 662.1h0M128.0 655.5h0M136.2 670.1h0M141.4 674.0h0M137.9 662.6h0M151.0 672.6h0M150.8 666.4h0M153.7 668.1h0M158.8 675.0h0M150.2 666.6h0M156.7 669.6h0M156.7 670.2h0M153.0 670.5h0M153.7 676.1h0M158.4 667.4h0M156.9 669.7h0M160.1 669.9h0M154.7 677.8h0M155.0 665.3h0M149.9 672.2h0" stroke="#412df8" stroke-width="1.25" stroke-linecap="round" fill="none"/>
<path d="M160.9 665.4h0M129.8 658.3h0M124.4 660.0h0M131.7 655.6h0M143.7 649.9h0M124.6 660.3h0M144.0 654.5h0M159.6 662.8h0M148.3 662.7h0M148.7 661.6h0M136.6 667.6h0M161.6 666.3h0M131.2 659.1h0M129.8 661.5h0M150.9 672.0h0M151.3 671.2h0M156.7 662.6h0M149.2 665.0h0M138.9 654.6h0M135.8 670.3h0M142.8 655.0h0M150.8 652.9h0M133.5 655.2h0M130.5 664.0h0M156.3 664.5h0M155.7 669.0h0M147.1 656.3h0M152.0 670.7h0M139.7 658.8h0M133.7 653.6h0M132.8 662.5h0M123.0 656.0h0M145.6 663.4h0M129.6 652.8h0M139.9 655.2h0M153.2 657.8h0M137.4 653.4h0M139.9 658.4h0M143.3 670.5h0M134.0 669.5h0M142.2 663.0h0M132.7 658.9h0M122.6 656.1h0M155.9 673.9h0M151.9 657.0h0M126.8 653.5h0M142.4 649.3h0M162.4 667.4h0M124.6 657.3h0M155.6 653.3h0M153.4 666.5h0M146.2 655.7h0M133.7 659.3h0M146.7 651.1h0M155.9 660.5h0M157.4 671.4h0M127.2 658.0h0M140.1 673.8h0M163.0 661.1h0M134.5 667.1h0M149.8 666.4h0M147.7 661.7h0M149.7 664.9h0M146.7 669.1h0M159.4 677.3h0M155.3 670.7h0M150.1 667.7h0M163.4 673.9h0M153.0 666.7h0M153.3 673.3h0M152.0 668.6h0M150.6 674.8h0" stroke="#0000ff" stroke-width="1.25" stroke-linecap="round" fill="none"/>
<path d="M249.9 577V686H418.5" fill="none" stroke="#000" stroke-width="0.8"/>
<path d="M249.2 599h1.8" stroke="#000" stroke-width="0.8"/>
<text x="248.9" y="602.0" font-size="8.4" text-anchor="end" fill="#000" >40</text>
<path d="M249.2 622h1.8" stroke="#000" stroke-width="0.8"/>
<text x="248.9" y="625.0" font-size="8.4" text-anchor="end" fill="#000" >20</text>
<path d="M249.2 645h1.8" stroke="#000" stroke-width="0.8"/>
<text x="248.9" y="648.0" font-size="8.4" text-anchor="end" fill="#000" >0</text>
<path d="M249.2 667.5h1.8" stroke="#000" stroke-width="0.8"/>
<text x="248.9" y="670.5" font-size="8.4" text-anchor="end" fill="#000" >−20</text>
<path d="M281.5 686v2.5" stroke="#000" stroke-width="0.8"/>
<text x="281.5" y="695.3" font-size="8.4" text-anchor="middle" fill="#000" >−25</text>
<path d="M325.5 686v2.5" stroke="#000" stroke-width="0.8"/>
<text x="325.5" y="695.3" font-size="8.4" text-anchor="middle" fill="#000" >0</text>
<path d="M369.5 686v2.5" stroke="#000" stroke-width="0.8"/>
<text x="369.5" y="695.3" font-size="8.4" text-anchor="middle" fill="#000" >25</text>
<path d="M413.5 686v2.5" stroke="#000" stroke-width="0.8"/>
<text x="413.5" y="695.3" font-size="8.4" text-anchor="middle" fill="#000" >50</text>
<text x="336.3" y="706.2" font-size="9.6" text-anchor="middle" fill="#000" >tSNE_1</text>
<text x="231.1" y="628.8" font-size="9.6" text-anchor="middle" fill="#000" transform="rotate(-90 231.1 628.8)" >tSNE_2</text>
<text x="337.8" y="566.7" font-size="12.6" text-anchor="middle" fill="#000" font-weight="bold" >Lrg1</text>
<defs><linearGradient id="gLrg1" x1="0" y1="0" x2="0" y2="1"><stop offset="0" stop-color="#0000ff"/><stop offset="0.25" stop-color="#533ef5"/><stop offset="0.5" stop-color="#8370ea"/><stop offset="0.75" stop-color="#ada2df"/><stop offset="1" stop-color="#d3d3d3"/></linearGradient></defs>
<rect x="417.1" y="610.5" width="9.5" height="46.5" fill="url(#gLrg1)"/>
<text x="430.7" y="613.5" font-size="8.3" text-anchor="start" fill="#000" >4</text>
<text x="430.7" y="625.1" font-size="8.3" text-anchor="start" fill="#000" >3</text>
<text x="430.7" y="636.7" font-size="8.3" text-anchor="start" fill="#000" >2</text>
<text x="430.7" y="648.3" font-size="8.3" text-anchor="start" fill="#000" >1</text>
<text x="430.7" y="659.9" font-size="8.3" text-anchor="start" fill="#000" >0</text>
<path d="M307.3 661.9h0M316.0 658.8h0M319.6 667.1h0M329.7 652.8h0M304.8 654.1h0M311.4 649.4h0M321.2 652.3h0M288.4 645.8h0M319.6 660.0h0M315.6 654.0h0M309.7 646.8h0M306.8 648.0h0M317.3 645.0h0M291.9 644.1h0M308.7 658.1h0M323.6 654.1h0M290.3 662.9h0M318.1 666.6h0M293.3 665.6h0M326.7 657.4h0M290.8 648.7h0M294.8 658.2h0M316.6 665.1h0M304.7 653.8h0M306.5 651.4h0M304.6 660.7h0M318.1 651.7h0M312.1 645.4h0M286.8 649.2h0M302.9 640.7h0M288.2 650.5h0M302.2 649.0h0M290.2 655.8h0M323.8 654.2h0M294.0 660.4h0M293.8 648.0h0M319.0 664.3h0M298.5 652.8h0M300.9 653.7h0M322.2 650.3h0M310.3 669.8h0M323.3 646.2h0M298.6 652.5h0M322.5 663.1h0M292.1 665.4h0M324.5 658.2h0M287.5 646.2h0M298.2 651.7h0M327.7 661.2h0M294.7 660.7h0M301.2 646.4h0M303.2 656.3h0M302.6 656.8h0M316.3 651.8h0M307.6 651.8h0M298.9 648.2h0M308.6 641.1h0M325.7 653.8h0M304.8 655.9h0M320.5 659.0h0M307.8 650.8h0M319.2 657.2h0M319.7 667.4h0M324.9 664.8h0M315.8 655.5h0M308.7 658.1h0M307.3 665.1h0M318.7 660.6h0M310.4 668.3h0M286.6 651.8h0M299.8 668.0h0M291.6 655.2h0M289.9 660.7h0M306.0 662.4h0M296.9 665.6h0M316.8 668.3h0M321.3 650.6h0M287.1 659.0h0M320.1 644.0h0M327.6 659.2h0M285.9 651.8h0M301.6 642.7h0M290.2 651.4h0M296.2 659.1h0M303.4 654.1h0M304.1 657.9h0M295.9 646.1h0M305.0 659.5h0M313.1 651.7h0M293.0 660.5h0M296.3 646.1h0M319.2 669.2h0M298.1 642.1h0M317.7 656.1h0M317.9 665.1h0M308.9 648.8h0M308.0 660.5h0M298.7 658.5h0M295.2 645.5h0M322.4 667.3h0M312.4 643.3h0M316.9 667.0h0M286.1 659.5h0M305.3 667.1h0M330.6 657.1h0M315.0 661.6h0M317.1 652.8h0M315.8 643.6h0M325.2 664.8h0M321.7 656.4h0M294.0 652.1h0M315.7 658.1h0M303.8 647.3h0M295.9 645.4h0M302.8 660.7h0M326.0 663.5h0M311.6 663.1h0M313.4 651.9h0M301.8 641.7h0M317.0 643.3h0M314.2 668.9h0M314.9 659.8h0M307.6 640.8h0M312.2 660.4h0M323.9 661.2h0M322.4 661.4h0M329.7 661.4h0M322.8 665.9h0M330.5 657.6h0M326.4 655.0h0M303.5 648.1h0M318.1 644.8h0M298.9 651.1h0M289.6 656.0h0M302.7 664.0h0M293.2 654.4h0M296.6 666.0h0M297.8 653.8h0M309.6 648.7h0M310.9 642.8h0M301.4 648.1h0M321.1 665.6h0M316.4 659.6h0M323.6 665.1h0M317.6 667.2h0M291.3 655.3h0M312.8 659.4h0M308.9 648.7h0M330.4 655.2h0M286.8 657.7h0M297.5 645.6h0M297.9 657.4h0M298.4 659.2h0M294.7 663.5h0M288.1 655.2h0M317.5 657.7h0M322.3 657.5h0M307.0 641.1h0M306.9 668.3h0M317.4 645.3h0M316.9 662.9h0M298.4 662.5h0M311.5 653.4h0M309.6 649.0h0M296.0 665.7h0M299.4 662.6h0M302.6 645.4h0M313.5 643.1h0M312.2 659.9h0M329.6 652.4h0M296.3 645.5h0M307.5 653.1h0M299.5 668.0h0M297.5 664.0h0M310.7 643.9h0M285.1 655.7h0M318.0 648.9h0M314.8 666.6h0M319.1 649.4h0M311.3 642.4h0M299.7 666.8h0M288.2 646.6h0M302.4 642.1h0M302.0 645.8h0M303.9 658.5h0M316.5 644.5h0M311.0 642.5h0M303.5 664.3h0M295.1 663.5h0M296.0 650.7h0M309.9 656.9h0M315.6 670.2h0M317.7 648.6h0M293.6 653.0h0M297.1 655.7h0M287.6 658.6h0M305.5 641.6h0M300.3 669.2h0M291.2 660.1h0M312.5 655.5h0M289.0 657.2h0M311.3 660.4h0M320.1 667.2h0M291.4 647.3h0M291.0 652.9h0M314.7 665.9h0M305.2 667.7h0M321.7 667.5h0M322.9 649.1h0M302.2 641.3h0M319.9 656.4h0M302.8 665.9h0M296.4 657.5h0M286.5 657.9h0M328.5 658.6h0M290.7 655.2h0M287.4 651.5h0M288.3 650.3h0M321.3 664.7h0M324.1 656.5h0M306.6 641.9h0M320.7 659.5h0M304.7 644.4h0M307.4 642.2h0M305.5 644.2h0M322.3 660.9h0M324.4 659.5h0M292.6 646.6h0M322.9 660.2h0M313.8 660.4h0M302.9 665.3h0M310.6 653.2h0M284.6 654.6h0M295.2 657.2h0M325.6 665.5h0M296.8 657.2h0M296.6 661.8h0M294.7 664.9h0M314.2 668.3h0M298.4 668.0h0M312.3 648.8h0M315.1 650.8h0M313.7 648.6h0M287.7 661.1h0M289.8 660.7h0M297.5 650.0h0M310.5 669.1h0M312.9 658.7h0M299.8 650.8h0M311.8 648.4h0M312.6 667.2h0M286.1 648.5h0M303.0 665.4h0M309.6 656.3h0M312.2 657.8h0M315.6 658.4h0M311.1 648.0h0M290.2 651.2h0M297.6 656.4h0M308.5 654.3h0M291.3 662.0h0M289.3 644.7h0M298.4 645.2h0M310.0 645.9h0M313.7 659.4h0M313.4 655.7h0M313.6 650.2h0M305.0 660.9h0M293.3 660.6h0M309.5 670.2h0M312.7 657.7h0M320.9 651.0h0M301.9 652.7h0M317.5 663.5h0M330.0 658.5h0M303.9 642.5h0M284.7 655.1h0M317.2 660.4h0M318.3 660.2h0M313.5 657.8h0M315.0 658.4h0M287.7 658.0h0M317.3 654.7h0M329.5 658.0h0M291.9 653.7h0M302.3 644.6h0M318.8 647.1h0M306.2 670.4h0M326.7 656.6h0M314.1 655.2h0M292.5 649.0h0M303.2 666.1h0M289.4 654.1h0M306.0 656.9h0M320.7 660.4h0M297.4 667.9h0M313.1 649.4h0M308.2 666.7h0M285.8 656.9h0M307.8 649.1h0M292.8 645.3h0M304.9 652.8h0M313.2 649.3h0M313.2 655.5h0M320.0 666.5h0M310.3 650.9h0M295.2 660.2h0M303.8 660.5h0M294.6 664.6h0M295.0 665.0h0M305.0 652.2h0M311.0 656.7h0M309.5 657.6h0M323.3 650.9h0M305.8 665.7h0M298.9 654.0h0M328.7 663.0h0M323.6 660.5h0M325.9 663.3h0M295.9 650.0h0M308.2 643.8h0M327.3 657.8h0M293.6 653.3h0M322.7 650.8h0M313.3 643.9h0M296.8 644.5h0M307.0 661.1h0M294.0 659.3h0M310.5 663.5h0M330.8 657.4h0M309.3 646.0h0M287.6 657.1h0M288.0 654.0h0M294.3 646.5h0M320.2 655.7h0M304.8 656.3h0M315.5 666.9h0M321.8 649.9h0M322.2 645.6h0M290.2 653.3h0M292.6 655.3h0M295.6 667.3h0M303.1 664.4h0M328.4 657.0h0M320.0 657.0h0M304.4 643.7h0M313.1 669.1h0M317.0 651.3h0M309.3 651.4h0M301.3 662.9h0M284.6 651.7h0M309.5 645.1h0M319.3 649.7h0M304.1 647.4h0M312.3 654.1h0M316.4 654.5h0M320.5 658.9h0M289.1 652.7h0M296.8 647.9h0M328.4 657.8h0M320.1 646.8h0M315.1 645.0h0M296.1 642.6h0M329.7 654.6h0M317.0 643.1h0M293.9 662.0h0M321.0 649.3h0M306.6 664.5h0M312.2 656.9h0M292.9 654.2h0M312.1 654.9h0M313.6 658.3h0M314.6 653.8h0M323.3 658.7h0M321.6 665.7h0M316.1 658.3h0M297.4 642.0h0M316.0 649.1h0M312.5 657.7h0M312.8 654.1h0M296.2 648.0h0M315.0 668.2h0M299.8 648.8h0M305.4 653.1h0M312.6 664.0h0M318.7 666.4h0M305.3 653.6h0M315.3 651.0h0M323.2 655.2h0M310.1 656.5h0M297.3 653.3h0M322.0 650.9h0M288.3 646.7h0M327.2 663.5h0M321.2 667.5h0M292.5 653.5h0M289.1 649.2h0M306.0 664.9h0M297.0 659.1h0M291.8 645.9h0M286.6 655.0h0M310.6 662.4h0M301.9 668.0h0M317.6 659.0h0M326.2 648.4h0M297.6 655.7h0M310.2 669.7h0M317.7 643.2h0M328.3 657.4h0M292.7 661.4h0M312.0 666.9h0M310.9 648.6h0M306.3 654.3h0M300.3 656.9h0M292.2 645.9h0M307.7 662.7h0M301.3 666.8h0M295.9 666.0h0M299.0 664.8h0M317.4 647.1h0M319.7 646.8h0M302.7 651.1h0M300.4 650.3h0M292.1 650.3h0M299.8 660.8h0M302.2 669.1h0M324.3 664.1h0M327.9 655.7h0M313.6 643.3h0M301.9 649.5h0M321.1 644.5h0M304.0 654.5h0M322.9 661.7h0M290.4 658.1h0M294.7 657.2h0M301.6 668.5h0M306.1 648.4h0M296.8 667.9h0M301.5 646.9h0M308.4 660.8h0M298.6 661.0h0M306.5 661.1h0M317.3 644.5h0M299.7 644.8h0M299.2 642.6h0M285.3 653.1h0M320.9 647.1h0M287.7 659.6h0M307.9 649.4h0M320.7 657.5h0M309.1 651.9h0M301.0 664.5h0M289.4 650.9h0M310.8 645.5h0M308.6 662.7h0M312.3 655.5h0M291.6 657.6h0M304.1 660.4h0M288.4 660.8h0M307.4 649.0h0M320.5 658.0h0M298.2 650.9h0M324.9 659.3h0M327.9 659.6h0M317.6 644.9h0M304.1 658.4h0M302.6 659.4h0M299.6 659.1h0M294.0 653.3h0M304.0 655.8h0M318.9 647.0h0M304.3 670.0h0M311.6 663.2h0M302.7 651.7h0M309.2 662.8h0M324.3 658.1h0M318.2 644.3h0M313.1 669.3h0M312.9 656.0h0M308.4 653.0h0M293.8 644.4h0M321.1 657.9h0M285.5 655.9h0M322.3 662.2h0M292.7 653.7h0M307.0 645.3h0M298.0 644.7h0M313.6 661.4h0M304.1 653.7h0M326.8 662.7h0M304.9 662.6h0M319.5 651.4h0M286.5 659.6h0M318.6 660.1h0M288.7 660.3h0M291.1 662.2h0M312.6 660.4h0M288.3 648.7h0M320.0 645.5h0M286.4 649.9h0M323.4 661.7h0M296.7 641.3h0M321.7 667.9h0M318.1 648.1h0M293.0 648.0h0M290.7 660.2h0M320.7 650.3h0M312.3 643.6h0M318.1 661.5h0M321.8 665.4h0M305.6 669.7h0M305.9 653.6h0M312.7 665.0h0M309.7 669.2h0M295.2 665.8h0M325.7 653.4h0M285.1 655.4h0M311.2 669.9h0M309.3 662.5h0M321.0 647.3h0M315.5 654.8h0M295.2 647.0h0M300.1 661.6h0M310.7 650.5h0M317.9 667.2h0M297.5 653.0h0M296.7 663.8h0M307.1 641.8h0M285.1 655.6h0M312.2 657.4h0M309.4 649.8h0M296.1 643.5h0M307.3 651.4h0M310.8 661.2h0M295.2 661.2h0M293.3 656.4h0M317.2 665.9h0M307.2 667.9h0M301.9 647.6h0M314.9 645.3h0M315.0 653.1h0M309.6 651.0h0M301.0 641.0h0M330.3 655.1h0M320.5 655.9h0M305.6 659.7h0M299.2 659.7h0M310.6 643.6h0M320.4 657.5h0M320.1 661.3h0M312.0 646.2h0M305.2 648.8h0M321.2 645.9h0M294.1 656.5h0M311.9 653.1h0M302.0 643.8h0M317.1 653.0h0M310.9 665.6h0M288.1 650.4h0M298.8 667.4h0M307.6 640.8h0M310.0 642.8h0M290.6 653.4h0M310.5 647.2h0M312.2 650.4h0M318.8 643.5h0M323.6 656.2h0M293.1 647.1h0M315.1 644.3h0M327.9 649.9h0M305.1 642.2h0M303.5 668.9h0M294.3 643.9h0M309.1 660.0h0M292.1 644.8h0M313.4 648.4h0M323.4 667.0h0M325.2 649.3h0M298.2 657.2h0M311.1 647.9h0M297.1 641.4h0M286.6 655.0h0M328.7 662.2h0M301.8 648.9h0M285.2 650.8h0M307.8 647.4h0M306.2 664.5h0M299.6 662.1h0M321.0 652.9h0M319.3 652.7h0M292.6 651.0h0M288.6 659.5h0M321.5 660.4h0M325.6 664.9h0M315.5 663.9h0M314.6 669.2h0M311.2 660.9h0M309.7 656.8h0M328.9 652.4h0M293.1 653.5h0M297.8 660.6h0M293.5 657.1h0M301.9 660.2h0M307.7 643.8h0M288.0 656.3h0M312.3 659.6h0M307.7 655.7h0M303.2 664.4h0M314.0 665.7h0M295.2 645.7h0M294.8 653.3h0M324.7 664.7h0M309.9 667.8h0M311.8 663.8h0M298.7 648.4h0M325.2 666.8h0M312.4 663.4h0M298.9 642.2h0M293.3 646.2h0M311.5 650.7h0M314.8 666.1h0M289.9 653.4h0M330.4 654.5h0M307.8 665.0h0M319.3 664.3h0M300.2 654.2h0M287.5 656.9h0M293.2 652.3h0M320.7 659.3h0M316.8 643.2h0M293.1 656.1h0M319.7 644.8h0M289.2 647.3h0M304.2 650.0h0M312.4 669.9h0M312.0 668.8h0M289.7 656.5h0M299.8 664.9h0M311.6 659.5h0M290.9 651.3h0M287.9 654.6h0M293.8 659.6h0M296.6 654.6h0M319.2 645.5h0M314.7 645.3h0M310.6 643.6h0M297.6 652.6h0M308.9 660.4h0M328.1 653.4h0M301.7 645.9h0M319.1 653.1h0M295.4 644.5h0M302.4 665.0h0M303.3 664.4h0M305.8 657.7h0M296.5 651.2h0M319.7 644.6h0M306.4 647.9h0M298.4 649.3h0M293.1 655.8h0M297.8 644.5h0M322.3 663.2h0M293.7 647.9h0M306.5 665.5h0M321.6 668.4h0M294.8 648.2h0M290.9 663.7h0M289.7 651.2h0M295.6 646.1h0M319.1 652.7h0M315.0 648.3h0M286.3 653.9h0M305.4 666.2h0M314.7 642.5h0M320.3 664.6h0M328.7 652.4h0M320.0 658.4h0M306.8 656.2h0M301.1 665.3h0M293.0 648.9h0M301.1 640.9h0M308.4 642.3h0M295.3 662.0h0M299.6 642.1h0M303.8 657.3h0M290.6 649.4h0M309.1 663.1h0M295.1 661.3h0M311.0 646.1h0M320.6 668.9h0M329.5 654.2h0M320.1 663.9h0M311.1 652.6h0M297.5 663.7h0M287.1 654.8h0M318.3 648.5h0M319.7 663.7h0M300.0 652.6h0M317.0 663.1h0M303.9 668.7h0M312.0 667.8h0M293.7 650.8h0M297.8 654.1h0M320.2 644.9h0M303.2 654.6h0M302.6 647.0h0M287.9 653.9h0M298.0 667.7h0M314.0 654.3h0M315.8 660.1h0M307.2 655.7h0M301.6 667.0h0M322.0 651.9h0M300.0 652.4h0M296.9 661.9h0M288.5 654.5h0M318.1 652.3h0M318.8 652.7h0M314.9 644.5h0M298.8 656.1h0M312.8 655.2h0M285.8 653.6h0M325.5 651.1h0M293.4 657.2h0M296.7 641.9h0M287.2 656.4h0M324.1 666.1h0M310.1 667.2h0M324.7 650.9h0M300.0 668.8h0M327.5 662.6h0M314.2 651.7h0M289.2 647.8h0M294.4 657.7h0M314.2 660.4h0M295.5 641.7h0M299.7 666.9h0M304.7 664.2h0M293.4 649.1h0M317.8 660.0h0M316.7 642.5h0M302.6 648.1h0M316.7 656.3h0M313.7 653.0h0M297.9 647.8h0M294.0 659.5h0M305.8 670.1h0M319.9 662.4h0M320.0 648.4h0M310.0 641.2h0M310.4 641.7h0M300.4 653.8h0M291.8 644.3h0M290.5 657.6h0M324.3 652.3h0M316.5 670.0h0M318.5 665.7h0M317.2 654.5h0M309.1 668.7h0M312.8 641.9h0M303.5 666.2h0M317.3 656.3h0M293.8 659.7h0M328.1 656.3h0M299.9 648.5h0M293.7 658.3h0M320.6 661.9h0M298.0 651.2h0M320.1 664.5h0M307.9 662.8h0M322.2 658.2h0M314.4 667.2h0M324.4 647.5h0M323.5 648.3h0M322.8 665.4h0M293.3 643.1h0M314.3 660.2h0M292.9 663.5h0M316.6 658.3h0M327.1 656.5h0M304.5 647.0h0M324.4 652.4h0M298.8 657.0h0M305.3 642.0h0M323.3 657.5h0M292.9 645.3h0M285.8 648.7h0M300.8 665.1h0M325.3 650.1h0M319.4 652.8h0M319.2 662.0h0M287.6 651.8h0M304.1 653.8h0M309.3 661.5h0M302.9 655.4h0M322.0 663.0h0M294.7 642.7h0M300.7 666.0h0M300.4 661.9h0M305.7 669.0h0M307.0 659.6h0M315.6 660.6h0M292.2 655.4h0M303.4 660.4h0M321.5 648.6h0M302.5 647.4h0M329.0 658.2h0M303.2 669.0h0M319.2 668.0h0M309.2 644.4h0M303.3 642.3h0M303.1 653.4h0M304.6 669.6h0M310.4 645.8h0M291.8 658.7h0M308.6 652.9h0M307.6 652.8h0M315.4 659.4h0M286.5 652.4h0M295.5 656.3h0M304.7 663.0h0M313.0 656.5h0M288.5 659.8h0M293.9 649.9h0M312.4 649.1h0M324.2 659.3h0M306.6 650.0h0M310.4 660.4h0M309.9 669.2h0M305.3 651.3h0M295.0 666.5h0M307.6 667.9h0M322.7 667.2h0M312.6 656.6h0M299.2 644.2h0M303.5 665.0h0M308.0 670.2h0M321.3 658.8h0M312.1 653.7h0M316.3 652.5h0M319.2 654.8h0M316.5 656.9h0M311.8 668.9h0M325.8 657.5h0M301.4 661.1h0M317.0 644.6h0M308.9 649.0h0M315.8 646.6h0M299.1 646.8h0M297.0 656.0h0M323.8 662.1h0M313.2 664.2h0M302.7 652.6h0M315.8 647.8h0M317.5 669.7h0M328.0 650.0h0M289.8 656.6h0M301.7 645.0h0M312.4 657.3h0M309.2 656.1h0M311.8 664.5h0M316.9 663.1h0M322.9 656.8h0M315.6 644.9h0M288.2 651.4h0M317.0 648.8h0M307.2 654.5h0M295.4 657.9h0M301.7 649.9h0M304.5 657.5h0M288.3 658.8h0M287.2 653.6h0M297.5 667.8h0M303.2 665.2h0M301.0 655.4h0M302.8 648.9h0M306.4 654.4h0M292.7 654.0h0M310.8 658.2h0M318.9 655.7h0M290.5 647.2h0M304.0 652.4h0M292.5 664.3h0M298.1 655.6h0M314.1 645.2h0M305.8 644.1h0M308.5 662.6h0M289.7 651.7h0M315.8 652.8h0M328.2 658.2h0M301.5 660.6h0M323.2 657.6h0M323.1 665.6h0M302.6 661.1h0M309.9 644.1h0M326.9 650.2h0M308.3 649.6h0M308.2 652.1h0M310.1 653.9h0M318.9 661.9h0M298.4 645.1h0M296.0 648.6h0M304.0 655.1h0M297.2 647.8h0M310.4 641.0h0M315.7 642.6h0M311.5 658.7h0M290.3 645.2h0M317.6 664.2h0M299.1 665.9h0M292.9 645.2h0M310.7 656.9h0M321.8 651.7h0M325.6 662.0h0M316.0 658.9h0M293.8 655.5h0M300.4 648.7h0M295.0 662.0h0M315.9 645.6h0M315.4 668.1h0M310.6 667.5h0M309.8 656.0h0M302.9 656.9h0M326.3 661.1h0M319.1 656.1h0M324.2 666.0h0M308.7 649.7h0M315.8 643.7h0M308.8 653.5h0M313.0 649.7h0M326.4 657.6h0M323.8 650.5h0M325.3 659.4h0M309.9 653.9h0M327.8 660.3h0M309.7 651.7h0M306.5 648.4h0M305.9 648.1h0M288.4 648.7h0M299.9 647.5h0M310.7 649.6h0M318.7 651.1h0M317.3 649.7h0M314.7 652.3h0M308.8 648.9h0M308.7 660.2h0M324.6 650.5h0M310.5 658.0h0M325.0 657.4h0M303.6 652.1h0M329.0 660.9h0M307.8 663.9h0M312.3 656.7h0M315.8 649.5h0M316.4 666.6h0M321.0 645.5h0M297.4 666.9h0M322.8 647.0h0M293.0 660.5h0M316.6 642.5h0M310.2 646.4h0M324.0 658.9h0M285.3 649.2h0M324.6 664.5h0M295.9 658.4h0M319.5 659.0h0M290.7 645.4h0M319.8 645.8h0M299.9 667.5h0M304.7 644.6h0M315.1 652.0h0M321.5 653.4h0M321.4 667.3h0M292.3 654.8h0M306.5 643.9h0M314.5 643.2h0M317.6 645.7h0M315.2 655.6h0M307.4 647.0h0M289.9 663.5h0M311.3 663.5h0M319.0 654.1h0M310.6 650.0h0M315.0 654.5h0M321.6 651.2h0M303.7 642.3h0M285.3 650.1h0M300.3 666.1h0M302.0 647.0h0M313.3 651.9h0M314.9 663.2h0M320.7 652.6h0M309.2 649.0h0M301.7 667.2h0M296.3 651.6h0M326.7 656.7h0M321.9 658.6h0M299.6 661.1h0M315.1 653.0h0M322.9 664.4h0M317.4 656.1h0M313.9 667.5h0M302.2 662.0h0M316.6 656.8h0M320.1 656.8h0M289.7 653.7h0M320.7 647.2h0M304.3 665.2h0M301.1 650.5h0M316.4 659.0h0M299.1 643.9h0M302.2 666.6h0M315.8 662.3h0M289.5 663.4h0M285.1 653.0h0M301.2 667.3h0M314.5 648.2h0M287.3 651.8h0M310.1 654.9h0M313.1 643.0h0M299.6 664.4h0M299.0 644.9h0M325.1 655.1h0M300.1 650.5h0M317.5 645.3h0M319.2 652.8h0M285.3 657.2h0M294.5 665.4h0M291.9 658.4h0M306.4 641.6h0M298.1 648.4h0M319.2 665.4h0M294.6 649.9h0M314.4 669.6h0M318.1 669.1h0M314.3 670.3h0M316.9 675.5h0M321.5 671.4h0M312.2 673.1h0M322.1 673.8h0M317.6 673.8h0M314.7 675.6h0M321.6 674.4h0M318.2 675.3h0M317.0 675.6h0M316.5 675.6h0M314.4 672.1h0M318.5 672.4h0M323.3 674.8h0M312.1 673.6h0M317.9 671.2h0M318.7 668.7h0M314.5 670.6h0M310.5 671.0h0M315.2 671.3h0M325.2 672.4h0M313.0 671.6h0M315.2 671.9h0M312.0 674.0h0M324.9 673.0h0M318.1 672.2h0M320.7 670.9h0M310.3 671.6h0M322.9 673.4h0M309.8 672.1h0M312.0 670.4h0M312.9 672.9h0M321.1 675.1h0M317.6 668.5h0M311.2 669.4h0M314.0 669.2h0M323.5 670.9h0M317.2 674.3h0M312.1 672.0h0M309.7 671.9h0M324.8 672.5h0M314.1 673.1h0M317.5 672.0h0M319.8 673.7h0M320.6 674.4h0M312.3 669.6h0M323.3 671.5h0M311.3 670.2h0M323.1 670.1h0M322.5 671.1h0M318.6 673.5h0M321.2 669.7h0M320.4 669.3h0M313.2 674.2h0M311.6 671.3h0M310.9 672.7h0M312.0 670.9h0M325.6 671.6h0M317.5 668.3h0M313.5 668.8h0M319.5 669.2h0M312.0 669.1h0M321.6 673.2h0M314.0 670.5h0M313.7 672.4h0M318.7 669.1h0M311.6 673.0h0M313.8 673.3h0M318.1 668.2h0M315.1 673.1h0M312.7 674.7h0M309.1 672.2h0M318.8 669.5h0M325.8 672.4h0M311.2 674.0h0M323.2 673.1h0M323.1 674.8h0M313.6 675.4h0M314.5 669.7h0M312.6 672.0h0M312.6 673.5h0M315.0 675.3h0M318.5 672.0h0M321.9 672.5h0M316.7 669.4h0M322.6 673.0h0M316.9 675.9h0M316.9 673.9h0M290.1 646.3h0M297.6 645.1h0M297.8 650.6h0M291.8 651.3h0M301.3 647.5h0M290.4 648.3h0M297.7 652.3h0M291.8 644.0h0M294.2 644.0h0M291.6 647.9h0M298.5 643.3h0M290.3 647.7h0M295.8 644.1h0M298.1 648.8h0M297.5 643.1h0M295.9 645.3h0M292.0 642.9h0M298.6 649.9h0M291.9 644.8h0M303.4 648.6h0M298.7 645.0h0M302.6 650.6h0M295.6 643.3h0M294.5 642.3h0M289.3 644.5h0M293.0 653.6h0M290.1 647.0h0M296.0 642.5h0M296.5 642.8h0M292.6 645.9h0M292.3 646.0h0M292.3 643.9h0M292.6 650.3h0M293.1 644.8h0M292.3 645.2h0M296.3 642.8h0M300.9 651.2h0M300.9 647.7h0M290.9 644.2h0M298.1 653.5h0M289.3 650.0h0M301.9 645.8h0M293.5 651.5h0M296.2 649.5h0M288.4 649.5h0M289.9 651.9h0M299.9 649.8h0M300.8 650.6h0M288.2 649.1h0M303.4 647.3h0M290.1 646.3h0M293.1 645.2h0M298.7 644.0h0M294.9 648.0h0M292.5 651.4h0M291.0 651.6h0M299.8 649.5h0M263.1 666.5h0M271.9 669.5h0M261.3 659.6h0M260.1 666.9h0M265.1 667.0h0M261.8 666.1h0M263.6 663.1h0M269.0 670.8h0M262.3 668.2h0M270.8 657.7h0M262.7 667.1h0M267.4 662.0h0M273.9 660.5h0M274.5 661.9h0M265.9 669.0h0M271.9 659.3h0M265.8 664.9h0M270.2 667.3h0M265.6 662.2h0M262.0 665.9h0M264.6 668.3h0M273.0 661.8h0M260.7 659.7h0M259.1 664.9h0M266.7 664.8h0M273.3 669.1h0M266.8 663.6h0M261.6 660.1h0M262.2 660.7h0M268.3 660.4h0M263.6 658.2h0M266.5 663.3h0M267.3 663.3h0M271.0 665.1h0M270.9 657.5h0M264.0 660.6h0M267.2 662.8h0M270.0 671.0h0M269.4 663.9h0M263.8 668.6h0M263.5 661.1h0M274.7 663.7h0M271.4 663.8h0M263.5 661.8h0M267.7 661.1h0M267.8 656.9h0M265.6 658.2h0M267.1 664.5h0M274.2 663.2h0M264.0 669.2h0M261.0 662.2h0M271.7 670.4h0M262.2 669.0h0M270.9 664.7h0M266.5 668.6h0M267.0 670.7h0M274.7 662.0h0M268.2 662.9h0M265.8 662.0h0M264.4 666.5h0M270.3 665.8h0M267.9 666.6h0M259.1 663.7h0M270.8 667.4h0M272.9 659.9h0M269.5 668.8h0M262.3 659.3h0M262.7 664.5h0M274.2 661.8h0M276.0 664.0h0M272.2 669.4h0M265.8 666.4h0M269.4 671.2h0M270.7 661.9h0M262.1 664.2h0M273.7 664.5h0M268.2 659.8h0M261.5 660.1h0M264.2 663.6h0M275.0 660.6h0M262.9 667.6h0M264.1 662.7h0M268.4 660.2h0M263.0 668.6h0M260.9 667.6h0M263.4 658.4h0M261.6 660.0h0M272.8 668.3h0M267.5 664.7h0M271.7 665.4h0M260.3 663.4h0M262.4 663.6h0M264.5 665.2h0M270.2 661.1h0M265.7 664.0h0M274.1 664.9h0M274.6 662.4h0M270.1 656.8h0M262.8 666.2h0M264.6 664.3h0M275.7 664.9h0M270.4 665.0h0M265.5 656.9h0M266.2 662.7h0M262.5 662.9h0M267.9 660.8h0M268.3 665.4h0M265.6 668.6h0M266.7 670.3h0M272.0 666.9h0M261.8 667.1h0M274.1 666.8h0M270.3 664.6h0M271.4 664.7h0M272.6 658.8h0M267.0 665.9h0M260.2 664.9h0M271.5 667.3h0M269.8 665.5h0M267.1 663.1h0M269.2 661.6h0M272.6 664.7h0M266.4 664.2h0M271.1 669.0h0M267.6 657.7h0M267.0 667.8h0M266.5 669.6h0M265.1 663.8h0M263.5 658.5h0M268.8 658.4h0M261.5 660.9h0M262.7 660.1h0M275.5 665.2h0M270.2 660.2h0M270.0 660.0h0M267.1 661.0h0M272.2 662.5h0M264.6 659.1h0M270.9 658.5h0M269.3 663.2h0M270.8 657.3h0M274.3 666.2h0M273.0 668.1h0M261.9 661.2h0M261.9 668.7h0M275.1 665.1h0M267.9 663.1h0M261.1 659.4h0M262.4 664.4h0M263.0 662.3h0M260.3 660.8h0M260.7 666.9h0M262.7 664.8h0M259.6 665.0h0M264.8 670.1h0M262.3 660.9h0M267.3 663.8h0M263.9 659.0h0M265.4 660.4h0M271.1 662.7h0M269.4 665.3h0M271.1 670.5h0M268.5 666.9h0M268.5 657.6h0M273.2 664.4h0M288.2 679.9h0M285.2 675.0h0M294.6 673.4h0M286.0 677.8h0M298.1 673.0h0M293.0 674.9h0M288.4 671.7h0M281.3 673.2h0M279.5 672.8h0M296.2 675.7h0M281.8 671.4h0M292.5 677.0h0M291.6 676.8h0M289.4 669.5h0M296.0 677.9h0M278.4 675.0h0M296.5 677.5h0M295.7 670.5h0M295.2 670.3h0M296.2 672.7h0M285.5 677.5h0M283.0 672.7h0M279.3 677.4h0M293.0 671.1h0M294.2 675.2h0M289.5 675.0h0M284.4 670.1h0M288.8 676.6h0M290.9 670.7h0M297.0 672.7h0M275.7 678.6h0M287.5 676.4h0M283.0 676.7h0M293.3 671.2h0M277.4 678.1h0M298.0 675.9h0M289.7 675.0h0M290.2 669.9h0M293.7 669.6h0M287.6 678.0h0M294.7 671.7h0M291.3 674.9h0M287.5 676.1h0M285.8 673.9h0M294.8 675.6h0M294.9 669.6h0M287.6 675.0h0M283.3 676.7h0M284.3 674.2h0M291.5 676.6h0M298.0 672.0h0M287.3 674.5h0M300.5 673.4h0M277.1 676.4h0M290.3 669.9h0M289.9 676.8h0M283.5 676.0h0M284.2 671.6h0M291.2 674.9h0M296.2 677.5h0M294.2 673.0h0M288.3 672.9h0M296.6 671.6h0M278.1 675.7h0M291.6 677.7h0M282.7 670.4h0M299.8 671.5h0M275.2 677.9h0M279.3 673.7h0M292.9 671.0h0M282.4 673.5h0M284.4 670.8h0M298.8 670.7h0M283.3 670.7h0M295.4 670.4h0M276.0 675.2h0M286.7 676.0h0M293.9 671.3h0M296.1 670.0h0M286.7 672.7h0M288.9 672.0h0M288.3 672.2h0M295.1 673.3h0M288.1 676.7h0M280.5 672.5h0M285.4 678.1h0M293.6 673.7h0M290.0 671.9h0M299.7 674.8h0M295.4 672.4h0M289.9 677.0h0M288.8 677.7h0M281.8 679.0h0M282.7 675.9h0M277.8 675.3h0M279.2 676.6h0M292.0 676.4h0M292.8 676.7h0M289.7 670.8h0M288.3 672.4h0M274.3 676.9h0M294.6 675.4h0M275.2 677.3h0M282.7 680.2h0M292.7 679.1h0M296.9 674.6h0M286.7 675.5h0M283.2 679.5h0M283.1 674.9h0M290.1 672.5h0M289.7 669.7h0M295.6 676.7h0M279.2 676.9h0M294.8 670.8h0M285.3 670.8h0M292.3 676.5h0M297.1 670.1h0M298.1 671.0h0M293.9 670.7h0M297.0 672.9h0M282.3 671.6h0M286.5 675.1h0M289.1 670.1h0M285.8 677.7h0M298.2 674.5h0M293.5 671.1h0M279.8 676.2h0M280.5 677.5h0M284.3 675.0h0M280.1 673.1h0M275.0 675.1h0M299.5 671.8h0M283.4 678.3h0M280.7 678.8h0M289.0 670.4h0M292.3 675.2h0M287.5 678.0h0M278.8 674.8h0M291.6 678.8h0M281.0 675.0h0M288.1 674.5h0M276.0 675.1h0M298.8 672.0h0M288.5 679.5h0M290.6 679.6h0M282.2 674.2h0M289.3 675.8h0M290.7 679.0h0M288.0 675.5h0M285.8 673.4h0M300.3 674.8h0M286.7 670.6h0M290.5 669.5h0M286.3 672.0h0M284.2 672.4h0M280.0 675.4h0M277.0 673.7h0M292.8 669.8h0M296.6 672.7h0M280.2 679.1h0M284.0 674.0h0M299.2 673.3h0M285.9 676.2h0M297.4 675.1h0M281.8 675.2h0M295.7 677.8h0M279.4 673.5h0M288.0 675.6h0M288.5 674.5h0M294.6 671.2h0M286.0 677.2h0M297.6 670.9h0M283.6 675.2h0M281.3 676.0h0M287.0 673.4h0M296.5 672.4h0M281.4 679.5h0M278.4 677.0h0M294.6 674.1h0M282.1 676.9h0M283.4 677.5h0M295.9 677.2h0M294.2 669.9h0M281.6 677.7h0M291.7 678.8h0M285.2 670.4h0M288.3 672.9h0M275.6 675.0h0M295.1 676.0h0M286.6 678.7h0M285.6 676.9h0M289.4 675.7h0M300.2 674.3h0M280.6 672.0h0M288.4 671.2h0M284.2 680.6h0M278.6 673.0h0M292.0 674.4h0M298.2 671.6h0M294.3 673.1h0M279.1 674.8h0M286.8 674.8h0M290.2 676.7h0M278.4 677.9h0M296.0 672.8h0M281.0 673.2h0M289.8 670.5h0M279.5 673.9h0M292.9 676.9h0M288.1 671.0h0M282.9 670.8h0M300.7 672.7h0M296.1 671.0h0M281.0 672.0h0M284.8 677.4h0M288.6 672.9h0M277.2 673.9h0M294.2 670.5h0M292.0 674.4h0M285.3 676.2h0M282.2 679.5h0M278.8 672.3h0M277.0 674.6h0M278.8 675.1h0M288.3 671.1h0M286.7 674.4h0M289.4 678.4h0M285.8 679.9h0M290.3 679.7h0M287.8 676.9h0M276.5 675.4h0M291.2 671.2h0M299.9 672.1h0M289.7 677.8h0M282.8 677.9h0M294.1 677.1h0M282.4 673.9h0M289.6 674.1h0M286.9 675.8h0M293.9 670.1h0M279.2 672.0h0M287.5 671.7h0M286.5 678.1h0M281.1 671.2h0M280.6 678.2h0M284.2 680.4h0M278.0 674.2h0M281.4 671.4h0M288.0 677.7h0M290.6 673.0h0M283.6 673.1h0M276.6 676.2h0M288.9 678.1h0M298.2 671.9h0M294.1 678.3h0M281.1 672.3h0M294.7 671.8h0M286.8 669.6h0M289.6 674.0h0M279.3 672.7h0M282.2 673.7h0M283.0 673.9h0M285.1 680.4h0M289.0 676.0h0M283.4 678.0h0M285.0 671.5h0M293.6 678.9h0M279.1 679.0h0M294.7 672.3h0M288.7 680.1h0M273.9 674.9h0M273.6 672.9h0M274.1 673.7h0M276.3 675.0h0M278.3 672.1h0M275.3 675.0h0M278.3 671.8h0M277.1 669.8h0M278.6 675.8h0M272.4 671.8h0M273.2 671.9h0M276.2 676.1h0M275.3 672.8h0M278.9 672.3h0M277.2 671.3h0M272.4 673.4h0M276.7 675.2h0M277.9 671.4h0M272.8 673.2h0M273.6 669.0h0M276.0 670.4h0M274.1 669.2h0M274.8 671.1h0M273.0 668.7h0M275.7 669.4h0M274.8 668.7h0M278.4 671.4h0M276.0 670.1h0M278.2 671.0h0M273.5 668.9h0M276.3 675.5h0M278.2 673.7h0M274.8 671.2h0M276.4 673.2h0M277.0 673.2h0M277.6 674.8h0M273.3 670.9h0M271.2 673.7h0M271.4 669.6h0M274.0 672.8h0M271.0 671.6h0M272.6 669.3h0M274.9 669.0h0M277.8 675.6h0M278.4 675.2h0M275.6 672.4h0M276.0 671.7h0M271.9 671.4h0M278.2 675.2h0M310.4 621.4h0M322.1 606.8h0M312.0 604.2h0M307.0 608.4h0M315.5 606.5h0M317.0 618.4h0M320.3 612.6h0M309.1 606.1h0M307.5 614.2h0M322.1 612.0h0M321.3 613.2h0M322.3 608.2h0M310.3 612.3h0M310.0 616.7h0M313.4 611.8h0M310.9 606.6h0M320.3 614.9h0M310.1 605.9h0M320.0 617.2h0M318.2 611.2h0M322.9 618.5h0M318.2 606.2h0M320.7 618.4h0M319.4 612.5h0M315.2 617.3h0M320.3 610.8h0M305.2 613.9h0M327.8 608.9h0M311.7 607.0h0M315.0 617.3h0M327.0 604.9h0M328.8 611.4h0M311.3 617.2h0M307.8 612.0h0M310.1 620.8h0M322.1 610.7h0M313.1 605.9h0M307.2 609.2h0M306.3 618.7h0M308.3 613.0h0M312.8 618.3h0M316.5 619.1h0M319.3 602.3h0M324.6 615.5h0M325.5 617.2h0M315.7 610.2h0M323.3 610.5h0M321.2 603.2h0M312.5 604.8h0M306.6 615.4h0M307.2 617.6h0M306.8 618.6h0M315.8 607.0h0M321.7 614.0h0M326.2 604.6h0M306.6 613.6h0M308.3 619.8h0M324.0 607.9h0M320.2 616.2h0M311.2 609.1h0M308.4 611.7h0M315.8 601.7h0M308.3 615.0h0M328.7 612.4h0M320.8 612.1h0M316.4 615.5h0M309.1 611.8h0M325.0 608.1h0M304.9 609.7h0M327.2 614.6h0M323.9 612.7h0M322.0 615.3h0M314.3 612.6h0M306.8 615.6h0M320.1 601.2h0M312.7 612.5h0M307.9 613.7h0M318.3 609.5h0M307.2 615.6h0M314.2 618.1h0M313.2 603.9h0M309.7 608.9h0M321.6 615.2h0M315.7 614.8h0M319.7 618.4h0M319.2 619.1h0M311.9 607.9h0M307.4 613.3h0M309.0 605.9h0M314.8 621.7h0M309.7 613.9h0M313.1 615.3h0M311.8 615.8h0M324.2 607.9h0M318.3 617.0h0M315.8 603.7h0M316.9 601.9h0M322.9 614.6h0M310.4 618.3h0M323.0 608.2h0M314.0 610.3h0M309.7 620.0h0M314.2 606.7h0M307.8 606.6h0M322.1 609.5h0M312.1 610.0h0M307.9 609.9h0M310.2 614.0h0M324.0 605.6h0M319.3 610.7h0M328.5 609.2h0M306.8 619.4h0M306.7 607.2h0M326.6 604.1h0M316.6 612.8h0M319.0 617.4h0M322.7 618.0h0M310.2 618.1h0M313.8 611.3h0M314.7 606.6h0M320.2 618.1h0M322.9 616.4h0M305.5 611.3h0M313.2 621.2h0M308.4 612.1h0M321.8 609.4h0M323.0 606.0h0M320.3 618.0h0M313.7 619.3h0M316.8 607.0h0M326.5 606.1h0M322.6 610.0h0M308.4 606.7h0M321.6 607.9h0M323.7 607.3h0M311.5 610.3h0M304.4 611.1h0M311.4 608.4h0M307.7 610.1h0M317.6 614.3h0M321.3 604.3h0M319.8 612.1h0M320.2 609.1h0M315.0 611.3h0M320.3 601.6h0M317.0 621.3h0M305.0 611.2h0M323.8 608.6h0M312.4 614.0h0M320.7 614.5h0M312.7 617.3h0M319.0 612.6h0M325.8 608.6h0M313.4 606.0h0M328.5 611.1h0M325.0 606.1h0M316.1 611.9h0M321.3 611.3h0M310.5 615.4h0M319.1 605.4h0M312.7 603.7h0M322.1 603.4h0M304.6 617.6h0M324.9 610.7h0M310.7 603.9h0M322.5 611.3h0M320.9 602.0h0M328.0 604.9h0M308.8 614.4h0M323.8 613.7h0M316.3 615.6h0M314.1 614.0h0M321.8 611.0h0M315.4 619.7h0M317.9 606.1h0M316.8 607.1h0M325.4 605.9h0M309.1 620.3h0M325.8 615.9h0M319.3 613.5h0M314.3 603.0h0M310.6 620.0h0M304.8 613.2h0M309.2 619.1h0M313.4 617.1h0M314.9 604.1h0M321.7 603.5h0M319.6 613.4h0M324.6 603.6h0M311.9 607.0h0M319.8 602.2h0M311.1 607.6h0M324.4 615.3h0M319.0 611.1h0M317.8 608.1h0M323.9 604.4h0M307.2 613.7h0M319.2 618.1h0M322.1 619.8h0M309.7 618.2h0M321.9 607.5h0M312.1 620.3h0M315.9 606.1h0M316.6 621.2h0M314.9 601.6h0M315.4 616.4h0M307.4 611.4h0M328.5 606.9h0M316.2 616.1h0M312.3 620.1h0M306.8 615.3h0M324.6 605.6h0M326.9 611.8h0M315.2 621.0h0M319.1 601.2h0M310.1 620.1h0M323.7 618.0h0M323.9 601.9h0M312.6 620.9h0M314.2 604.3h0M310.5 607.8h0M315.0 602.3h0M312.9 612.1h0M323.1 602.8h0M328.1 607.7h0M322.3 606.7h0M323.5 617.1h0M315.9 602.9h0M317.0 615.7h0M305.6 617.1h0M323.4 617.9h0M323.9 611.2h0M318.5 620.8h0M304.9 610.2h0M321.9 605.4h0M324.7 610.7h0M305.8 614.2h0M311.2 614.1h0M325.2 624.0h0M321.4 621.3h0M321.2 624.2h0M325.4 622.1h0M325.0 623.7h0M323.8 622.8h0M323.7 621.7h0M322.4 619.2h0M319.8 621.3h0M321.0 625.3h0M323.7 618.8h0M320.4 624.5h0M319.8 623.3h0M322.4 621.0h0M319.9 624.4h0M325.7 622.6h0M323.3 624.8h0M317.6 621.7h0M321.8 618.4h0M322.5 625.1h0M317.3 622.3h0M321.1 621.1h0M318.4 621.6h0M317.7 623.4h0M319.4 625.0h0M320.1 622.3h0M320.8 621.8h0M345.1 620.9h0M343.8 618.8h0M354.2 612.1h0M359.3 619.2h0M362.0 614.7h0M358.6 615.4h0M347.6 623.0h0M362.6 613.1h0M343.6 621.2h0M356.1 620.1h0M361.9 614.6h0M364.3 619.9h0M347.9 616.0h0M355.4 624.0h0M365.5 616.9h0M356.2 618.3h0M361.0 617.6h0M358.3 623.4h0M345.2 620.9h0M357.9 614.6h0M363.0 619.0h0M351.3 618.5h0M355.6 612.2h0M355.8 625.2h0M349.8 622.0h0M347.3 620.6h0M354.5 624.0h0M348.4 622.3h0M354.4 614.3h0M351.7 615.6h0M361.6 613.5h0M350.5 621.7h0M344.6 615.8h0M351.6 621.8h0M364.3 618.0h0M350.1 620.6h0M367.8 613.9h0M355.7 625.4h0M367.8 618.9h0M348.0 618.2h0M347.7 619.2h0M355.2 614.2h0M359.5 622.1h0M362.0 614.8h0M349.0 614.5h0M360.3 617.2h0M356.8 611.4h0M345.8 624.4h0M360.7 623.8h0M354.0 620.3h0M354.8 624.4h0M350.1 619.5h0M362.7 615.0h0M352.5 613.0h0M367.7 615.9h0M353.7 613.8h0M352.7 616.8h0M346.8 618.2h0M352.1 621.4h0M355.0 622.2h0M350.5 623.2h0M354.4 616.1h0M358.3 617.5h0M364.6 619.6h0M352.5 620.5h0M354.3 622.5h0M346.3 621.2h0M357.6 624.1h0M350.5 618.0h0M361.0 618.9h0M355.6 620.0h0M347.1 614.0h0M353.9 619.3h0M361.2 615.7h0M352.6 626.2h0M364.4 614.2h0M357.6 624.7h0M352.3 612.1h0M353.3 622.0h0M349.0 622.3h0M348.8 622.5h0M347.3 618.5h0M364.0 617.7h0M356.0 617.8h0M360.3 622.3h0M345.5 618.4h0M345.6 622.8h0M350.2 617.1h0M356.7 611.8h0M346.5 624.2h0M352.5 621.6h0M347.2 623.1h0M354.6 612.7h0M344.9 616.9h0M352.8 619.7h0M347.5 620.7h0M355.4 617.2h0M359.5 617.8h0M344.1 620.0h0M358.5 617.9h0M355.6 615.7h0M365.2 615.9h0M366.0 614.1h0M349.3 621.9h0M360.8 617.2h0M357.8 612.4h0M364.5 616.0h0M360.7 613.9h0M365.4 612.4h0M361.1 614.2h0M367.4 617.6h0M361.8 617.9h0M361.8 613.8h0M352.8 621.6h0M343.2 617.9h0M346.5 615.4h0M356.8 617.0h0M358.6 620.3h0M355.1 624.2h0M353.4 618.3h0M349.8 623.5h0M348.4 617.2h0M352.5 611.7h0M347.8 618.8h0M344.3 623.9h0M348.3 622.0h0M350.4 619.3h0M343.3 618.7h0M347.6 613.6h0M364.2 615.5h0M346.0 616.3h0M354.4 620.0h0M356.9 623.6h0M357.0 621.2h0M349.2 625.4h0M354.5 611.4h0M352.4 626.0h0M348.8 614.1h0M368.1 614.7h0M357.0 616.1h0M348.6 617.2h0M366.9 615.9h0M361.5 619.0h0M350.1 625.9h0M355.2 618.8h0M349.7 620.6h0M357.6 623.8h0M359.8 617.1h0M347.5 618.2h0M363.3 616.4h0M358.6 613.0h0M350.3 615.0h0M350.7 616.2h0M353.0 621.9h0M363.8 622.9h0M359.5 622.6h0M358.1 611.5h0M346.0 616.5h0M344.4 617.2h0M360.7 621.1h0M354.3 619.5h0M359.8 620.4h0M353.2 616.9h0M356.3 619.6h0M345.8 620.0h0M356.4 622.3h0M361.8 619.0h0M354.5 613.7h0M350.7 616.6h0M353.5 612.4h0M350.7 616.3h0M355.5 620.5h0M366.0 619.2h0M350.8 621.6h0M363.9 621.8h0M359.4 623.6h0M359.4 615.9h0M367.0 614.7h0M353.0 623.5h0M366.6 620.5h0M360.0 614.9h0M355.4 616.9h0M363.1 614.0h0M354.8 622.9h0M346.2 624.9h0M357.5 620.8h0M359.5 613.7h0M366.1 618.1h0M350.5 613.5h0M348.8 614.3h0M344.1 616.6h0M344.2 618.0h0M357.3 616.2h0M359.5 613.5h0M358.8 614.4h0M352.8 615.3h0M357.2 611.3h0M344.1 616.7h0M347.2 618.3h0M350.6 616.6h0M362.5 615.2h0M366.7 619.2h0M365.4 615.3h0M351.4 620.6h0M361.3 622.2h0M355.7 612.7h0M366.6 615.8h0M345.5 621.1h0M349.5 616.8h0M358.0 620.4h0M359.7 616.8h0M362.9 618.6h0M353.5 613.6h0M349.0 613.3h0M365.1 615.8h0M358.0 623.0h0M363.8 622.4h0M355.1 619.9h0M345.1 616.8h0M346.4 624.2h0M361.9 615.3h0M363.9 621.8h0M345.8 620.6h0M355.5 616.3h0M347.3 616.7h0M368.0 615.7h0M354.2 622.5h0M362.6 621.6h0M362.4 614.1h0M348.8 620.0h0M361.1 613.8h0M348.1 618.3h0M345.8 614.9h0M358.3 618.6h0M346.8 624.0h0M353.3 619.7h0M365.7 616.3h0M344.6 618.3h0M353.7 616.4h0M347.6 617.3h0M345.2 620.9h0M356.2 610.8h0M356.8 620.1h0M367.5 617.0h0M347.7 613.8h0M361.7 614.9h0M360.4 619.1h0M360.9 623.0h0M360.4 619.9h0M349.0 617.5h0M366.4 613.3h0M365.6 612.7h0M355.8 625.6h0M359.3 618.0h0M346.0 621.5h0M360.0 612.4h0M346.4 622.2h0M364.7 613.5h0M363.1 619.0h0M346.3 623.6h0M348.9 614.8h0M352.9 611.9h0M366.1 617.7h0M352.0 618.9h0M347.2 623.1h0M363.7 615.9h0M343.2 618.5h0M350.9 612.0h0M365.9 619.4h0M343.4 621.1h0M358.7 624.4h0M352.8 616.7h0M355.0 612.3h0M352.4 616.3h0M348.0 625.3h0M358.1 621.3h0M357.4 613.9h0M358.3 614.9h0M346.7 625.3h0M351.5 622.0h0M365.0 613.9h0M356.3 617.6h0M357.2 621.0h0M362.2 615.2h0M361.8 622.9h0M355.7 618.0h0M353.6 614.1h0M357.6 614.4h0M353.5 625.5h0M349.4 617.2h0M360.0 619.1h0M348.2 615.1h0M345.7 619.0h0M363.6 621.9h0M348.2 623.3h0M347.1 619.6h0M344.8 616.7h0M364.5 619.9h0M356.6 624.2h0M344.6 617.7h0M359.0 612.1h0M353.9 617.7h0M346.2 617.0h0M349.3 620.5h0M351.5 620.4h0M351.7 622.7h0M365.8 618.1h0M364.2 616.1h0M360.7 611.2h0M355.5 617.4h0M343.5 620.3h0M345.9 623.6h0M364.3 615.4h0M356.7 616.6h0M359.6 624.8h0M348.8 621.4h0M343.5 619.9h0M352.1 619.9h0M347.9 615.2h0M357.2 623.0h0M367.6 614.6h0M348.2 617.3h0M362.4 611.5h0M282.8 625.0h0M278.7 626.3h0M280.7 622.2h0M275.6 625.5h0M279.2 627.1h0M273.9 622.1h0M279.8 624.3h0M282.5 627.8h0M281.9 621.8h0M275.6 623.6h0M274.9 622.0h0M276.9 628.3h0M271.5 624.8h0M271.4 625.7h0M273.5 621.7h0M275.9 621.2h0M282.9 624.7h0M277.1 621.2h0M272.5 623.6h0M283.6 625.9h0M276.2 626.1h0M277.1 628.3h0M272.2 625.7h0M275.0 624.2h0M278.8 628.2h0M278.0 621.0h0M281.5 621.3h0M272.4 626.6h0M276.2 628.3h0M272.1 624.5h0M273.2 621.8h0M276.9 627.7h0M281.3 624.0h0M275.5 622.7h0M280.0 623.8h0M280.2 621.3h0M273.9 625.5h0M281.9 624.4h0M272.3 623.8h0M275.5 623.6h0M276.7 621.6h0M272.8 622.1h0M276.4 621.6h0M272.9 625.8h0M278.4 622.9h0M280.2 625.3h0M273.7 628.5h0M278.4 621.6h0M277.5 620.7h0M275.0 628.7h0M276.1 625.0h0M271.4 624.4h0M277.0 629.7h0M281.7 622.6h0M278.9 624.8h0M273.9 622.1h0M276.4 628.0h0M280.1 623.8h0M281.6 628.3h0M275.4 629.0h0M275.6 622.3h0M282.6 627.9h0M273.9 625.3h0M273.0 627.6h0M282.8 623.7h0M282.8 624.5h0M278.9 628.9h0M275.1 625.4h0M280.6 622.1h0M283.3 624.2h0M274.4 622.0h0M276.7 622.5h0M273.8 624.6h0M276.4 629.6h0M276.5 620.6h0M271.8 627.1h0M277.9 625.9h0M273.3 624.1h0M278.4 627.3h0M275.0 624.6h0M273.7 626.0h0M281.2 625.6h0M282.2 622.5h0M281.3 627.0h0M282.3 625.5h0M275.0 623.9h0M280.3 623.0h0M277.7 627.6h0M275.8 623.7h0M272.3 626.7h0M276.6 623.8h0M273.6 628.3h0M272.8 624.4h0M274.5 620.8h0M275.1 625.5h0M268.9 643.7h0M268.6 643.1h0M263.1 643.1h0M267.3 644.5h0M259.6 643.4h0M262.2 643.1h0M264.8 645.6h0M264.2 645.7h0M269.3 643.7h0M265.6 644.9h0M267.6 644.2h0M262.5 642.9h0M265.8 644.2h0M266.3 644.0h0M269.9 643.3h0M264.3 642.4h0M266.2 645.6h0M262.1 643.7h0M268.0 643.3h0M259.9 644.2h0M270.2 643.5h0M260.6 645.2h0M263.0 643.2h0M261.4 643.5h0M263.5 645.2h0M268.7 644.0h0M265.8 645.5h0M262.8 645.5h0M260.2 644.9h0M268.6 642.8h0M263.1 644.3h0M265.5 643.7h0M265.5 645.5h0M262.4 643.8h0M264.4 643.8h0M385.0 637.5h0M384.2 634.5h0M382.2 634.7h0M381.6 636.6h0M381.0 635.8h0M384.2 637.1h0M385.7 635.7h0M384.4 635.7h0M381.4 635.5h0M382.4 633.9h0M384.0 635.3h0M383.2 635.2h0M386.7 636.9h0M382.2 635.8h0M380.9 634.4h0M380.7 635.7h0M387.0 636.0h0M377.4 634.0h0M382.1 634.9h0M385.4 637.6h0M385.1 637.5h0M386.7 636.4h0M383.4 635.1h0M384.9 636.3h0M386.1 638.0h0M379.0 634.6h0M384.8 636.0h0M386.1 636.7h0M378.6 633.5h0M377.0 633.5h0M379.3 635.9h0M382.3 635.3h0M377.0 634.1h0M377.8 634.0h0M381.1 636.0h0M384.8 636.9h0M386.3 636.7h0M380.9 633.3h0M381.3 635.9h0M379.4 633.5h0M385.7 637.4h0M384.5 636.8h0M386.3 636.6h0M396.5 639.7h0M392.7 640.2h0M393.3 638.3h0M396.3 639.1h0M389.4 636.7h0M392.1 638.6h0M389.3 635.9h0M391.8 635.9h0M392.9 639.7h0M396.2 639.6h0M389.4 639.0h0M393.0 639.6h0M392.8 638.2h0M395.9 639.6h0M393.1 635.9h0M396.4 638.9h0M387.9 637.2h0M394.1 638.7h0M388.8 636.9h0M392.5 637.1h0M394.0 639.9h0M388.0 636.3h0M389.9 637.4h0M391.0 638.6h0M391.9 636.3h0M395.4 637.7h0M391.2 638.9h0M391.7 636.2h0M392.2 636.2h0M393.5 636.1h0M389.0 638.5h0M393.4 638.0h0M395.1 638.2h0M388.2 636.1h0M391.1 639.5h0M390.8 638.0h0M392.4 638.0h0M396.0 637.5h0M389.3 635.9h0M391.3 636.7h0M390.2 636.0h0M393.7 637.7h0M394.1 637.0h0M391.3 636.3h0M395.9 637.9h0M391.0 635.9h0M393.4 637.2h0M394.4 638.0h0M403.6 642.6h0M407.5 643.4h0M406.8 642.8h0M402.8 642.8h0M402.0 640.5h0M405.8 642.1h0M402.1 640.7h0M404.5 643.7h0M405.6 643.6h0M403.1 643.8h0M400.3 640.7h0M401.6 642.4h0M404.1 641.0h0M400.7 642.4h0M402.1 641.2h0M399.4 641.5h0M400.2 640.8h0M405.7 644.6h0M405.9 642.4h0M403.5 641.7h0M401.6 641.2h0M405.8 644.5h0M406.1 642.8h0M397.4 640.5h0M400.9 640.9h0M407.1 643.1h0M404.0 641.0h0M405.9 642.7h0M400.3 642.5h0M398.2 639.4h0M407.2 644.1h0M404.0 641.0h0M399.0 639.5h0M401.2 641.0h0M403.7 642.8h0M399.1 640.1h0M398.8 641.6h0M341.6 583.5h0M341.1 584.6h0M341.2 582.5h0M341.1 582.3h0M340.8 582.8h0M343.1 583.4h0M340.8 584.4h0M341.9 584.9h0M341.1 584.6h0M340.3 583.6h0M293.9 601.8h0M292.2 599.6h0M294.2 597.6h0M294.2 600.0h0M291.6 599.1h0M292.9 601.0h0M294.6 600.8h0M313.4 628.9h0M316.6 627.9h0M314.8 626.4h0M320.4 625.3h0M315.2 630.6h0M316.5 627.0h0M316.7 625.7h0M314.5 628.6h0M314.9 630.4h0M317.6 628.1h0M316.1 626.7h0M312.9 628.2h0M316.3 628.1h0M312.5 630.0h0M321.9 624.6h0M313.1 630.4h0M319.0 628.6h0M314.4 628.5h0M319.0 624.1h0M318.6 625.0h0M316.0 630.1h0M320.1 625.5h0M319.2 624.7h0M318.8 627.1h0M317.1 626.2h0M312.8 628.9h0M317.0 625.2h0M322.5 625.7h0M321.1 625.1h0M317.8 628.2h0M317.1 629.2h0M322.6 625.6h0M315.5 626.4h0M313.8 627.2h0M317.3 627.6h0M315.2 630.0h0M314.3 627.6h0M316.5 627.7h0M316.1 628.6h0M335.0 628.5h0M326.4 628.0h0M330.9 628.0h0M327.8 627.2h0M328.6 628.6h0M335.9 627.6h0M328.9 625.0h0M326.5 626.2h0M331.1 628.9h0M329.3 630.3h0M334.3 628.1h0M327.6 625.5h0M330.4 629.2h0M329.2 629.1h0M329.1 629.0h0M333.9 625.4h0M332.2 626.8h0M335.5 628.3h0M330.9 626.7h0M327.9 626.4h0M334.1 629.1h0M330.7 628.8h0M325.4 627.4h0M329.7 631.1h0M331.2 628.4h0M329.8 629.2h0M335.0 627.7h0M330.0 628.1h0M331.3 630.1h0M333.5 626.9h0M326.8 629.8h0M330.8 626.3h0M327.7 625.5h0M331.4 628.3h0M326.0 628.3h0M334.4 626.2h0M332.2 627.5h0M326.5 628.9h0M335.4 628.8h0M333.5 625.3h0M333.4 630.8h0M327.0 627.6h0M334.5 629.3h0M329.5 631.1h0M331.5 628.1h0M331.5 628.4h0M333.7 629.9h0M330.3 629.9h0M327.4 627.1h0M335.4 629.5h0M328.4 627.4h0M327.4 630.1h0M331.9 629.8h0M329.5 624.6h0M328.9 626.4h0M329.2 626.7h0M328.8 630.5h0M325.4 626.9h0M331.1 626.6h0M332.2 629.7h0M328.9 629.4h0M328.3 627.5h0M331.0 628.0h0M333.4 626.1h0M332.2 628.3h0M347.3 635.8h0M340.9 634.3h0M343.4 632.7h0M341.4 634.9h0M345.4 636.1h0M344.8 636.3h0M338.9 631.7h0M346.7 634.1h0M343.9 632.1h0M345.0 636.1h0M342.7 635.5h0M344.1 635.4h0M342.2 632.6h0M341.9 635.4h0M340.8 633.9h0M345.1 636.9h0M347.6 636.1h0M347.7 636.6h0M343.2 631.1h0M344.2 636.5h0M341.5 630.9h0M340.9 634.7h0M345.7 635.3h0M344.6 634.5h0M342.9 635.5h0M339.3 633.6h0M343.1 635.2h0M348.8 634.6h0M338.6 631.9h0M340.3 631.8h0M345.0 636.5h0M347.0 634.8h0M347.7 636.5h0M347.1 636.1h0M343.9 634.2h0M343.5 633.9h0M345.0 633.7h0M341.6 630.7h0M343.3 634.8h0M344.6 635.3h0M342.1 631.8h0M343.7 631.4h0M348.8 635.2h0M346.3 632.8h0M344.7 635.2h0M342.7 634.8h0M338.7 631.7h0M344.3 633.8h0M345.7 634.1h0M345.5 633.4h0M345.7 637.1h0M348.8 635.2h0M349.3 635.9h0M331.7 647.6h0M333.1 648.0h0M326.9 645.3h0M331.8 641.8h0M329.7 649.2h0M329.0 646.4h0M326.8 646.4h0M332.7 645.5h0M329.6 650.9h0M332.6 648.7h0M328.4 641.4h0M332.5 646.3h0M330.6 644.5h0M331.0 643.3h0M331.9 647.3h0M332.2 645.1h0M331.0 643.9h0M329.3 642.7h0M329.8 645.3h0M329.7 647.2h0M328.7 645.7h0M331.3 649.7h0M330.7 645.5h0M330.3 645.4h0M332.2 645.4h0M330.3 648.1h0M332.2 642.6h0M331.2 643.0h0M332.5 642.9h0M330.7 645.6h0M330.8 642.7h0M330.5 651.1h0M328.7 643.7h0M330.9 648.1h0M331.5 647.2h0M330.0 649.8h0M327.5 642.6h0M332.6 643.2h0M328.0 643.9h0M330.9 643.1h0M329.3 647.5h0M332.9 647.6h0M330.4 641.7h0M287.0 636.0h0M289.2 634.4h0M289.9 635.5h0M290.1 635.5h0M283.7 635.2h0M287.6 635.1h0M285.0 636.1h0M284.8 634.8h0M288.1 634.3h0M288.3 635.3h0M289.4 635.5h0M286.0 633.7h0M284.8 636.1h0M286.4 635.5h0M287.7 633.9h0M287.8 636.2h0M284.4 636.2h0M283.2 634.5h0M284.9 635.8h0M286.8 634.1h0M289.0 635.1h0M288.4 635.0h0" stroke="#d3d3d3" stroke-width="1.25" stroke-linecap="round" fill="none"/>
<path d="M327.8 661.1h0M300.2 652.3h0M270.2 667.6h0M328.0 609.2h0M311.9 615.8h0M306.5 610.5h0M313.6 604.5h0M328.1 613.6h0M314.4 616.4h0M317.0 605.1h0M315.1 611.2h0M310.2 606.1h0M314.1 617.9h0M322.4 607.8h0M313.6 607.2h0M327.3 614.7h0M319.6 602.3h0M313.9 619.1h0M314.0 605.1h0M317.3 619.5h0M305.3 616.4h0M312.9 620.3h0M310.0 619.8h0M314.3 619.2h0M311.2 613.3h0M305.2 614.5h0M263.4 643.3h0M260.4 643.0h0M269.3 644.2h0M380.1 634.7h0M401.5 642.4h0M291.8 599.0h0M340.1 632.2h0M342.9 631.7h0" stroke="#bab2db" stroke-width="1.25" stroke-linecap="round" fill="none"/>
<path d="M318.9 648.8h0M320.9 655.5h0M287.2 654.5h0M312.4 660.0h0M296.0 653.8h0M318.9 658.7h0M327.4 653.5h0M296.5 649.9h0M290.9 651.4h0M269.1 659.5h0M267.5 656.9h0M283.9 678.7h0M281.7 674.3h0M283.2 679.6h0M277.4 677.0h0M320.2 608.5h0M324.9 612.9h0M316.3 612.4h0M307.9 614.8h0M328.2 611.0h0M320.3 612.8h0M322.0 618.8h0M311.4 608.4h0M306.8 616.2h0M317.0 617.8h0M325.1 617.5h0M323.4 618.0h0M323.9 614.9h0M325.9 614.6h0M319.4 615.5h0M316.8 612.7h0M308.4 609.3h0M321.8 612.8h0M322.0 618.6h0M307.2 611.7h0M328.3 611.0h0M322.8 617.1h0M322.9 601.7h0M312.0 610.1h0M313.4 617.3h0M326.0 614.1h0M321.0 618.0h0M310.9 605.4h0M322.7 615.2h0M310.8 603.3h0M316.8 621.5h0M314.3 611.7h0M306.7 608.8h0M313.6 620.0h0M319.3 608.5h0M311.7 610.4h0M312.8 609.0h0M317.0 620.6h0M319.4 615.1h0M306.5 614.7h0M309.7 620.2h0M310.6 613.5h0M315.1 614.4h0M317.4 619.9h0M317.3 621.1h0M310.5 621.2h0M306.6 607.1h0M323.0 602.8h0M308.1 608.7h0M314.9 617.8h0M318.8 601.1h0M309.2 607.9h0M303.8 612.1h0M325.0 604.8h0M325.6 611.3h0M327.2 614.6h0M327.7 614.2h0M313.0 602.2h0M313.5 620.5h0M312.7 616.2h0M307.2 611.4h0M312.0 615.9h0M327.3 605.2h0M313.0 607.8h0M318.6 601.2h0M308.8 605.2h0M305.3 613.9h0M317.4 601.6h0M322.7 622.3h0M319.7 623.2h0M322.7 619.3h0M317.9 620.3h0M320.6 620.7h0M321.7 623.1h0M354.5 613.5h0M355.9 614.6h0M358.0 612.6h0M269.4 644.0h0M264.2 643.2h0M260.6 645.0h0M263.5 645.6h0M264.6 644.5h0M263.1 644.4h0M259.8 643.1h0M268.4 643.1h0M379.0 635.3h0M400.9 643.0h0M399.1 640.5h0M292.7 600.2h0M292.4 597.5h0M292.9 599.1h0M294.9 598.4h0M316.5 628.4h0M315.2 629.9h0M318.2 626.6h0M314.5 630.9h0M330.2 642.6h0" stroke="#9f91e3" stroke-width="1.25" stroke-linecap="round" fill="none"/>
<path d="M322.3 666.8h0M290.0 648.0h0M290.3 658.5h0M311.9 660.9h0M307.0 648.5h0M296.6 657.2h0M314.4 647.3h0M297.8 653.7h0M267.2 665.0h0M272.9 667.1h0M276.1 675.2h0M275.3 676.3h0M300.1 672.9h0M275.9 677.9h0M295.7 677.1h0M287.1 673.2h0M273.9 668.6h0M309.4 615.3h0M314.7 620.5h0M311.9 612.1h0M323.3 612.4h0M315.2 605.3h0M310.6 616.3h0M307.8 610.9h0M308.6 607.6h0M312.5 614.4h0M312.4 611.3h0M304.9 614.0h0M328.2 606.7h0M313.0 621.4h0M321.9 612.1h0M327.8 614.4h0M322.8 604.1h0M319.2 606.7h0M318.8 613.3h0M321.0 609.6h0M310.9 610.5h0M316.5 617.6h0M309.2 616.0h0M306.3 607.7h0M315.6 611.9h0M312.8 611.8h0M310.5 610.5h0M313.9 609.6h0M322.1 618.4h0M315.1 607.1h0M307.4 618.0h0M308.1 616.3h0M306.1 613.7h0M307.1 619.2h0M304.6 615.5h0M310.0 615.3h0M309.9 615.3h0M323.2 618.3h0M318.8 616.3h0M326.5 604.9h0M311.9 607.3h0M315.0 603.0h0M308.8 604.8h0M308.4 618.7h0M313.9 609.2h0M327.2 608.0h0M309.3 614.4h0M312.1 620.9h0M316.4 621.0h0M325.2 605.8h0M315.4 606.1h0M307.2 615.1h0M322.5 604.0h0M327.2 613.6h0M328.0 613.7h0M306.3 609.4h0M317.9 608.0h0M327.0 613.3h0M320.4 608.6h0M310.8 618.1h0M311.3 603.0h0M310.8 621.1h0M317.2 604.4h0M311.7 618.3h0M314.7 605.6h0M318.3 613.3h0M321.3 617.0h0M325.9 617.1h0M314.3 604.0h0M320.4 619.3h0M324.2 607.7h0M322.1 607.4h0M322.0 617.1h0M321.3 603.6h0M317.3 603.6h0M311.4 603.2h0M329.4 609.3h0M323.6 608.7h0M305.3 616.4h0M306.4 614.7h0M312.1 612.2h0M309.6 613.5h0M325.9 603.8h0M319.3 605.3h0M312.3 619.2h0M319.8 618.3h0M323.7 620.0h0M319.9 621.3h0M320.7 623.0h0M318.9 619.7h0M318.4 623.8h0M344.2 620.0h0M350.7 620.2h0M348.7 615.1h0M263.1 643.0h0M268.3 643.5h0M264.3 645.6h0M263.5 645.5h0M258.8 644.3h0M264.9 642.6h0M260.6 644.9h0M269.3 643.3h0M391.8 636.3h0M390.5 636.4h0M293.6 599.2h0M292.7 598.7h0M294.3 599.0h0M294.4 597.8h0M321.8 627.1h0M328.1 648.9h0" stroke="#8370ea" stroke-width="1.25" stroke-linecap="round" fill="none"/>
<path d="M322.3 651.3h0M322.2 603.9h0M305.3 618.5h0M307.9 608.2h0M323.1 607.4h0M321.8 604.9h0M317.4 616.6h0M321.5 619.1h0M323.8 625.1h0M354.5 626.2h0M263.0 644.0h0M314.1 628.3h0" stroke="#644ff2" stroke-width="1.25" stroke-linecap="round" fill="none"/>
<path d="M361.9 648.7h0M350.2 664.9h0M349.9 652.6h0M342.4 653.4h0M353.7 664.9h0M352.2 662.9h0M354.2 649.1h0M368.6 670.8h0M366.2 650.4h0M375.6 655.3h0M376.4 658.0h0M362.0 660.4h0M347.2 662.3h0M357.1 659.1h0M368.5 666.7h0M361.5 647.7h0M358.9 654.0h0M380.9 667.1h0M354.5 657.3h0M352.6 651.5h0M354.9 656.0h0M360.5 647.5h0M372.7 671.3h0M358.5 652.0h0M349.8 664.2h0M346.9 658.9h0M375.1 651.3h0M354.5 651.6h0M372.0 663.0h0M375.5 656.5h0M350.6 660.5h0M351.2 649.3h0M343.2 661.4h0M367.0 668.1h0M363.5 659.4h0M373.9 657.1h0M367.2 659.7h0M360.4 672.2h0M349.8 662.0h0M379.6 674.6h0M377.4 665.1h0M373.4 673.8h0M367.7 666.0h0" stroke="#d3d3d3" stroke-width="1.5" stroke-linecap="round" fill="none"/>
<path d="M362.2 661.8h0M349.3 656.3h0M365.9 668.3h0M366.6 648.8h0M343.2 653.4h0M362.4 663.2h0M362.2 653.5h0M374.2 660.0h0M343.9 658.0h0M348.3 648.9h0M365.3 658.8h0M352.1 650.5h0M351.8 667.0h0M375.0 658.2h0M356.9 646.5h0M381.7 664.2h0M351.7 647.3h0M350.3 661.7h0M344.5 655.9h0M355.1 662.5h0M365.2 663.2h0M344.1 658.3h0M357.8 667.3h0M364.4 671.3h0M354.2 661.7h0M367.2 655.8h0M374.2 672.0h0M368.2 673.2h0M351.2 654.2h0M366.9 664.8h0M372.2 654.0h0M354.1 653.1h0M365.0 671.2h0M347.9 666.4h0M352.3 667.8h0M378.3 659.7h0M345.6 653.4h0M375.3 668.0h0M376.4 664.8h0M364.0 660.0h0M370.0 648.8h0M365.2 660.0h0M364.7 657.8h0M353.1 656.3h0M362.8 654.6h0M348.9 659.0h0M371.5 657.1h0M344.5 660.9h0M366.0 651.3h0M349.3 659.5h0M368.1 661.8h0M376.3 666.2h0M379.1 656.8h0M380.5 659.4h0M355.5 656.7h0M376.2 660.6h0M374.2 660.1h0M356.1 657.0h0M360.0 648.0h0M364.8 667.1h0M348.8 655.7h0M370.1 649.7h0M363.0 662.3h0M352.1 662.5h0M373.8 663.4h0M374.0 655.5h0M367.1 649.2h0M344.1 659.3h0M351.5 652.4h0M376.3 659.7h0M354.9 658.8h0M360.4 655.4h0M365.3 659.8h0M349.5 660.4h0M355.9 648.1h0M370.7 663.6h0M380.1 662.5h0M342.6 654.6h0M346.1 661.7h0M349.1 663.1h0M380.6 668.1h0M350.0 662.0h0M380.8 660.1h0M355.2 665.5h0M377.7 664.0h0M346.7 649.1h0M375.1 660.6h0M346.0 664.0h0M359.7 664.5h0M346.8 652.5h0M373.0 655.2h0M365.4 659.2h0M368.7 655.5h0M356.9 662.5h0M373.3 657.8h0M347.0 652.0h0M360.9 666.9h0M375.3 665.9h0M346.5 662.4h0M366.6 654.3h0M375.0 665.6h0M366.5 656.0h0M372.0 652.5h0M361.8 656.9h0M366.4 665.6h0M374.2 672.2h0M358.0 646.3h0M369.2 672.1h0M347.3 654.0h0M357.2 666.3h0M346.6 656.3h0M353.2 651.6h0M363.3 651.8h0M351.2 667.8h0M367.7 672.7h0M356.1 662.1h0M359.8 659.5h0M350.1 664.3h0M353.0 658.2h0M364.6 651.5h0M370.0 662.1h0M376.4 654.2h0M351.6 656.3h0M344.7 649.7h0M352.1 659.1h0M374.3 670.4h0M359.0 665.2h0M362.2 648.0h0M366.4 653.6h0M358.0 669.9h0M377.0 665.8h0M378.8 662.9h0M355.7 666.9h0M351.7 652.5h0M350.9 650.0h0M373.0 656.1h0M372.0 668.1h0M353.4 664.4h0M366.3 648.5h0M355.2 655.5h0M351.9 662.4h0M341.9 657.5h0M370.8 650.7h0M360.2 656.0h0M358.6 657.8h0M347.4 657.7h0M370.5 663.1h0M345.0 652.2h0M344.0 654.4h0M356.9 651.4h0M351.0 665.3h0M371.8 654.8h0M353.5 667.5h0M369.4 666.4h0M358.5 652.7h0M374.5 671.6h0M365.8 658.3h0M347.8 652.2h0M371.3 654.6h0M370.3 662.8h0M377.3 654.0h0M369.2 655.2h0M347.7 665.4h0M362.4 657.2h0M368.2 664.3h0M350.3 668.0h0M354.9 664.3h0M374.3 669.9h0M366.9 669.1h0M356.0 661.5h0M357.9 652.3h0M346.8 650.8h0M342.1 654.1h0M359.7 653.9h0M351.5 654.1h0M368.9 657.9h0M369.9 659.3h0M366.2 662.4h0M366.3 647.9h0M373.6 657.5h0M350.1 664.4h0M360.3 659.9h0M344.4 656.1h0M361.8 670.2h0M359.6 648.0h0M364.7 670.9h0M362.9 646.6h0M357.1 653.1h0M365.5 665.5h0M370.8 660.8h0M358.6 650.3h0M373.3 658.6h0M357.2 666.7h0M370.1 660.3h0M371.9 664.8h0M360.3 654.6h0M346.3 651.5h0M370.6 657.5h0M351.3 653.0h0M348.4 652.9h0M346.5 657.0h0M361.9 647.3h0M379.4 654.7h0M346.0 663.6h0M348.0 656.5h0M344.2 652.3h0M359.5 653.3h0M374.1 656.1h0M365.1 657.5h0M363.7 652.5h0M358.4 653.0h0M375.3 660.9h0M342.9 657.6h0M360.8 657.3h0M369.1 662.6h0M344.5 661.2h0M351.2 652.3h0M357.4 660.1h0M375.7 652.3h0M365.0 661.6h0M349.8 657.0h0M355.6 651.0h0M353.2 657.3h0M366.3 671.8h0M375.3 670.6h0M364.5 651.9h0M361.6 660.8h0M365.0 665.2h0M366.4 663.6h0M356.7 653.8h0M370.1 660.3h0M352.4 656.2h0M352.4 657.4h0M374.3 663.7h0M355.6 670.8h0M358.1 654.5h0M372.6 669.8h0M364.7 666.6h0M359.4 667.2h0M376.9 669.4h0M359.2 646.5h0M356.6 649.4h0M363.7 661.6h0M349.5 651.5h0M377.1 662.5h0M374.1 659.9h0M363.2 651.1h0M360.5 662.3h0M362.0 654.9h0M381.5 657.4h0M359.6 671.8h0M344.5 659.7h0M355.8 659.3h0M363.9 656.6h0M345.5 654.9h0M349.6 666.9h0M361.8 671.3h0M369.2 669.6h0M376.9 658.1h0M354.0 665.1h0M362.4 671.4h0M358.7 654.5h0M370.5 662.1h0M348.5 659.7h0M367.3 672.7h0M352.6 668.3h0M380.5 667.5h0M374.3 655.9h0M380.2 668.0h0M365.4 672.1h0M380.9 657.7h0M347.6 656.9h0M351.6 662.5h0M372.6 666.2h0M362.3 648.9h0M369.3 664.4h0M364.7 647.1h0M345.5 652.0h0M363.8 649.2h0M355.7 668.1h0M371.5 660.5h0M357.4 656.4h0M361.8 654.3h0M368.2 658.6h0M352.5 664.2h0M378.6 662.6h0M349.3 663.2h0M343.0 652.0h0M369.1 653.8h0M357.4 660.6h0M369.5 668.4h0M375.3 658.2h0M377.7 668.0h0M351.7 664.8h0M362.3 671.7h0M354.6 664.4h0M346.2 649.8h0M369.2 666.4h0M354.3 648.6h0M373.1 668.8h0M380.1 656.6h0M362.7 654.5h0M358.0 666.7h0M357.4 667.0h0M349.8 652.2h0M364.2 669.7h0M353.5 651.5h0M354.0 659.7h0M355.5 647.2h0M364.3 654.9h0M366.5 664.9h0M371.8 672.6h0M378.6 670.7h0M372.6 668.7h0M369.5 662.3h0M379.2 665.9h0M371.8 671.4h0M370.4 665.9h0M378.8 667.2h0M368.9 672.7h0M377.9 674.4h0M370.8 662.4h0M371.1 673.9h0M381.2 669.1h0M371.4 674.2h0M378.6 674.4h0M367.7 664.9h0M374.8 672.8h0M377.1 673.9h0M371.2 662.0h0M381.1 671.1h0M369.8 663.1h0M368.9 667.9h0M371.5 662.3h0M375.4 667.8h0M378.3 666.6h0M371.3 670.3h0M372.5 664.7h0M375.9 675.3h0M370.0 665.6h0M379.5 667.3h0M381.9 668.7h0M379.5 665.3h0M374.1 666.0h0M374.2 675.8h0M379.8 664.9h0M367.0 664.3h0M370.2 668.0h0M375.0 672.0h0M369.5 665.0h0M375.0 666.2h0M366.6 667.1h0M379.1 664.9h0M382.4 671.1h0M380.7 674.4h0M368.6 666.3h0M373.1 666.9h0M371.5 669.5h0M373.2 666.0h0M378.0 675.5h0M371.8 664.7h0M368.0 667.3h0M374.8 665.8h0M367.2 664.1h0M367.8 663.9h0M372.3 671.9h0M379.4 666.7h0" stroke="#644ff2" stroke-width="1.5" stroke-linecap="round" fill="none"/>
<path d="M347.0 650.0h0M373.6 650.1h0M368.1 664.1h0M357.7 667.4h0M361.4 663.6h0M375.2 668.5h0M356.6 650.7h0M377.7 660.5h0M383.1 662.3h0M375.6 656.8h0M346.5 650.7h0M377.0 654.7h0M348.1 661.9h0M346.2 659.0h0M347.1 653.2h0M351.2 653.6h0M376.3 667.0h0M352.2 650.2h0M351.1 659.2h0M357.5 656.9h0M354.2 648.9h0M347.5 661.4h0M368.7 655.3h0M363.2 647.9h0M368.0 651.1h0M354.1 667.8h0M360.2 665.1h0M357.1 665.9h0M368.5 657.9h0M372.7 659.2h0M371.7 664.1h0M343.5 661.2h0M342.3 656.8h0M353.0 661.8h0M352.4 647.9h0M378.3 668.0h0M357.5 668.7h0M379.1 660.8h0M355.5 648.7h0M362.0 653.3h0M352.5 666.0h0M370.7 663.6h0M352.6 664.7h0M378.0 656.6h0M363.6 651.2h0M373.6 653.8h0M376.3 671.2h0M381.2 663.5h0M370.8 653.8h0M362.8 666.8h0M365.2 647.5h0M361.7 665.3h0M381.1 664.3h0M350.7 657.1h0M368.1 661.6h0M348.0 665.1h0M381.8 665.3h0M367.5 652.8h0M351.6 649.2h0M355.7 660.9h0M364.2 658.2h0M357.9 655.9h0M370.4 670.0h0M352.0 668.1h0M350.1 662.3h0M355.2 646.7h0M377.1 653.3h0M357.2 663.1h0M367.3 671.9h0M361.0 666.0h0M361.4 664.2h0M367.7 651.4h0M351.4 648.6h0M363.6 657.9h0M370.0 648.4h0M368.5 670.4h0M352.1 647.7h0M366.3 647.5h0M376.8 671.5h0M368.5 658.5h0M366.6 660.7h0M349.7 667.1h0M370.8 669.2h0M374.6 651.2h0M370.5 657.3h0M368.7 663.0h0M364.6 657.1h0M365.7 666.8h0M349.4 666.9h0M381.4 666.4h0M381.5 662.5h0M358.4 652.6h0M368.5 662.7h0M346.5 662.1h0M355.3 668.3h0M359.7 658.2h0M360.5 670.7h0M372.0 661.2h0M369.4 651.0h0M368.0 659.8h0M359.0 663.1h0M366.5 658.4h0M358.2 652.2h0M369.7 663.2h0M353.5 655.1h0M370.3 650.9h0M363.7 663.4h0M370.4 670.7h0M371.6 656.5h0M346.4 649.9h0M370.5 666.9h0M355.1 663.6h0M359.5 648.4h0M355.6 654.9h0M353.0 653.2h0M358.9 655.5h0M349.4 657.7h0M374.6 663.8h0M347.3 662.4h0M380.9 668.5h0M369.7 672.2h0M344.3 658.2h0M359.2 654.3h0M370.3 667.2h0M380.3 661.9h0M375.6 660.9h0M361.6 649.7h0M359.6 649.8h0M345.5 649.8h0M344.6 653.6h0M350.9 650.5h0M354.4 658.6h0M375.8 662.5h0M349.9 666.6h0M363.7 652.3h0M375.8 660.0h0M363.5 660.2h0M370.6 664.5h0M350.6 647.1h0M356.7 651.5h0M374.7 671.4h0M374.2 651.8h0M361.9 658.5h0M380.8 666.7h0M378.0 655.8h0M364.1 660.6h0M355.9 652.6h0M346.2 649.9h0M355.4 662.6h0M357.8 670.8h0M376.9 655.5h0M354.4 649.3h0M380.6 666.0h0M372.9 657.8h0M375.9 665.6h0M380.5 662.3h0M362.1 646.4h0M357.0 663.4h0M368.4 664.0h0M354.9 661.5h0M378.9 665.2h0M346.2 660.9h0M382.6 665.3h0M369.8 653.3h0M352.5 668.4h0M357.0 657.0h0M363.9 661.5h0M344.6 663.5h0M351.0 667.1h0M351.2 658.5h0M370.4 656.4h0M368.0 667.4h0M350.2 655.4h0M367.6 652.1h0M364.9 653.8h0M371.5 649.5h0M371.5 668.7h0M359.2 656.8h0M362.5 670.4h0M363.4 660.4h0M357.0 668.9h0M371.5 664.5h0M374.3 657.4h0M369.3 649.7h0M363.3 656.9h0M342.6 659.4h0M365.3 653.2h0M355.2 654.7h0M366.9 670.5h0M349.3 662.6h0M362.6 670.4h0M343.9 662.4h0M369.1 649.0h0M377.5 659.6h0M363.6 651.0h0M349.2 659.5h0M373.1 657.3h0M373.8 652.7h0M363.1 648.3h0M352.3 651.6h0M373.3 654.2h0M351.0 649.3h0M367.4 668.6h0M377.9 666.0h0M379.1 668.4h0M352.3 660.5h0M366.8 648.4h0M368.1 655.2h0M346.8 649.5h0M374.8 656.0h0M359.2 665.4h0M354.8 669.0h0M363.9 663.8h0M355.6 661.9h0M360.4 668.2h0M368.8 654.1h0M358.2 665.7h0M372.4 670.0h0M350.4 658.4h0M365.1 666.0h0M363.0 669.7h0M351.6 647.2h0M342.5 654.0h0M360.2 657.3h0M376.4 656.2h0M349.1 650.8h0M350.5 649.7h0M347.1 660.5h0M344.9 652.4h0M358.8 650.9h0M360.3 665.9h0M359.4 653.2h0M352.9 650.3h0M357.9 653.9h0M381.7 667.6h0M371.7 650.1h0M355.7 665.2h0M349.0 657.2h0M350.5 648.3h0M350.9 655.5h0M379.6 656.1h0M371.4 658.2h0M355.2 668.9h0M359.1 649.3h0M381.6 660.8h0M359.9 651.7h0M369.6 648.8h0M366.8 650.8h0M372.7 655.8h0M349.4 661.1h0M379.6 656.9h0M355.7 648.5h0M356.5 655.8h0M358.9 654.9h0M366.3 659.7h0M378.3 665.5h0M351.5 661.1h0M349.7 655.2h0M356.3 659.9h0M359.4 656.4h0M347.3 655.6h0M351.6 649.3h0M361.2 663.2h0M363.7 663.2h0M362.8 668.5h0M383.1 660.5h0M353.3 662.8h0M372.6 663.1h0M357.4 649.5h0M344.6 660.2h0M346.7 654.0h0M373.9 662.0h0M346.0 664.9h0M352.2 656.9h0M372.6 657.6h0M353.9 664.2h0M370.3 664.9h0M374.2 670.7h0M363.1 671.5h0M368.7 658.4h0M342.3 659.8h0M352.1 662.9h0M354.2 654.4h0M365.6 667.5h0M383.2 662.1h0M382.2 658.1h0M364.6 649.8h0M367.6 651.3h0M351.3 656.0h0M376.0 660.3h0M343.8 655.8h0M357.9 667.2h0M374.0 653.9h0M361.5 667.6h0M373.1 668.7h0M356.3 666.0h0M381.9 662.1h0M372.7 655.5h0M358.7 655.0h0M380.5 659.5h0M374.5 654.9h0M372.3 663.4h0M372.2 653.4h0M356.7 656.1h0M361.0 671.3h0M347.7 665.8h0M353.4 663.9h0M373.2 653.7h0M351.9 661.4h0M382.3 660.0h0M350.3 652.4h0M370.4 653.9h0M364.7 670.5h0M362.2 661.3h0M368.1 659.6h0M365.7 662.9h0M357.9 671.5h0M356.0 667.6h0M375.6 667.0h0M376.4 668.9h0M379.7 655.9h0M374.5 662.5h0M375.4 670.3h0M377.2 654.1h0M344.3 650.5h0M348.8 647.2h0M355.5 667.0h0M349.4 659.5h0M369.4 655.4h0M380.1 667.2h0M355.2 655.1h0M359.0 657.4h0M359.8 670.7h0M354.7 662.9h0M351.0 658.5h0M351.1 666.5h0M351.2 666.0h0M381.3 661.5h0M363.3 648.0h0M360.6 653.1h0M352.6 662.1h0M371.4 655.0h0M361.3 649.3h0M380.6 657.7h0M373.5 671.9h0M366.0 661.7h0M341.8 657.5h0M362.2 655.7h0M362.3 654.5h0M368.9 664.1h0M344.8 653.7h0M366.0 666.9h0M363.8 660.7h0M344.4 662.4h0M354.2 657.5h0M364.4 654.5h0M381.9 665.4h0M357.9 661.3h0M362.2 646.2h0M346.6 648.8h0M355.5 657.3h0M359.8 669.7h0M362.5 655.7h0M359.9 657.5h0M344.1 655.3h0M372.9 662.0h0M342.7 651.7h0M366.4 663.0h0M354.8 657.4h0M352.4 661.6h0M377.4 658.9h0M373.5 666.3h0M361.8 670.8h0M372.9 660.1h0M373.8 659.2h0M362.2 670.8h0M351.1 654.1h0M361.7 668.4h0M360.5 655.7h0M356.0 665.2h0M348.1 657.9h0M349.5 652.0h0M366.1 659.9h0M372.5 655.0h0M367.2 654.2h0M358.9 661.7h0M352.1 666.1h0M369.6 651.2h0M351.4 666.2h0M373.5 656.1h0M365.7 653.7h0M347.3 655.0h0M366.7 661.8h0M354.9 665.2h0M351.7 655.3h0M380.9 664.6h0M367.8 650.7h0M372.3 650.5h0M365.7 651.9h0M364.6 656.1h0M371.6 659.7h0M381.7 666.3h0M342.6 653.9h0M360.2 671.3h0M362.8 661.7h0M377.0 660.9h0M352.0 659.0h0M364.7 655.7h0M375.4 658.5h0M355.4 653.0h0M370.7 666.4h0M353.8 649.6h0M353.8 665.0h0M358.9 652.8h0M360.5 647.2h0M353.0 668.6h0M346.2 659.9h0M359.8 648.5h0M350.1 668.0h0M346.7 656.0h0M373.2 663.1h0M352.8 663.9h0M380.1 664.3h0M366.7 655.1h0M360.1 661.6h0M348.8 663.9h0M368.3 657.5h0M377.9 665.8h0M355.9 648.9h0M368.3 651.8h0M359.5 670.1h0M341.8 653.9h0M368.2 660.0h0M360.8 662.8h0M362.9 648.4h0M376.7 656.2h0M363.2 657.7h0M362.2 658.9h0M363.7 655.6h0M374.3 670.8h0M368.2 669.0h0M377.2 654.7h0M342.6 654.5h0M364.3 671.1h0M343.3 658.9h0M379.2 658.9h0M348.1 660.9h0M370.1 651.5h0M374.9 650.9h0M376.0 670.3h0M368.3 660.8h0M376.6 656.0h0M381.0 658.8h0M357.1 652.1h0M349.5 658.2h0M352.9 652.3h0M356.3 658.6h0M359.6 656.2h0M351.7 655.9h0M358.5 663.4h0M373.0 663.8h0M360.9 672.4h0M365.7 652.0h0M373.1 657.5h0M358.4 670.6h0M346.2 648.9h0M357.5 662.2h0M361.4 661.6h0M348.0 650.4h0M348.4 665.6h0M360.8 658.3h0M354.7 668.1h0M358.8 662.6h0M354.5 663.1h0M343.7 656.7h0M373.6 671.5h0M372.2 664.2h0M350.8 661.9h0M364.7 661.3h0M352.7 658.7h0M363.7 659.7h0M347.8 658.9h0M361.6 649.7h0M376.9 660.1h0M354.1 653.4h0M356.2 662.1h0M373.3 672.1h0M349.1 661.4h0M371.9 657.6h0M350.2 659.4h0M356.3 656.2h0M373.0 654.7h0M342.4 659.4h0M363.7 662.1h0M350.6 650.2h0M368.1 666.3h0M355.3 656.7h0M353.3 658.7h0M357.5 654.4h0M377.1 662.6h0M376.9 670.2h0M370.5 661.7h0M359.6 655.8h0M374.0 665.8h0M378.1 676.1h0M381.6 673.7h0M376.0 667.0h0M369.7 664.6h0M372.6 674.5h0M375.4 670.8h0M369.6 665.7h0M376.2 667.6h0M374.9 671.2h0M381.7 668.4h0M375.9 671.5h0M376.2 668.2h0M371.9 664.2h0M379.9 674.7h0M371.8 664.3h0M377.3 668.8h0M377.9 670.9h0M372.5 668.3h0M382.9 671.9h0M374.1 663.5h0M373.2 674.5h0M369.5 666.1h0M371.8 672.6h0M379.2 673.3h0M372.2 661.9h0M377.1 663.6h0M380.0 673.5h0M372.5 668.5h0M371.2 670.2h0M370.3 665.0h0M371.7 668.9h0M373.2 674.1h0M373.9 675.6h0M369.6 664.7h0M377.9 667.7h0M371.7 665.3h0M376.4 667.7h0M379.6 667.9h0M372.8 671.3h0M378.5 670.8h0M369.1 667.6h0M375.2 664.7h0M377.6 671.9h0M367.5 664.4h0M378.4 674.0h0M372.9 673.4h0M375.0 663.5h0M374.0 673.6h0M374.5 663.3h0M375.7 673.1h0M380.1 673.1h0M369.4 670.2h0M371.5 666.6h0M370.1 672.8h0M374.9 667.7h0M375.1 667.2h0M375.7 663.4h0M374.4 672.9h0M380.6 672.3h0M379.0 675.3h0M370.4 665.8h0M367.1 669.0h0M377.1 670.0h0M378.9 675.9h0M376.3 669.6h0M378.9 676.0h0M370.2 667.3h0M373.8 663.6h0M376.4 664.4h0M377.6 668.8h0M374.6 664.2h0M367.4 667.9h0M375.3 671.2h0M378.0 672.6h0M375.0 674.5h0M366.3 668.8h0M382.3 670.6h0M375.1 663.6h0M367.8 670.8h0M372.4 667.4h0M371.2 664.0h0M378.4 672.8h0M377.2 667.9h0M369.1 673.0h0M366.7 669.1h0M375.3 664.3h0M381.7 674.3h0M377.6 673.0h0" stroke="#412df8" stroke-width="1.5" stroke-linecap="round" fill="none"/>
<path d="M360.1 660.5h0M380.4 663.4h0M351.4 649.6h0M356.6 646.4h0M379.7 663.3h0M344.9 657.0h0M363.1 669.5h0M377.7 666.4h0M367.9 655.4h0M362.6 669.0h0M369.9 663.7h0M341.7 657.6h0M369.7 672.2h0M371.0 667.3h0M377.1 665.4h0M363.5 652.5h0M370.8 661.6h0M350.4 654.4h0M347.4 655.4h0M367.8 660.7h0M382.8 663.7h0M363.8 647.1h0M368.2 659.6h0M370.6 662.2h0M365.5 667.2h0M356.1 665.6h0M379.0 669.9h0M347.4 654.2h0M356.9 659.9h0M369.6 670.0h0M366.9 666.5h0M362.1 667.2h0M377.2 654.6h0M355.5 654.4h0M381.9 665.1h0M356.3 666.0h0M373.4 650.7h0M347.5 653.7h0M346.8 655.6h0M376.8 661.2h0M364.5 660.4h0M359.1 665.7h0M349.6 654.8h0M373.1 659.8h0M368.8 668.4h0M367.4 664.2h0M369.1 668.3h0M353.1 654.3h0M364.5 660.3h0M348.6 655.0h0M362.3 653.0h0M373.5 665.8h0M365.4 663.9h0M375.1 654.5h0M357.4 657.6h0M374.5 666.0h0M361.0 652.6h0M369.9 672.8h0M357.8 654.6h0M376.0 664.8h0M379.8 658.3h0M363.9 661.7h0M362.5 667.3h0M370.4 654.8h0M361.6 666.4h0M380.8 669.0h0M374.9 667.3h0M375.1 671.1h0M362.1 665.0h0M350.7 654.3h0M345.5 658.9h0M376.1 654.5h0M363.2 670.7h0M351.3 648.9h0M368.3 653.6h0M361.4 671.5h0M370.8 654.7h0M342.4 653.4h0M352.6 657.8h0M346.2 662.4h0M378.7 658.5h0M375.2 667.0h0M355.2 653.2h0M349.9 653.5h0M347.3 648.1h0M362.0 663.3h0M371.4 670.5h0M356.4 657.9h0M369.2 670.3h0M346.9 648.4h0M364.4 665.3h0M378.4 655.3h0M367.3 649.4h0M357.0 660.5h0M348.4 652.7h0M358.6 671.8h0M358.2 646.6h0M359.2 654.8h0M347.1 665.6h0M374.1 663.1h0M365.6 647.8h0M350.6 664.4h0M365.1 661.4h0M367.4 661.5h0M371.9 668.3h0M344.0 651.9h0M354.7 662.6h0M355.9 654.6h0M370.7 666.2h0M349.8 648.2h0M359.3 655.6h0M379.5 656.7h0M354.9 653.3h0M363.2 668.0h0M366.8 671.9h0M366.4 672.8h0M345.0 651.7h0M355.4 657.5h0M347.5 659.9h0M354.4 646.4h0M364.2 672.2h0M367.0 664.0h0M379.1 660.8h0M355.5 653.9h0M359.8 651.8h0M347.5 658.8h0M361.7 661.0h0M353.3 650.3h0M365.6 650.3h0M375.5 660.1h0M373.1 655.7h0M370.8 659.6h0M364.4 659.5h0M358.5 653.3h0M380.1 659.1h0M358.5 671.8h0M354.5 657.7h0M367.5 653.5h0M356.5 670.3h0M376.4 666.7h0M370.7 660.4h0M359.5 651.4h0M363.9 652.7h0M374.8 663.1h0M352.4 660.7h0M375.4 671.9h0M376.6 669.4h0M348.8 660.4h0M351.7 646.6h0M357.0 670.3h0M355.8 663.7h0M375.1 666.9h0M357.3 662.3h0M375.3 651.7h0M347.7 659.5h0M350.2 664.6h0M370.2 669.0h0M346.9 654.5h0M343.7 650.5h0M375.7 656.2h0M351.1 655.1h0M365.2 659.1h0M370.8 667.4h0M366.1 669.8h0M366.3 670.9h0M380.6 666.2h0M357.5 656.3h0M353.7 646.3h0M358.4 653.4h0M363.3 672.1h0M356.3 660.5h0M361.5 666.1h0M353.7 651.0h0M378.1 661.1h0M352.8 665.5h0M371.5 649.0h0M374.6 661.1h0M347.8 650.7h0M351.6 668.8h0M364.5 647.4h0M366.9 672.2h0M361.0 664.2h0M366.2 661.0h0M377.7 659.7h0M351.0 662.6h0M356.0 663.6h0M361.8 672.1h0M379.8 662.9h0M363.8 652.6h0M357.9 648.9h0M376.2 655.6h0M372.9 664.5h0M371.3 658.2h0M355.6 663.8h0M366.3 656.4h0M371.9 650.5h0M342.5 656.0h0M366.2 649.1h0M364.7 648.8h0M348.7 650.4h0M354.3 662.7h0M374.9 667.9h0M371.1 670.1h0M348.9 666.1h0M351.4 647.1h0M349.8 666.2h0M360.3 649.1h0M342.3 654.1h0M347.7 665.7h0M346.2 660.9h0M381.5 663.3h0M347.3 661.8h0M361.4 663.3h0M355.9 653.9h0M358.8 659.6h0M373.6 655.3h0M382.5 659.1h0M352.4 658.8h0M374.2 670.6h0M351.5 665.7h0M351.8 649.0h0M349.0 667.2h0M379.5 667.9h0M371.8 672.1h0M356.4 651.7h0M364.2 659.2h0M371.3 660.7h0M371.0 660.1h0M347.5 653.5h0M363.9 666.4h0M363.5 657.3h0M350.5 664.1h0M357.3 662.7h0M367.8 665.5h0M360.9 672.0h0M375.2 656.4h0M367.3 648.0h0M349.2 650.8h0M352.8 656.6h0M364.7 663.0h0M378.6 668.6h0M352.1 653.0h0M362.9 658.8h0M363.5 660.7h0M355.7 649.4h0M376.1 672.8h0M380.0 672.4h0M378.0 665.0h0M378.2 667.6h0M373.3 664.7h0M379.9 667.4h0M372.8 672.0h0M377.2 666.6h0M368.2 668.7h0M375.9 667.9h0M368.6 666.6h0M376.6 674.5h0M374.8 675.6h0M378.3 675.2h0M377.9 665.4h0M371.0 668.6h0M374.5 666.2h0M379.7 666.8h0M376.8 669.8h0M374.6 669.2h0M372.6 672.5h0M379.5 666.7h0M369.9 672.2h0M368.7 671.9h0M369.0 668.0h0M370.2 669.9h0M367.3 664.9h0M376.6 674.1h0M372.5 666.6h0M376.1 673.3h0M379.6 671.9h0M381.2 674.5h0M372.1 669.8h0M371.8 669.6h0M369.0 669.7h0M374.7 673.7h0M373.8 664.0h0M369.6 672.5h0M379.8 673.1h0M375.5 668.3h0" stroke="#0000ff" stroke-width="1.5" stroke-linecap="round" fill="none"/>
<g stroke="#151c1c" stroke-width="1.1"><path d="M641.2 557.4L529.4 565.6"/><path d="M605 622L557.1 655"/><path d="M653.6 595.7L529.4 565.6"/><path d="M529.4 565.6L557.1 655"/><path d="M529.4 565.6L510.3 622"/><path d="M614.6 527.3L557.1 607.1"/><path d="M653.6 595.7L557.1 655"/><path d="M641.2 557.4L510.3 622"/><path d="M653.6 595.7L510.3 622"/><path d="M539.4 513.1L467.7 634.8"/><path d="M464.1 595.7L510.3 622"/><path d="M649.4 634.8L587.3 565.6"/><path d="M529.4 565.6L605 622"/><path d="M641.2 557.4L605 622"/><path d="M502.1 527.3L529.4 565.6"/><path d="M475.5 557.4L557.1 607.1"/><path d="M557.1 607.1L557.1 655"/><path d="M557.1 607.1L510.3 622"/><path d="M502.1 527.3L557.1 655"/><path d="M653.6 595.7L587.3 565.6"/><path d="M529.4 565.6L587.3 565.6"/><path d="M464.1 595.7L605 622"/><path d="M467.7 634.8L614.6 527.3"/><path d="M519.8 693L605 622"/><path d="M587.3 565.6L557.1 655"/><path d="M587.3 565.6L510.3 622"/><path d="M464.1 595.7L587.3 565.6"/><path d="M529.4 565.6L557.1 607.1"/><path d="M510.3 622L557.1 655"/><path d="M557.1 607.1L605 622"/><path d="M597.9 693L529.4 565.6"/><path d="M519.8 693L587.3 565.6"/><path d="M502.1 527.3L605 622"/><path d="M539.4 513.1L529.4 565.6"/><path d="M539.4 513.1L653.6 595.7"/><path d="M597.9 693L510.3 622"/><path d="M467.7 634.8L529.4 565.6"/><path d="M539.4 513.1L557.1 655"/><path d="M587.3 565.6L605 622"/><path d="M597.9 693L605 622"/><path d="M510.3 622L605 622"/><path d="M519.8 693L557.1 607.1"/><path d="M467.7 634.8L510.3 622"/><path d="M502.1 527.3L557.1 607.1"/><path d="M578.4 513.1L529.4 565.6"/><path d="M561.7 704L557.1 655"/><path d="M487.9 669.2L557.1 655"/><path d="M578.4 513.1L557.1 655"/><path d="M597.9 693L587.3 565.6"/><path d="M539.4 513.1L587.3 565.6"/><path d="M653.6 595.7L649.4 634.8"/><path d="M597.9 693L467.7 634.8"/><path d="M587.3 565.6L557.1 607.1"/><path d="M597.9 693L502.1 527.3"/><path d="M487.9 669.2L605 622"/><path d="M467.7 634.8L587.3 565.6"/><path d="M614.6 527.3L510.3 622"/><path d="M649.4 634.8L614.6 527.3"/><path d="M475.5 557.4L653.6 595.7"/><path d="M561.7 704L587.3 565.6"/><path d="M467.7 634.8L557.1 607.1"/><path d="M539.4 513.1L557.1 607.1"/><path d="M578.4 513.1L587.3 565.6"/><path d="M487.9 669.2L587.3 565.6"/><path d="M629.9 669.2L605 622"/><path d="M475.5 557.4L529.4 565.6"/><path d="M649.4 634.8L475.5 557.4"/><path d="M649.4 634.8L557.1 655"/><path d="M629.9 669.2L587.3 565.6"/><path d="M649.4 634.8L510.3 622"/><path d="M475.5 557.4L605 622"/></g>
<circle cx="561.7" cy="704" r="22.3" fill="#ff9a22"/>
<circle cx="539.4" cy="513.1" r="22.3" fill="#ff8a1c"/>
<circle cx="578.4" cy="513.1" r="22.3" fill="#ff8c1e"/>
<circle cx="641.2" cy="557.4" r="22.3" fill="#ff9a22"/>
<circle cx="653.6" cy="595.7" r="22.3" fill="#ff881e"/>
<circle cx="649.4" cy="634.8" r="22.3" fill="#ff921f"/>
<circle cx="629.9" cy="669.2" r="22.3" fill="#ff9420"/>
<circle cx="597.9" cy="693" r="22.3" fill="#ff801e"/>
<circle cx="502.1" cy="527.3" r="22.3" fill="#ff7a1e"/>
<circle cx="475.5" cy="557.4" r="22.3" fill="#ff6e1c"/>
<circle cx="464.1" cy="595.7" r="22.3" fill="#ff681c"/>
<circle cx="467.7" cy="634.8" r="22.3" fill="#ff841e"/>
<circle cx="487.9" cy="669.2" r="22.3" fill="#ff641c"/>
<circle cx="614.6" cy="527.3" r="22.3" fill="#ff4e1c"/>
<circle cx="519.8" cy="693" r="22.3" fill="#ff541c"/>
<circle cx="529.4" cy="565.6" r="22.7" fill="#ff3a1e"/>
<circle cx="587.3" cy="565.6" r="22.7" fill="#ff3a1e"/>
<circle cx="557.1" cy="607.1" r="22.7" fill="#ff2a1c"/>
<circle cx="510.3" cy="622" r="22.7" fill="#ff3a1e"/>
<circle cx="605" cy="622" r="22.7" fill="#ff3c1e"/>
<circle cx="557.1" cy="655" r="22.7" fill="#ff361e"/>
<text x="539.4" y="517.2" font-size="11.8" text-anchor="middle" fill="#2a0a04" >Ctsz</text>
<text x="578.4" y="517.2" font-size="11.8" text-anchor="middle" fill="#2a0a04" >Ifitm1</text>
<text x="614.6" y="531.4" font-size="11.8" text-anchor="middle" fill="#2a0a04" >Bcl2a1</text>
<text x="641.2" y="561.5" font-size="11.8" text-anchor="middle" fill="#2a0a04" >Igsf6</text>
<text x="653.6" y="599.8" font-size="11.8" text-anchor="middle" fill="#2a0a04" >Oasl</text>
<text x="649.4" y="638.9" font-size="11.8" text-anchor="middle" fill="#2a0a04" >Lrg1</text>
<text x="629.9" y="673.3" font-size="11.8" text-anchor="middle" fill="#2a0a04" >Slpi</text>
<text x="597.9" y="697.1" font-size="11.8" text-anchor="middle" fill="#2a0a04" >Cd40</text>
<text x="561.7" y="708.1" font-size="11.8" text-anchor="middle" fill="#2a0a04" >Slc11a1</text>
<text x="519.8" y="697.1" font-size="11.8" text-anchor="middle" fill="#2a0a04" >Fcgr2a</text>
<text x="487.9" y="673.3" font-size="11.8" text-anchor="middle" fill="#2a0a04" >Fcgr3</text>
<text x="467.7" y="638.9" font-size="11.8" text-anchor="middle" fill="#2a0a04" >Lilrb4</text>
<text x="464.1" y="599.8" font-size="11.8" text-anchor="middle" fill="#2a0a04" >Hck</text>
<text x="475.5" y="561.5" font-size="11.8" text-anchor="middle" fill="#2a0a04" >Isg15</text>
<text x="502.1" y="531.4" font-size="11.8" text-anchor="middle" fill="#2a0a04" >Mx1</text>
<text x="529.4" y="569.7" font-size="11.8" text-anchor="middle" fill="#2a0a04" >Fcgr1a</text>
<text x="587.3" y="569.7" font-size="11.8" text-anchor="middle" fill="#2a0a04" >Fcer1g</text>
<text x="557.1" y="611.2" font-size="11.8" text-anchor="middle" fill="#2a0a04" >Tyrobp</text>
<text x="510.3" y="626.1" font-size="11.8" text-anchor="middle" fill="#2a0a04" >Fcgr2b</text>
<text x="605.0" y="626.1" font-size="11.8" text-anchor="middle" fill="#2a0a04" >Cxcl2</text>
<text x="557.1" y="659.1" font-size="11.8" text-anchor="middle" fill="#2a0a04" >C5ar1</text>
</svg>
</body></html>
